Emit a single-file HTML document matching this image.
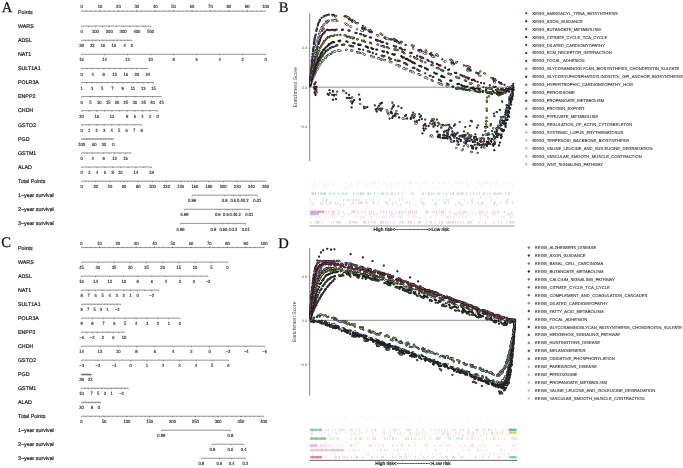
<!DOCTYPE html><html><head><meta charset="utf-8"><title>Figure</title><style>html,body{margin:0;padding:0;background:#fff;width:683px;height:468px;overflow:hidden}svg{display:block}svg text{text-rendering:geometricPrecision}</style></head><body><svg width="683" height="468" viewBox="0 0 683 468">
<style>.rl{font-family:"Liberation Sans", Arial, sans-serif;font-size:5.3px;fill:#1a1a1a;stroke:#1a1a1a;stroke-width:0.18px}.tl{font-family:"Liberation Sans", Arial, sans-serif;font-size:4.6px;fill:#1a1a1a;text-anchor:middle;stroke:#1a1a1a;stroke-width:0.12px}.yt{font-family:"Liberation Sans", Arial, sans-serif;font-size:3.9px;fill:#555;text-anchor:end}.yl{font-family:"Liberation Sans", Arial, sans-serif;font-size:5.1px;fill:#333;text-anchor:middle}.lg{font-family:"Liberation Sans", Arial, sans-serif;font-size:4.17px;fill:#1a1a1a;stroke:#1a1a1a;stroke-width:0.06px}.pl{font-family:"Liberation Serif", "Times New Roman", serif;font-size:14.6px;fill:#111;stroke:#111;stroke-width:0.25px}.rk{font-family:"Liberation Sans", Arial, sans-serif;font-size:4.8px;fill:#111;stroke:#111;stroke-width:0.2px}.ax{stroke:#3a3a3a;stroke-width:0.55}.tk{stroke:#3a3a3a;stroke-width:0.5;fill:none}</style>
<rect width="683" height="468" fill="#ffffff"/>
<text x="1.8" y="11.8" class="pl">A</text>
<text x="278.8" y="11.8" class="pl">B</text>
<text x="1.2" y="247.3" class="pl">C</text>
<text x="278.2" y="247.5" class="pl">D</text>
<text x="18" y="13.7" class="rl">Points</text>
<text x="18" y="27.95" class="rl">WARS</text>
<text x="18" y="42.04" class="rl">ADSL</text>
<text x="18" y="56.13" class="rl">NAT1</text>
<text x="18" y="70.22" class="rl">SULT1A1</text>
<text x="18" y="84.31" class="rl">POLR3A</text>
<text x="18" y="98.4" class="rl">ENPP2</text>
<text x="18" y="112.49" class="rl">CHDH</text>
<text x="18" y="126.58" class="rl">GSTO2</text>
<text x="18" y="140.67" class="rl">PGD</text>
<text x="18" y="154.76" class="rl">GSTM1</text>
<text x="18" y="168.85" class="rl">ALAD</text>
<text x="18" y="182.94" class="rl">Total Points</text>
<text x="18" y="197.03" class="rl">1&#8722;year survival</text>
<text x="18" y="211.12" class="rl">2&#8722;year survival</text>
<text x="18" y="225.21" class="rl">3&#8722;year survival</text>
<line x1="81.6" y1="11.2" x2="265.6" y2="11.2" class="ax"/>
<path d="M81.6 11.2v-1.1M100 11.2v-1.1M118.4 11.2v-1.1M136.8 11.2v-1.1M155.2 11.2v-1.1M173.6 11.2v-1.1M192 11.2v-1.1M210.4 11.2v-1.1M228.8 11.2v-1.1M247.2 11.2v-1.1M265.6 11.2v-1.1M86.2 11.2v-0.77M90.8 11.2v-0.77M95.4 11.2v-0.77M100 11.2v-0.77M104.6 11.2v-0.77M109.2 11.2v-0.77M113.8 11.2v-0.77M118.4 11.2v-0.77M123 11.2v-0.77M127.6 11.2v-0.77M132.2 11.2v-0.77M136.8 11.2v-0.77M141.4 11.2v-0.77M146 11.2v-0.77M150.6 11.2v-0.77M155.2 11.2v-0.77M159.8 11.2v-0.77M164.4 11.2v-0.77M169 11.2v-0.77M173.6 11.2v-0.77M178.2 11.2v-0.77M182.8 11.2v-0.77M187.4 11.2v-0.77M192 11.2v-0.77M196.6 11.2v-0.77M201.2 11.2v-0.77M205.8 11.2v-0.77M210.4 11.2v-0.77M215 11.2v-0.77M219.6 11.2v-0.77M224.2 11.2v-0.77M228.8 11.2v-0.77M233.4 11.2v-0.77M238 11.2v-0.77M242.6 11.2v-0.77M247.2 11.2v-0.77M251.8 11.2v-0.77M256.4 11.2v-0.77M261 11.2v-0.77" class="tk"/>
<line x1="81.6" y1="26.1" x2="150.7" y2="26.1" class="ax"/>
<path d="M81.6 26.1v1.1M88.51 26.1v1.1M95.42 26.1v1.1M102.33 26.1v1.1M109.24 26.1v1.1M116.15 26.1v1.1M123.06 26.1v1.1M129.97 26.1v1.1M136.88 26.1v1.1M143.79 26.1v1.1M150.7 26.1v1.1" class="tk"/>
<line x1="81.6" y1="40.19" x2="131.8" y2="40.19" class="ax"/>
<path d="M81.6 40.19v1.1M85.19 40.19v1.1M88.77 40.19v1.1M92.36 40.19v1.1M95.94 40.19v1.1M99.53 40.19v1.1M103.11 40.19v1.1M106.7 40.19v1.1M110.29 40.19v1.1M113.87 40.19v1.1M117.46 40.19v1.1M121.04 40.19v1.1M124.63 40.19v1.1M128.21 40.19v1.1M131.8 40.19v1.1" class="tk"/>
<line x1="81.6" y1="54.28" x2="265.6" y2="54.28" class="ax"/>
<path d="M81.6 54.28v1.1M104.6 54.28v1.1M127.6 54.28v1.1M150.6 54.28v1.1M173.6 54.28v1.1M196.6 54.28v1.1M219.6 54.28v1.1M242.6 54.28v1.1M265.6 54.28v1.1" class="tk"/>
<line x1="81.6" y1="68.37" x2="147.8" y2="68.37" class="ax"/>
<path d="M81.6 68.37v1.1M87.12 68.37v1.1M92.63 68.37v1.1M98.15 68.37v1.1M103.67 68.37v1.1M109.18 68.37v1.1M114.7 68.37v1.1M120.22 68.37v1.1M125.73 68.37v1.1M131.25 68.37v1.1M136.77 68.37v1.1M142.28 68.37v1.1M147.8 68.37v1.1" class="tk"/>
<line x1="81.6" y1="82.46" x2="153.6" y2="82.46" class="ax"/>
<path d="M81.6 82.46v1.1M86.74 82.46v1.1M91.89 82.46v1.1M97.03 82.46v1.1M102.17 82.46v1.1M107.31 82.46v1.1M112.46 82.46v1.1M117.6 82.46v1.1M122.74 82.46v1.1M127.89 82.46v1.1M133.03 82.46v1.1M138.17 82.46v1.1M143.31 82.46v1.1M148.46 82.46v1.1M153.6 82.46v1.1" class="tk"/>
<line x1="81.6" y1="96.55" x2="161.4" y2="96.55" class="ax"/>
<path d="M81.6 96.55v1.1M90.47 96.55v1.1M99.33 96.55v1.1M108.2 96.55v1.1M117.07 96.55v1.1M125.93 96.55v1.1M134.8 96.55v1.1M143.67 96.55v1.1M152.53 96.55v1.1M161.4 96.55v1.1" class="tk"/>
<line x1="81.6" y1="110.64" x2="157.7" y2="110.64" class="ax"/>
<path d="M81.6 110.64v1.1M89.21 110.64v1.1M96.82 110.64v1.1M104.43 110.64v1.1M112.04 110.64v1.1M119.65 110.64v1.1M127.26 110.64v1.1M134.87 110.64v1.1M142.48 110.64v1.1M150.09 110.64v1.1M157.7 110.64v1.1" class="tk"/>
<line x1="81.6" y1="124.73" x2="141.6" y2="124.73" class="ax"/>
<path d="M81.6 124.73v1.1M89.1 124.73v1.1M96.6 124.73v1.1M104.1 124.73v1.1M111.6 124.73v1.1M119.1 124.73v1.1M126.6 124.73v1.1M134.1 124.73v1.1M141.6 124.73v1.1" class="tk"/>
<line x1="81.6" y1="138.82" x2="113.4" y2="138.82" class="ax"/>
<path d="M81.6 138.82v1.1M83.19 138.82v1.1M84.78 138.82v1.1M86.37 138.82v1.1M87.96 138.82v1.1M89.55 138.82v1.1M91.14 138.82v1.1M92.73 138.82v1.1M94.32 138.82v1.1M95.91 138.82v1.1M97.5 138.82v1.1M99.09 138.82v1.1M100.68 138.82v1.1M102.27 138.82v1.1M103.86 138.82v1.1M105.45 138.82v1.1M107.04 138.82v1.1M108.63 138.82v1.1M110.22 138.82v1.1M111.81 138.82v1.1M113.4 138.82v1.1" class="tk"/>
<line x1="81.6" y1="152.91" x2="131" y2="152.91" class="ax"/>
<path d="M81.6 152.91v1.1M87.09 152.91v1.1M92.58 152.91v1.1M98.07 152.91v1.1M103.56 152.91v1.1M109.04 152.91v1.1M114.53 152.91v1.1M120.02 152.91v1.1M125.51 152.91v1.1M131 152.91v1.1" class="tk"/>
<line x1="81.6" y1="167" x2="151.4" y2="167" class="ax"/>
<path d="M81.6 167v1.1M89.36 167v1.1M97.11 167v1.1M104.87 167v1.1M112.62 167v1.1M120.38 167v1.1M128.13 167v1.1M135.89 167v1.1M143.64 167v1.1M151.4 167v1.1" class="tk"/>
<line x1="81.6" y1="181.09" x2="265.6" y2="181.09" class="ax"/>
<path d="M81.6 181.09v1.1M95.75 181.09v1.1M109.91 181.09v1.1M124.06 181.09v1.1M138.22 181.09v1.1M152.37 181.09v1.1M166.52 181.09v1.1M180.68 181.09v1.1M194.83 181.09v1.1M208.98 181.09v1.1M223.14 181.09v1.1M237.29 181.09v1.1M251.45 181.09v1.1M265.6 181.09v1.1M85.14 181.09v0.77M88.68 181.09v0.77M92.22 181.09v0.77M95.75 181.09v0.77M99.29 181.09v0.77M102.83 181.09v0.77M106.37 181.09v0.77M109.91 181.09v0.77M113.45 181.09v0.77M116.98 181.09v0.77M120.52 181.09v0.77M124.06 181.09v0.77M127.6 181.09v0.77M131.14 181.09v0.77M134.68 181.09v0.77M138.22 181.09v0.77M141.75 181.09v0.77M145.29 181.09v0.77M148.83 181.09v0.77M152.37 181.09v0.77M155.91 181.09v0.77M159.45 181.09v0.77M162.98 181.09v0.77M166.52 181.09v0.77M170.06 181.09v0.77M173.6 181.09v0.77M177.14 181.09v0.77M180.68 181.09v0.77M184.22 181.09v0.77M187.75 181.09v0.77M191.29 181.09v0.77M194.83 181.09v0.77M198.37 181.09v0.77M201.91 181.09v0.77M205.45 181.09v0.77M208.98 181.09v0.77M212.52 181.09v0.77M216.06 181.09v0.77M219.6 181.09v0.77M223.14 181.09v0.77M226.68 181.09v0.77M230.22 181.09v0.77M233.75 181.09v0.77M237.29 181.09v0.77M240.83 181.09v0.77M244.37 181.09v0.77M247.91 181.09v0.77M251.45 181.09v0.77M254.98 181.09v0.77M258.52 181.09v0.77M262.06 181.09v0.77" class="tk"/>
<line x1="192" y1="195.18" x2="257.4" y2="195.18" class="ax"/>
<path d="M192 195.18v1.1M224.7 195.18v1.1M233.3 195.18v1.1M240 195.18v1.1M245.7 195.18v1.1M257.4 195.18v1.1" class="tk"/>
<line x1="184.5" y1="209.27" x2="249.4" y2="209.27" class="ax"/>
<path d="M184.5 209.27v1.1M217.8 209.27v1.1M226 209.27v1.1M232.5 209.27v1.1M238 209.27v1.1M249.4 209.27v1.1" class="tk"/>
<line x1="180.5" y1="223.36" x2="245.7" y2="223.36" class="ax"/>
<path d="M180.5 223.36v1.1M213.5 223.36v1.1M222.3 223.36v1.1M228 223.36v1.1M234.4 223.36v1.1M245.7 223.36v1.1" class="tk"/>
<text x="18" y="249.8" class="rl">Points</text>
<text x="18" y="263.95" class="rl">WARS</text>
<text x="18" y="277.96" class="rl">ADSL</text>
<text x="18" y="291.97" class="rl">NAT1</text>
<text x="18" y="305.98" class="rl">SULT1A1</text>
<text x="18" y="319.99" class="rl">POLR3A</text>
<text x="18" y="334" class="rl">ENPP2</text>
<text x="18" y="348.01" class="rl">CHDH</text>
<text x="18" y="362.02" class="rl">GSTO2</text>
<text x="18" y="376.03" class="rl">PGD</text>
<text x="18" y="390.04" class="rl">GSTM1</text>
<text x="18" y="404.05" class="rl">ALAD</text>
<text x="18" y="418.06" class="rl">Total Points</text>
<text x="18" y="432.07" class="rl">1&#8722;year survival</text>
<text x="18" y="446.08" class="rl">2&#8722;year survival</text>
<text x="18" y="460.09" class="rl">3&#8722;year survival</text>
<line x1="81.3" y1="247.6" x2="264.2" y2="247.6" class="ax"/>
<path d="M81.3 247.6v-1.1M99.59 247.6v-1.1M117.88 247.6v-1.1M136.17 247.6v-1.1M154.46 247.6v-1.1M172.75 247.6v-1.1M191.04 247.6v-1.1M209.33 247.6v-1.1M227.62 247.6v-1.1M245.91 247.6v-1.1M264.2 247.6v-1.1M85.87 247.6v-0.77M90.44 247.6v-0.77M95.02 247.6v-0.77M99.59 247.6v-0.77M104.16 247.6v-0.77M108.73 247.6v-0.77M113.31 247.6v-0.77M117.88 247.6v-0.77M122.45 247.6v-0.77M127.02 247.6v-0.77M131.6 247.6v-0.77M136.17 247.6v-0.77M140.74 247.6v-0.77M145.31 247.6v-0.77M149.89 247.6v-0.77M154.46 247.6v-0.77M159.03 247.6v-0.77M163.6 247.6v-0.77M168.18 247.6v-0.77M172.75 247.6v-0.77M177.32 247.6v-0.77M181.89 247.6v-0.77M186.47 247.6v-0.77M191.04 247.6v-0.77M195.61 247.6v-0.77M200.18 247.6v-0.77M204.76 247.6v-0.77M209.33 247.6v-0.77M213.9 247.6v-0.77M218.47 247.6v-0.77M223.05 247.6v-0.77M227.62 247.6v-0.77M232.19 247.6v-0.77M236.76 247.6v-0.77M241.34 247.6v-0.77M245.91 247.6v-0.77M250.48 247.6v-0.77M255.05 247.6v-0.77M259.63 247.6v-0.77" class="tk"/>
<line x1="81.6" y1="262.1" x2="227.5" y2="262.1" class="ax"/>
<path d="M81.6 262.1v1.1M97.81 262.1v1.1M114.02 262.1v1.1M130.23 262.1v1.1M146.44 262.1v1.1M162.66 262.1v1.1M178.87 262.1v1.1M195.08 262.1v1.1M211.29 262.1v1.1M227.5 262.1v1.1" class="tk"/>
<line x1="81.6" y1="276.11" x2="208" y2="276.11" class="ax"/>
<path d="M81.6 276.11v1.1M95.64 276.11v1.1M109.69 276.11v1.1M123.73 276.11v1.1M137.78 276.11v1.1M151.82 276.11v1.1M165.87 276.11v1.1M179.91 276.11v1.1M193.96 276.11v1.1M208 276.11v1.1" class="tk"/>
<line x1="81.6" y1="290.12" x2="158.7" y2="290.12" class="ax"/>
<path d="M81.6 290.12v1.1M88.61 290.12v1.1M95.62 290.12v1.1M102.63 290.12v1.1M109.64 290.12v1.1M116.65 290.12v1.1M123.65 290.12v1.1M130.66 290.12v1.1M137.67 290.12v1.1M144.68 290.12v1.1M151.69 290.12v1.1M158.7 290.12v1.1" class="tk"/>
<line x1="81.6" y1="304.13" x2="120.4" y2="304.13" class="ax"/>
<path d="M81.6 304.13v1.1M84.83 304.13v1.1M88.07 304.13v1.1M91.3 304.13v1.1M94.53 304.13v1.1M97.77 304.13v1.1M101 304.13v1.1M104.23 304.13v1.1M107.47 304.13v1.1M110.7 304.13v1.1M113.93 304.13v1.1M117.17 304.13v1.1M120.4 304.13v1.1" class="tk"/>
<line x1="81.6" y1="318.14" x2="179.8" y2="318.14" class="ax"/>
<path d="M81.6 318.14v1.1M92.51 318.14v1.1M103.42 318.14v1.1M114.33 318.14v1.1M125.24 318.14v1.1M136.16 318.14v1.1M147.07 318.14v1.1M157.98 318.14v1.1M168.89 318.14v1.1M179.8 318.14v1.1" class="tk"/>
<line x1="81.6" y1="332.15" x2="124" y2="332.15" class="ax"/>
<path d="M81.6 332.15v1.1M86.9 332.15v1.1M92.2 332.15v1.1M97.5 332.15v1.1M102.8 332.15v1.1M108.1 332.15v1.1M113.4 332.15v1.1M118.7 332.15v1.1M124 332.15v1.1" class="tk"/>
<line x1="81.6" y1="346.16" x2="264.6" y2="346.16" class="ax"/>
<path d="M81.6 346.16v1.1M99.9 346.16v1.1M118.2 346.16v1.1M136.5 346.16v1.1M154.8 346.16v1.1M173.1 346.16v1.1M191.4 346.16v1.1M209.7 346.16v1.1M228 346.16v1.1M246.3 346.16v1.1M264.6 346.16v1.1" class="tk"/>
<line x1="81.6" y1="360.17" x2="228.5" y2="360.17" class="ax"/>
<path d="M81.6 360.17v1.1M97.92 360.17v1.1M114.24 360.17v1.1M130.57 360.17v1.1M146.89 360.17v1.1M163.21 360.17v1.1M179.53 360.17v1.1M195.86 360.17v1.1M212.18 360.17v1.1M228.5 360.17v1.1" class="tk"/>
<line x1="81.6" y1="374.18" x2="91.4" y2="374.18" class="ax"/>
<path d="M81.6 374.18v1.1M82.14 374.18v1.1M82.69 374.18v1.1M83.23 374.18v1.1M83.78 374.18v1.1M84.32 374.18v1.1M84.87 374.18v1.1M85.41 374.18v1.1M85.96 374.18v1.1M86.5 374.18v1.1M87.04 374.18v1.1M87.59 374.18v1.1M88.13 374.18v1.1M88.68 374.18v1.1M89.22 374.18v1.1M89.77 374.18v1.1M90.31 374.18v1.1M90.86 374.18v1.1M91.4 374.18v1.1" class="tk"/>
<line x1="81.6" y1="388.19" x2="128.2" y2="388.19" class="ax"/>
<path d="M81.6 388.19v1.1M84.93 388.19v1.1M88.26 388.19v1.1M91.59 388.19v1.1M94.91 388.19v1.1M98.24 388.19v1.1M101.57 388.19v1.1M104.9 388.19v1.1M108.23 388.19v1.1M111.56 388.19v1.1M114.89 388.19v1.1M118.21 388.19v1.1M121.54 388.19v1.1M124.87 388.19v1.1M128.2 388.19v1.1" class="tk"/>
<line x1="81.6" y1="402.2" x2="100.6" y2="402.2" class="ax"/>
<path d="M81.6 402.2v1.1M83.33 402.2v1.1M85.05 402.2v1.1M86.78 402.2v1.1M88.51 402.2v1.1M90.24 402.2v1.1M91.96 402.2v1.1M93.69 402.2v1.1M95.42 402.2v1.1M97.15 402.2v1.1M98.87 402.2v1.1M100.6 402.2v1.1" class="tk"/>
<line x1="81.3" y1="416.21" x2="263.7" y2="416.21" class="ax"/>
<path d="M81.3 416.21v1.1M104.1 416.21v1.1M126.9 416.21v1.1M149.7 416.21v1.1M172.5 416.21v1.1M195.3 416.21v1.1M218.1 416.21v1.1M240.9 416.21v1.1M263.7 416.21v1.1M85.86 416.21v0.77M90.42 416.21v0.77M94.98 416.21v0.77M99.54 416.21v0.77M104.1 416.21v0.77M108.66 416.21v0.77M113.22 416.21v0.77M117.78 416.21v0.77M122.34 416.21v0.77M126.9 416.21v0.77M131.46 416.21v0.77M136.02 416.21v0.77M140.58 416.21v0.77M145.14 416.21v0.77M149.7 416.21v0.77M154.26 416.21v0.77M158.82 416.21v0.77M163.38 416.21v0.77M167.94 416.21v0.77M172.5 416.21v0.77M177.06 416.21v0.77M181.62 416.21v0.77M186.18 416.21v0.77M190.74 416.21v0.77M195.3 416.21v0.77M199.86 416.21v0.77M204.42 416.21v0.77M208.98 416.21v0.77M213.54 416.21v0.77M218.1 416.21v0.77M222.66 416.21v0.77M227.22 416.21v0.77M231.78 416.21v0.77M236.34 416.21v0.77M240.9 416.21v0.77M245.46 416.21v0.77M250.02 416.21v0.77M254.58 416.21v0.77M259.14 416.21v0.77" class="tk"/>
<line x1="161.4" y1="430.22" x2="230.5" y2="430.22" class="ax"/>
<path d="M161.4 430.22v1.1M230.5 430.22v1.1" class="tk"/>
<line x1="212.4" y1="444.23" x2="243.7" y2="444.23" class="ax"/>
<path d="M212.4 444.23v1.1M230.5 444.23v1.1M243.7 444.23v1.1" class="tk"/>
<line x1="201.3" y1="458.24" x2="245.4" y2="458.24" class="ax"/>
<path d="M201.3 458.24v1.1M219.4 458.24v1.1M231.7 458.24v1.1M245.4 458.24v1.1" class="tk"/>
<g transform="scale(0.9 1)"><text x="90.67" y="8.3" class="tl">0</text><text x="111.11" y="8.3" class="tl">10</text><text x="131.56" y="8.3" class="tl">20</text><text x="152" y="8.3" class="tl">30</text><text x="172.44" y="8.3" class="tl">40</text><text x="192.89" y="8.3" class="tl">50</text><text x="213.33" y="8.3" class="tl">60</text><text x="233.78" y="8.3" class="tl">70</text><text x="254.22" y="8.3" class="tl">80</text><text x="274.67" y="8.3" class="tl">90</text><text x="295.11" y="8.3" class="tl">100</text><text x="90.67" y="33.3" class="tl">0</text><text x="106.02" y="33.3" class="tl">100</text><text x="121.38" y="33.3" class="tl">200</text><text x="136.73" y="33.3" class="tl">300</text><text x="152.09" y="33.3" class="tl">400</text><text x="167.44" y="33.3" class="tl">500</text><text x="90.67" y="47.39" class="tl">28</text><text x="102.62" y="47.39" class="tl">22</text><text x="114.57" y="47.39" class="tl">16</text><text x="126.52" y="47.39" class="tl">10</text><text x="138.48" y="47.39" class="tl">4</text><text x="146.44" y="47.39" class="tl">0</text><text x="90.67" y="61.48" class="tl">16</text><text x="116.22" y="61.48" class="tl">14</text><text x="141.78" y="61.48" class="tl">12</text><text x="167.33" y="61.48" class="tl">10</text><text x="192.89" y="61.48" class="tl">8</text><text x="218.44" y="61.48" class="tl">6</text><text x="244" y="61.48" class="tl">4</text><text x="269.56" y="61.48" class="tl">2</text><text x="295.11" y="61.48" class="tl">0</text><text x="90.67" y="75.57" class="tl">0</text><text x="102.93" y="75.57" class="tl">4</text><text x="115.19" y="75.57" class="tl">8</text><text x="127.44" y="75.57" class="tl">12</text><text x="139.7" y="75.57" class="tl">16</text><text x="151.96" y="75.57" class="tl">20</text><text x="164.22" y="75.57" class="tl">24</text><text x="90.67" y="89.66" class="tl">1</text><text x="102.1" y="89.66" class="tl">3</text><text x="113.52" y="89.66" class="tl">5</text><text x="124.95" y="89.66" class="tl">7</text><text x="136.38" y="89.66" class="tl">9</text><text x="147.81" y="89.66" class="tl">11</text><text x="159.24" y="89.66" class="tl">13</text><text x="170.67" y="89.66" class="tl">15</text><text x="90.67" y="103.75" class="tl">0</text><text x="100.52" y="103.75" class="tl">5</text><text x="110.37" y="103.75" class="tl">10</text><text x="120.22" y="103.75" class="tl">15</text><text x="130.07" y="103.75" class="tl">20</text><text x="139.93" y="103.75" class="tl">25</text><text x="149.78" y="103.75" class="tl">30</text><text x="159.63" y="103.75" class="tl">35</text><text x="169.48" y="103.75" class="tl">40</text><text x="179.33" y="103.75" class="tl">45</text><text x="90.67" y="117.84" class="tl">20</text><text x="107.58" y="117.84" class="tl">16</text><text x="124.49" y="117.84" class="tl">12</text><text x="141.4" y="117.84" class="tl">8</text><text x="149.86" y="117.84" class="tl">6</text><text x="158.31" y="117.84" class="tl">4</text><text x="166.77" y="117.84" class="tl">2</text><text x="175.22" y="117.84" class="tl">0</text><text x="90.67" y="131.93" class="tl">0</text><text x="99" y="131.93" class="tl">1</text><text x="107.33" y="131.93" class="tl">2</text><text x="115.67" y="131.93" class="tl">3</text><text x="124" y="131.93" class="tl">4</text><text x="132.33" y="131.93" class="tl">5</text><text x="140.67" y="131.93" class="tl">6</text><text x="149" y="131.93" class="tl">7</text><text x="157.33" y="131.93" class="tl">8</text><text x="90.67" y="146.02" class="tl">100</text><text x="104.8" y="146.02" class="tl">60</text><text x="115.4" y="146.02" class="tl">30</text><text x="126" y="146.02" class="tl">0</text><text x="90.67" y="160.11" class="tl">0</text><text x="102.86" y="160.11" class="tl">4</text><text x="115.06" y="160.11" class="tl">8</text><text x="127.26" y="160.11" class="tl">12</text><text x="139.46" y="160.11" class="tl">16</text><text x="90.67" y="174.2" class="tl">0</text><text x="99.28" y="174.2" class="tl">2</text><text x="107.9" y="174.2" class="tl">4</text><text x="116.52" y="174.2" class="tl">6</text><text x="125.14" y="174.2" class="tl">8</text><text x="133.75" y="174.2" class="tl">10</text><text x="150.99" y="174.2" class="tl">14</text><text x="168.22" y="174.2" class="tl">18</text><text x="90.67" y="188.29" class="tl">0</text><text x="106.39" y="188.29" class="tl">20</text><text x="122.12" y="188.29" class="tl">40</text><text x="137.85" y="188.29" class="tl">60</text><text x="153.57" y="188.29" class="tl">80</text><text x="169.3" y="188.29" class="tl">100</text><text x="185.03" y="188.29" class="tl">120</text><text x="200.75" y="188.29" class="tl">140</text><text x="216.48" y="188.29" class="tl">160</text><text x="232.21" y="188.29" class="tl">180</text><text x="247.93" y="188.29" class="tl">200</text><text x="263.66" y="188.29" class="tl">220</text><text x="279.38" y="188.29" class="tl">240</text><text x="295.11" y="188.29" class="tl">260</text><text x="213.33" y="202.38" class="tl">0.99</text><text x="249.67" y="202.38" class="tl">0.8</text><text x="259.22" y="202.38" class="tl">0.6</text><text x="266.67" y="202.38" class="tl">0.4</text><text x="273" y="202.38" class="tl">0.2</text><text x="286" y="202.38" class="tl">0.01</text><text x="205" y="216.47" class="tl">0.99</text><text x="242" y="216.47" class="tl">0.8</text><text x="251.11" y="216.47" class="tl">0.6</text><text x="258.33" y="216.47" class="tl">0.4</text><text x="264.44" y="216.47" class="tl">0.2</text><text x="277.11" y="216.47" class="tl">0.01</text><text x="200.56" y="230.56" class="tl">0.99</text><text x="237.22" y="230.56" class="tl">0.8</text><text x="247" y="230.56" class="tl">0.6</text><text x="253.33" y="230.56" class="tl">0.4</text><text x="260.44" y="230.56" class="tl">0.2</text><text x="273" y="230.56" class="tl">0.01</text><text x="90.33" y="244.7" class="tl">0</text><text x="110.66" y="244.7" class="tl">10</text><text x="130.98" y="244.7" class="tl">20</text><text x="151.3" y="244.7" class="tl">30</text><text x="171.62" y="244.7" class="tl">40</text><text x="191.94" y="244.7" class="tl">50</text><text x="212.27" y="244.7" class="tl">60</text><text x="232.59" y="244.7" class="tl">70</text><text x="252.91" y="244.7" class="tl">80</text><text x="273.23" y="244.7" class="tl">90</text><text x="293.56" y="244.7" class="tl">100</text><text x="90.67" y="269.3" class="tl">45</text><text x="108.68" y="269.3" class="tl">40</text><text x="126.69" y="269.3" class="tl">35</text><text x="144.7" y="269.3" class="tl">30</text><text x="162.72" y="269.3" class="tl">25</text><text x="180.73" y="269.3" class="tl">20</text><text x="198.74" y="269.3" class="tl">15</text><text x="216.75" y="269.3" class="tl">10</text><text x="234.77" y="269.3" class="tl">5</text><text x="252.78" y="269.3" class="tl">0</text><text x="90.67" y="283.31" class="tl">16</text><text x="106.27" y="283.31" class="tl">14</text><text x="121.88" y="283.31" class="tl">12</text><text x="137.48" y="283.31" class="tl">10</text><text x="153.09" y="283.31" class="tl">8</text><text x="168.69" y="283.31" class="tl">6</text><text x="184.3" y="283.31" class="tl">4</text><text x="199.9" y="283.31" class="tl">2</text><text x="215.51" y="283.31" class="tl">0</text><text x="231.11" y="283.31" class="tl">&#8722;2</text><text x="90.67" y="297.32" class="tl">8</text><text x="98.45" y="297.32" class="tl">7</text><text x="106.24" y="297.32" class="tl">6</text><text x="114.03" y="297.32" class="tl">5</text><text x="121.82" y="297.32" class="tl">4</text><text x="129.61" y="297.32" class="tl">3</text><text x="137.39" y="297.32" class="tl">2</text><text x="145.18" y="297.32" class="tl">1</text><text x="152.97" y="297.32" class="tl">0</text><text x="168.55" y="297.32" class="tl">&#8722;2</text><text x="90.67" y="311.33" class="tl">9</text><text x="97.85" y="311.33" class="tl">7</text><text x="105.04" y="311.33" class="tl">5</text><text x="112.22" y="311.33" class="tl">3</text><text x="119.41" y="311.33" class="tl">1</text><text x="130.19" y="311.33" class="tl">&#8722;2</text><text x="90.67" y="325.34" class="tl">9</text><text x="102.79" y="325.34" class="tl">8</text><text x="114.91" y="325.34" class="tl">7</text><text x="127.04" y="325.34" class="tl">6</text><text x="139.16" y="325.34" class="tl">5</text><text x="151.28" y="325.34" class="tl">4</text><text x="163.41" y="325.34" class="tl">3</text><text x="175.53" y="325.34" class="tl">2</text><text x="187.65" y="325.34" class="tl">1</text><text x="199.78" y="325.34" class="tl">0</text><text x="90.67" y="339.35" class="tl">&#8722;6</text><text x="102.44" y="339.35" class="tl">&#8722;2</text><text x="114.22" y="339.35" class="tl">2</text><text x="126" y="339.35" class="tl">6</text><text x="137.78" y="339.35" class="tl">10</text><text x="90.67" y="353.36" class="tl">14</text><text x="111" y="353.36" class="tl">12</text><text x="131.33" y="353.36" class="tl">10</text><text x="151.67" y="353.36" class="tl">8</text><text x="172" y="353.36" class="tl">6</text><text x="192.33" y="353.36" class="tl">4</text><text x="212.67" y="353.36" class="tl">2</text><text x="233" y="353.36" class="tl">0</text><text x="253.33" y="353.36" class="tl">&#8722;2</text><text x="273.67" y="353.36" class="tl">&#8722;4</text><text x="294" y="353.36" class="tl">&#8722;6</text><text x="90.67" y="367.37" class="tl">&#8722;3</text><text x="108.8" y="367.37" class="tl">&#8722;2</text><text x="126.94" y="367.37" class="tl">&#8722;1</text><text x="145.07" y="367.37" class="tl">0</text><text x="163.21" y="367.37" class="tl">1</text><text x="181.35" y="367.37" class="tl">2</text><text x="199.48" y="367.37" class="tl">3</text><text x="217.62" y="367.37" class="tl">4</text><text x="235.75" y="367.37" class="tl">5</text><text x="253.89" y="367.37" class="tl">6</text><text x="90.67" y="381.38" class="tl">38</text><text x="100.35" y="381.38" class="tl">22</text><text x="90.67" y="395.39" class="tl">10</text><text x="101.76" y="395.39" class="tl">7</text><text x="109.16" y="395.39" class="tl">5</text><text x="116.56" y="395.39" class="tl">3</text><text x="123.95" y="395.39" class="tl">1</text><text x="135.05" y="395.39" class="tl">&#8722;2</text><text x="90.67" y="409.4" class="tl">20</text><text x="102.18" y="409.4" class="tl">8</text><text x="109.86" y="409.4" class="tl">0</text><text x="90.33" y="423.41" class="tl">0</text><text x="115.67" y="423.41" class="tl">50</text><text x="141" y="423.41" class="tl">100</text><text x="166.33" y="423.41" class="tl">150</text><text x="191.67" y="423.41" class="tl">200</text><text x="217" y="423.41" class="tl">250</text><text x="242.33" y="423.41" class="tl">300</text><text x="267.67" y="423.41" class="tl">350</text><text x="293" y="423.41" class="tl">400</text><text x="179.33" y="437.42" class="tl">0.99</text><text x="256.11" y="437.42" class="tl">0.8</text><text x="236" y="451.43" class="tl">0.8</text><text x="256.11" y="451.43" class="tl">0.6</text><text x="270.78" y="451.43" class="tl">0.4</text><text x="223.67" y="465.44" class="tl">0.8</text><text x="243.78" y="465.44" class="tl">0.6</text><text x="257.44" y="465.44" class="tl">0.4</text><text x="272.67" y="465.44" class="tl">0.2</text></g>
<line x1="309.7" y1="13.2" x2="309.7" y2="161.2" stroke="#555" stroke-width="0.75"/>
<line x1="309.7" y1="87.2" x2="513.8" y2="87.2" stroke="#333" stroke-width="0.55"/>
<line x1="308.4" y1="48.0" x2="309.7" y2="48.0" stroke="#555" stroke-width="0.5"/>
<text x="307.09999999999997" y="49.4" class="yt">0.4</text>
<line x1="308.4" y1="87.2" x2="309.7" y2="87.2" stroke="#555" stroke-width="0.5"/>
<text x="307.09999999999997" y="88.6" class="yt">0.0</text>
<line x1="308.4" y1="126.8" x2="309.7" y2="126.8" stroke="#555" stroke-width="0.5"/>
<text x="307.09999999999997" y="128.2" class="yt">&#8722;0.4</text>
<text transform="translate(296.9,87.2) rotate(-90)" class="yl">Enrichment Score</text>
<path d="M314.7 88.8h0M315.5 92.8h0M332.9 91.3h0M364.3 108.3h0M389.6 118.6h0M399.1 117.5h0M413.7 117.8h0M423.6 125.8h0M424.4 124.7h0M425.3 123.9h0M438.7 137.2h0M439.4 136.0h0M444.0 138.2h0M450.5 139.0h0M451.5 141.8h0M457.2 140.7h0M462.3 135.5h0M463.0 136.4h0M464.0 136.6h0M468.4 138.4h0M469.6 140.9h0M474.2 141.7h0M474.8 144.8h0M481.2 141.6h0M486.9 145.9h0M490.1 144.1h0M490.9 141.4h0M491.3 141.8h0M494.1 143.7h0M496.3 136.7h0M499.1 134.4h0M501.1 125.4h0M503.0 123.2h0M505.4 115.2h0M505.7 120.0h0M505.8 116.5h0M507.8 116.7h0M508.1 114.8h0M508.2 111.4h0M508.8 107.8h0M509.3 107.9h0M510.8 95.3h0M512.1 97.2h0M512.2 96.3h0M512.7 96.0h0M513.5 90.1h0" stroke="#1c1c1c" stroke-width="2.3" stroke-linecap="round" fill="none"/>
<path d="M314.7 88.8h0M315.5 92.8h0M332.9 91.3h0M364.3 108.3h0M389.6 118.6h0M399.1 117.5h0M413.7 117.8h0M423.6 125.8h0M424.4 124.7h0M425.3 123.9h0M438.7 137.2h0M439.4 136.0h0M444.0 138.2h0M450.5 139.0h0M451.5 141.8h0M457.2 140.7h0M462.3 135.5h0M463.0 136.4h0M464.0 136.6h0M468.4 138.4h0M469.6 140.9h0M474.2 141.7h0M474.8 144.8h0M481.2 141.6h0M486.9 145.9h0M490.1 144.1h0M490.9 141.4h0M491.3 141.8h0M494.1 143.7h0M496.3 136.7h0M499.1 134.4h0M501.1 125.4h0M503.0 123.2h0M505.4 115.2h0M505.7 120.0h0M505.8 116.5h0M507.8 116.7h0M508.1 114.8h0M508.2 111.4h0M508.8 107.8h0M509.3 107.9h0M510.8 95.3h0M512.1 97.2h0M512.2 96.3h0M512.7 96.0h0M513.5 90.1h0" stroke="#1f2a5c" stroke-width="1.15" stroke-linecap="round" fill="none"/>
<path d="M314.6 87.4h0M348.3 97.8h0M349.0 95.0h0M349.7 98.2h0M374.8 105.4h0M393.0 107.0h0M393.9 105.4h0M413.2 115.7h0M414.0 116.9h0M414.6 116.6h0M421.9 118.9h0M433.4 126.7h0M434.2 123.0h0M434.9 125.2h0M441.3 127.7h0M447.1 130.6h0M447.7 133.5h0M454.3 133.5h0M457.6 132.7h0M463.9 135.2h0M464.7 138.8h0M465.6 134.9h0M469.5 135.5h0M470.2 138.4h0M471.0 136.6h0M475.4 134.3h0M476.1 139.8h0M476.9 140.2h0M483.3 144.2h0M484.1 141.0h0M488.4 133.3h0M489.2 134.4h0M492.0 131.1h0M495.5 132.8h0M496.5 128.9h0M500.3 120.9h0M500.5 120.5h0M500.9 117.5h0M503.3 116.9h0M505.9 110.9h0M506.2 114.1h0M506.5 111.4h0M508.2 105.4h0M508.5 107.4h0M510.2 100.0h0M510.3 100.5h0M511.7 95.8h0M511.9 94.2h0M513.0 88.1h0M513.3 83.8h0" stroke="#1c1c1c" stroke-width="2.3" stroke-linecap="round" fill="none"/>
<path d="M314.6 87.4h0M348.3 97.8h0M349.0 95.0h0M349.7 98.2h0M374.8 105.4h0M393.0 107.0h0M393.9 105.4h0M413.2 115.7h0M414.0 116.9h0M414.6 116.6h0M421.9 118.9h0M433.4 126.7h0M434.2 123.0h0M434.9 125.2h0M441.3 127.7h0M447.1 130.6h0M447.7 133.5h0M454.3 133.5h0M457.6 132.7h0M463.9 135.2h0M464.7 138.8h0M465.6 134.9h0M469.5 135.5h0M470.2 138.4h0M471.0 136.6h0M475.4 134.3h0M476.1 139.8h0M476.9 140.2h0M483.3 144.2h0M484.1 141.0h0M488.4 133.3h0M489.2 134.4h0M492.0 131.1h0M495.5 132.8h0M496.5 128.9h0M500.3 120.9h0M500.5 120.5h0M500.9 117.5h0M503.3 116.9h0M505.9 110.9h0M506.2 114.1h0M506.5 111.4h0M508.2 105.4h0M508.5 107.4h0M510.2 100.0h0M510.3 100.5h0M511.7 95.8h0M511.9 94.2h0M513.0 88.1h0M513.3 83.8h0" stroke="#2a8a8a" stroke-width="1.15" stroke-linecap="round" fill="none"/>
<path d="M314.7 87.2h0M315.5 92.0h0M332.2 94.8h0M333.1 91.6h0M334.0 95.6h0M359.1 94.6h0M359.9 99.6h0M391.7 108.7h0M392.4 102.7h0M393.6 105.4h0M401.5 108.0h0M419.3 114.2h0M420.0 117.2h0M421.0 115.8h0M431.3 121.2h0M432.3 124.2h0M433.1 119.7h0M436.9 119.6h0M437.7 125.8h0M438.3 122.7h0M442.5 125.0h0M443.7 125.4h0M448.3 125.0h0M449.3 124.8h0M449.9 127.1h0M454.0 125.8h0M454.8 124.4h0M455.2 124.6h0M459.7 122.1h0M464.0 131.4h0M465.3 127.1h0M470.0 125.8h0M470.8 120.9h0M471.9 121.5h0M476.9 127.7h0M478.1 125.3h0M485.2 127.2h0M486.3 121.6h0M487.3 126.9h0M490.5 125.5h0M491.0 124.1h0M493.9 113.6h0M494.4 116.2h0M496.6 112.2h0M497.0 112.1h0M499.8 110.0h0M502.0 101.3h0M502.2 101.8h0M505.6 92.7h0M508.9 91.7h0M509.3 97.3h0M513.1 87.8h0" stroke="#1c1c1c" stroke-width="2.3" stroke-linecap="round" fill="none"/>
<path d="M314.7 87.2h0M315.5 92.0h0M332.2 94.8h0M333.1 91.6h0M334.0 95.6h0M359.1 94.6h0M359.9 99.6h0M391.7 108.7h0M392.4 102.7h0M393.6 105.4h0M401.5 108.0h0M419.3 114.2h0M420.0 117.2h0M421.0 115.8h0M431.3 121.2h0M432.3 124.2h0M433.1 119.7h0M436.9 119.6h0M437.7 125.8h0M438.3 122.7h0M442.5 125.0h0M443.7 125.4h0M448.3 125.0h0M449.3 124.8h0M449.9 127.1h0M454.0 125.8h0M454.8 124.4h0M455.2 124.6h0M459.7 122.1h0M464.0 131.4h0M465.3 127.1h0M470.0 125.8h0M470.8 120.9h0M471.9 121.5h0M476.9 127.7h0M478.1 125.3h0M485.2 127.2h0M486.3 121.6h0M487.3 126.9h0M490.5 125.5h0M491.0 124.1h0M493.9 113.6h0M494.4 116.2h0M496.6 112.2h0M497.0 112.1h0M499.8 110.0h0M502.0 101.3h0M502.2 101.8h0M505.6 92.7h0M508.9 91.7h0M509.3 97.3h0M513.1 87.8h0" stroke="#2b8a50" stroke-width="1.15" stroke-linecap="round" fill="none"/>
<path d="M314.5 84.5h0M315.7 90.3h0M343.1 90.7h0M343.7 91.2h0M378.3 107.2h0M378.8 106.2h0M379.8 104.4h0M387.5 112.6h0M388.5 114.3h0M396.5 111.1h0M397.5 114.2h0M413.7 115.1h0M414.8 114.4h0M432.0 119.4h0M432.8 121.6h0M433.9 119.4h0M439.3 124.1h0M446.0 125.3h0M448.9 129.3h0M449.4 128.5h0M454.9 136.2h0M455.8 134.2h0M456.4 134.1h0M463.5 136.1h0M467.7 133.1h0M468.4 134.3h0M473.5 141.6h0M473.9 137.0h0M474.9 142.2h0M479.6 138.6h0M480.4 145.1h0M483.3 145.8h0M483.3 141.8h0M483.9 140.2h0M485.0 127.3h0M485.3 131.0h0M486.2 127.4h0M486.1 124.3h0M486.2 124.7h0M486.5 118.2h0M486.6 117.6h0M486.5 121.2h0M486.8 110.9h0M486.6 109.1h0M486.7 108.6h0M486.7 100.6h0M486.9 101.9h0M486.9 97.6h0M488.9 96.4h0M490.7 92.9h0M494.3 93.1h0M498.0 88.9h0M498.7 95.4h0M499.7 94.7h0M506.1 88.8h0M507.2 90.2h0M510.2 89.3h0M511.2 87.2h0" stroke="#1c1c1c" stroke-width="2.3" stroke-linecap="round" fill="none"/>
<path d="M314.5 84.5h0M315.7 90.3h0M343.1 90.7h0M343.7 91.2h0M378.3 107.2h0M378.8 106.2h0M379.8 104.4h0M387.5 112.6h0M388.5 114.3h0M396.5 111.1h0M397.5 114.2h0M413.7 115.1h0M414.8 114.4h0M432.0 119.4h0M432.8 121.6h0M433.9 119.4h0M439.3 124.1h0M446.0 125.3h0M448.9 129.3h0M449.4 128.5h0M454.9 136.2h0M455.8 134.2h0M456.4 134.1h0M463.5 136.1h0M467.7 133.1h0M468.4 134.3h0M473.5 141.6h0M473.9 137.0h0M474.9 142.2h0M479.6 138.6h0M480.4 145.1h0M483.3 145.8h0M483.3 141.8h0M483.9 140.2h0M485.0 127.3h0M485.3 131.0h0M486.2 127.4h0M486.1 124.3h0M486.2 124.7h0M486.5 118.2h0M486.6 117.6h0M486.5 121.2h0M486.8 110.9h0M486.6 109.1h0M486.7 108.6h0M486.7 100.6h0M486.9 101.9h0M486.9 97.6h0M488.9 96.4h0M490.7 92.9h0M494.3 93.1h0M498.0 88.9h0M498.7 95.4h0M499.7 94.7h0M506.1 88.8h0M507.2 90.2h0M510.2 89.3h0M511.2 87.2h0" stroke="#c8b43c" stroke-width="1.15" stroke-linecap="round" fill="none"/>
<path d="M314.6 92.7h0M315.5 95.0h0M336.0 99.1h0M351.6 107.4h0M367.3 107.2h0M392.3 117.9h0M393.1 116.2h0M410.7 118.9h0M422.4 133.3h0M423.4 128.4h0M424.1 130.4h0M442.7 137.8h0M447.3 136.7h0M452.4 131.5h0M453.2 135.4h0M454.0 135.3h0M459.5 136.4h0M460.7 139.8h0M467.2 141.0h0M471.8 139.8h0M472.7 141.9h0M476.0 148.7h0M476.5 147.7h0M477.4 144.6h0M482.0 144.8h0M488.0 141.9h0M488.7 143.4h0M492.6 144.4h0M493.4 145.8h0M496.9 136.2h0M497.5 137.2h0M500.7 135.3h0M501.0 137.9h0M501.3 134.5h0M503.0 131.3h0M505.5 125.1h0M505.8 123.2h0M506.8 119.8h0M506.9 116.9h0M507.8 115.4h0M508.9 111.5h0M509.1 112.8h0M509.9 103.6h0M511.5 98.8h0M512.5 94.8h0M512.4 95.7h0M512.6 91.5h0M513.2 88.9h0M513.5 89.6h0" stroke="#1c1c1c" stroke-width="2.3" stroke-linecap="round" fill="none"/>
<path d="M314.6 92.7h0M315.5 95.0h0M336.0 99.1h0M351.6 107.4h0M367.3 107.2h0M392.3 117.9h0M393.1 116.2h0M410.7 118.9h0M422.4 133.3h0M423.4 128.4h0M424.1 130.4h0M442.7 137.8h0M447.3 136.7h0M452.4 131.5h0M453.2 135.4h0M454.0 135.3h0M459.5 136.4h0M460.7 139.8h0M467.2 141.0h0M471.8 139.8h0M472.7 141.9h0M476.0 148.7h0M476.5 147.7h0M477.4 144.6h0M482.0 144.8h0M488.0 141.9h0M488.7 143.4h0M492.6 144.4h0M493.4 145.8h0M496.9 136.2h0M497.5 137.2h0M500.7 135.3h0M501.0 137.9h0M501.3 134.5h0M503.0 131.3h0M505.5 125.1h0M505.8 123.2h0M506.8 119.8h0M506.9 116.9h0M507.8 115.4h0M508.9 111.5h0M509.1 112.8h0M509.9 103.6h0M511.5 98.8h0M512.5 94.8h0M512.4 95.7h0M512.6 91.5h0M513.2 88.9h0M513.5 89.6h0" stroke="#222222" stroke-width="1.15" stroke-linecap="round" fill="none"/>
<path d="M314.6 84.1h0M315.9 89.0h0M316.5 89.4h0M346.2 93.2h0M346.8 97.9h0M381.3 108.7h0M382.3 108.8h0M398.4 106.3h0M416.8 120.9h0M428.6 126.0h0M446.9 132.6h0M447.7 133.2h0M448.5 130.0h0M451.6 128.3h0M456.0 134.3h0M459.1 139.0h0M465.5 143.7h0M466.9 138.7h0M467.3 138.3h0M474.2 138.6h0M474.8 139.9h0M475.8 136.9h0M480.4 141.7h0M481.3 138.7h0M487.5 135.1h0M488.2 138.1h0M493.9 135.9h0M494.7 142.2h0M495.1 138.3h0M497.8 133.7h0M498.0 135.1h0M500.4 122.9h0M502.9 123.1h0M505.6 114.9h0M507.1 114.4h0M507.3 111.2h0M507.8 111.0h0M508.9 108.5h0M510.3 100.1h0M510.7 99.9h0M510.6 102.4h0M511.7 99.3h0M512.7 93.2h0" stroke="#1c1c1c" stroke-width="2.3" stroke-linecap="round" fill="none"/>
<path d="M314.6 84.1h0M315.9 89.0h0M316.5 89.4h0M346.2 93.2h0M346.8 97.9h0M381.3 108.7h0M382.3 108.8h0M398.4 106.3h0M416.8 120.9h0M428.6 126.0h0M446.9 132.6h0M447.7 133.2h0M448.5 130.0h0M451.6 128.3h0M456.0 134.3h0M459.1 139.0h0M465.5 143.7h0M466.9 138.7h0M467.3 138.3h0M474.2 138.6h0M474.8 139.9h0M475.8 136.9h0M480.4 141.7h0M481.3 138.7h0M487.5 135.1h0M488.2 138.1h0M493.9 135.9h0M494.7 142.2h0M495.1 138.3h0M497.8 133.7h0M498.0 135.1h0M500.4 122.9h0M502.9 123.1h0M505.6 114.9h0M507.1 114.4h0M507.3 111.2h0M507.8 111.0h0M508.9 108.5h0M510.3 100.1h0M510.7 99.9h0M510.6 102.4h0M511.7 99.3h0M512.7 93.2h0" stroke="#b22234" stroke-width="1.15" stroke-linecap="round" fill="none"/>
<path d="M314.9 90.0h0M337.2 91.7h0M360.2 103.9h0M386.7 110.1h0M387.4 111.1h0M402.6 118.5h0M403.8 118.8h0M404.6 118.8h0M415.6 123.7h0M416.2 123.5h0M417.1 123.1h0M430.5 136.2h0M431.5 135.5h0M432.3 136.4h0M437.9 136.7h0M443.8 134.7h0M444.5 135.7h0M445.2 136.6h0M450.9 140.3h0M451.7 141.8h0M452.7 141.7h0M456.4 147.9h0M457.5 144.6h0M458.2 142.0h0M461.9 150.3h0M462.9 149.5h0M463.8 146.1h0M467.5 145.3h0M468.2 146.6h0M471.1 152.0h0M471.9 151.9h0M472.9 148.7h0M477.6 153.0h0M483.8 145.2h0M484.3 147.7h0M485.3 144.3h0M490.3 142.3h0M494.2 140.3h0M496.1 134.1h0M496.6 128.2h0M497.3 130.0h0M499.5 126.6h0M502.3 124.5h0M505.0 116.1h0M505.0 115.2h0M506.1 118.0h0M506.5 116.6h0M506.8 114.1h0M509.0 102.9h0M509.1 100.4h0M510.2 97.4h0M510.3 97.3h0M512.0 90.1h0" stroke="#1c1c1c" stroke-width="2.3" stroke-linecap="round" fill="none"/>
<path d="M314.9 90.0h0M337.2 91.7h0M360.2 103.9h0M386.7 110.1h0M387.4 111.1h0M402.6 118.5h0M403.8 118.8h0M404.6 118.8h0M415.6 123.7h0M416.2 123.5h0M417.1 123.1h0M430.5 136.2h0M431.5 135.5h0M432.3 136.4h0M437.9 136.7h0M443.8 134.7h0M444.5 135.7h0M445.2 136.6h0M450.9 140.3h0M451.7 141.8h0M452.7 141.7h0M456.4 147.9h0M457.5 144.6h0M458.2 142.0h0M461.9 150.3h0M462.9 149.5h0M463.8 146.1h0M467.5 145.3h0M468.2 146.6h0M471.1 152.0h0M471.9 151.9h0M472.9 148.7h0M477.6 153.0h0M483.8 145.2h0M484.3 147.7h0M485.3 144.3h0M490.3 142.3h0M494.2 140.3h0M496.1 134.1h0M496.6 128.2h0M497.3 130.0h0M499.5 126.6h0M502.3 124.5h0M505.0 116.1h0M505.0 115.2h0M506.1 118.0h0M506.5 116.6h0M506.8 114.1h0M509.0 102.9h0M509.1 100.4h0M510.2 97.4h0M510.3 97.3h0M512.0 90.1h0" stroke="#ffffff" stroke-width="1.15" stroke-linecap="round" fill="none"/>
<path d="M314.7 87.3h0M336.2 94.6h0M363.9 107.0h0M364.8 107.1h0M365.5 107.8h0M395.7 113.3h0M414.9 121.6h0M425.2 119.6h0M426.2 126.2h0M440.1 134.9h0M443.2 135.3h0M444.1 132.0h0M444.9 130.9h0M447.7 134.9h0M451.4 135.2h0M457.7 142.1h0M461.5 136.6h0M468.3 137.4h0M475.0 140.4h0M481.9 138.3h0M482.9 135.2h0M483.8 138.6h0M488.6 139.5h0M489.4 139.1h0M494.2 137.2h0M494.9 131.8h0M495.6 131.6h0M498.8 127.5h0M501.3 129.6h0M501.5 129.5h0M501.9 129.2h0M504.1 117.1h0M504.6 117.4h0M506.2 111.1h0M506.6 105.2h0M506.8 108.2h0M508.0 111.1h0M508.1 108.1h0M509.2 106.0h0M511.2 95.1h0M512.1 95.0h0M512.5 90.2h0" stroke="#1c1c1c" stroke-width="2.3" stroke-linecap="round" fill="none"/>
<path d="M314.7 87.3h0M336.2 94.6h0M363.9 107.0h0M364.8 107.1h0M365.5 107.8h0M395.7 113.3h0M414.9 121.6h0M425.2 119.6h0M426.2 126.2h0M440.1 134.9h0M443.2 135.3h0M444.1 132.0h0M444.9 130.9h0M447.7 134.9h0M451.4 135.2h0M457.7 142.1h0M461.5 136.6h0M468.3 137.4h0M475.0 140.4h0M481.9 138.3h0M482.9 135.2h0M483.8 138.6h0M488.6 139.5h0M489.4 139.1h0M494.2 137.2h0M494.9 131.8h0M495.6 131.6h0M498.8 127.5h0M501.3 129.6h0M501.5 129.5h0M501.9 129.2h0M504.1 117.1h0M504.6 117.4h0M506.2 111.1h0M506.6 105.2h0M506.8 108.2h0M508.0 111.1h0M508.1 108.1h0M509.2 106.0h0M511.2 95.1h0M512.1 95.0h0M512.5 90.2h0" stroke="#5b8db0" stroke-width="1.15" stroke-linecap="round" fill="none"/>
<path d="M314.7 86.9h0M315.7 92.0h0M316.8 92.3h0M329.8 93.1h0M350.8 101.5h0M351.3 98.1h0M352.2 97.4h0M379.1 109.7h0M379.9 109.0h0M381.0 110.7h0M395.5 116.3h0M411.9 115.5h0M413.0 112.7h0M430.0 123.4h0M434.3 125.7h0M435.2 122.6h0M441.6 125.4h0M447.6 131.4h0M454.3 137.8h0M454.9 134.1h0M460.1 136.0h0M463.2 137.2h0M464.1 142.4h0M465.2 136.5h0M471.3 135.3h0M478.8 144.3h0M479.3 144.2h0M485.5 134.6h0M486.3 134.3h0M492.6 134.2h0M493.3 128.3h0M497.4 128.2h0M498.0 126.9h0M498.3 125.6h0M500.3 122.8h0M500.9 117.3h0M502.9 117.4h0M503.4 122.4h0M503.6 121.4h0M505.3 112.6h0M505.8 109.6h0M507.2 110.7h0M507.3 106.5h0M509.1 99.3h0M510.3 96.4h0M511.2 99.2h0M511.5 94.1h0M511.7 92.2h0M513.0 87.7h0M513.1 85.9h0" stroke="#1c1c1c" stroke-width="2.3" stroke-linecap="round" fill="none"/>
<path d="M314.7 86.9h0M315.7 92.0h0M316.8 92.3h0M329.8 93.1h0M350.8 101.5h0M351.3 98.1h0M352.2 97.4h0M379.1 109.7h0M379.9 109.0h0M381.0 110.7h0M395.5 116.3h0M411.9 115.5h0M413.0 112.7h0M430.0 123.4h0M434.3 125.7h0M435.2 122.6h0M441.6 125.4h0M447.6 131.4h0M454.3 137.8h0M454.9 134.1h0M460.1 136.0h0M463.2 137.2h0M464.1 142.4h0M465.2 136.5h0M471.3 135.3h0M478.8 144.3h0M479.3 144.2h0M485.5 134.6h0M486.3 134.3h0M492.6 134.2h0M493.3 128.3h0M497.4 128.2h0M498.0 126.9h0M498.3 125.6h0M500.3 122.8h0M500.9 117.3h0M502.9 117.4h0M503.4 122.4h0M503.6 121.4h0M505.3 112.6h0M505.8 109.6h0M507.2 110.7h0M507.3 106.5h0M509.1 99.3h0M510.3 96.4h0M511.2 99.2h0M511.5 94.1h0M511.7 92.2h0M513.0 87.7h0M513.1 85.9h0" stroke="#6ab8c8" stroke-width="1.15" stroke-linecap="round" fill="none"/>
<path d="M314.7 89.1h0M327.7 93.9h0M328.6 94.9h0M329.5 90.2h0M352.1 103.5h0M352.8 101.7h0M354.1 100.1h0M380.8 103.5h0M381.8 103.0h0M394.5 115.7h0M395.1 114.5h0M411.0 117.7h0M411.4 117.9h0M419.2 120.0h0M438.1 136.8h0M439.2 136.7h0M440.3 137.6h0M445.9 138.1h0M446.7 135.6h0M447.5 138.5h0M452.3 134.2h0M453.4 135.9h0M456.9 138.2h0M460.9 141.1h0M466.1 142.8h0M471.1 145.7h0M472.2 147.9h0M473.2 147.5h0M479.5 145.1h0M480.4 141.2h0M485.9 144.5h0M491.0 140.8h0M491.8 139.1h0M492.3 139.1h0M496.3 133.5h0M496.9 131.5h0M500.3 128.6h0M500.5 124.8h0M502.2 120.5h0M503.8 123.0h0M504.1 121.0h0M504.4 124.2h0M506.3 112.9h0M507.5 111.6h0M509.8 100.0h0M509.9 99.0h0M511.1 102.0h0M511.5 98.1h0M511.4 98.0h0M512.5 85.6h0" stroke="#1c1c1c" stroke-width="2.3" stroke-linecap="round" fill="none"/>
<path d="M314.7 89.1h0M327.7 93.9h0M328.6 94.9h0M329.5 90.2h0M352.1 103.5h0M352.8 101.7h0M354.1 100.1h0M380.8 103.5h0M381.8 103.0h0M394.5 115.7h0M395.1 114.5h0M411.0 117.7h0M411.4 117.9h0M419.2 120.0h0M438.1 136.8h0M439.2 136.7h0M440.3 137.6h0M445.9 138.1h0M446.7 135.6h0M447.5 138.5h0M452.3 134.2h0M453.4 135.9h0M456.9 138.2h0M460.9 141.1h0M466.1 142.8h0M471.1 145.7h0M472.2 147.9h0M473.2 147.5h0M479.5 145.1h0M480.4 141.2h0M485.9 144.5h0M491.0 140.8h0M491.8 139.1h0M492.3 139.1h0M496.3 133.5h0M496.9 131.5h0M500.3 128.6h0M500.5 124.8h0M502.2 120.5h0M503.8 123.0h0M504.1 121.0h0M504.4 124.2h0M506.3 112.9h0M507.5 111.6h0M509.8 100.0h0M509.9 99.0h0M511.1 102.0h0M511.5 98.1h0M511.4 98.0h0M512.5 85.6h0" stroke="#4a2a3a" stroke-width="1.15" stroke-linecap="round" fill="none"/>
<path d="M314.7 87.7h0M315.6 82.5h0M316.4 86.9h0M333.0 99.7h0M334.0 95.0h0M359.9 99.3h0M375.7 109.4h0M376.7 111.5h0M377.4 108.6h0M390.6 112.7h0M391.2 111.6h0M392.1 113.3h0M405.2 115.9h0M406.0 115.2h0M407.1 118.5h0M425.7 128.6h0M437.0 131.7h0M437.5 131.7h0M438.5 134.7h0M443.7 138.0h0M444.6 135.4h0M449.2 136.8h0M450.1 137.3h0M454.2 141.2h0M458.7 144.6h0M465.8 140.8h0M466.9 140.6h0M467.7 140.4h0M472.5 146.2h0M476.9 138.8h0M477.6 142.9h0M481.4 147.4h0M486.8 142.0h0M487.7 144.1h0M494.3 150.2h0M494.8 144.0h0M499.0 145.5h0M499.9 142.6h0M501.7 136.3h0M501.8 130.5h0M503.6 130.9h0M504.0 130.0h0M505.5 126.7h0M505.6 126.9h0M506.0 120.3h0M507.6 119.7h0M508.8 116.4h0M509.2 116.6h0M509.8 108.7h0M510.2 108.5h0M511.2 104.6h0M512.3 99.4h0M512.7 93.7h0M512.8 86.9h0M512.9 90.1h0" stroke="#1c1c1c" stroke-width="2.3" stroke-linecap="round" fill="none"/>
<path d="M314.7 87.7h0M315.6 82.5h0M316.4 86.9h0M333.0 99.7h0M334.0 95.0h0M359.9 99.3h0M375.7 109.4h0M376.7 111.5h0M377.4 108.6h0M390.6 112.7h0M391.2 111.6h0M392.1 113.3h0M405.2 115.9h0M406.0 115.2h0M407.1 118.5h0M425.7 128.6h0M437.0 131.7h0M437.5 131.7h0M438.5 134.7h0M443.7 138.0h0M444.6 135.4h0M449.2 136.8h0M450.1 137.3h0M454.2 141.2h0M458.7 144.6h0M465.8 140.8h0M466.9 140.6h0M467.7 140.4h0M472.5 146.2h0M476.9 138.8h0M477.6 142.9h0M481.4 147.4h0M486.8 142.0h0M487.7 144.1h0M494.3 150.2h0M494.8 144.0h0M499.0 145.5h0M499.9 142.6h0M501.7 136.3h0M501.8 130.5h0M503.6 130.9h0M504.0 130.0h0M505.5 126.7h0M505.6 126.9h0M506.0 120.3h0M507.6 119.7h0M508.8 116.4h0M509.2 116.6h0M509.8 108.7h0M510.2 108.5h0M511.2 104.6h0M512.3 99.4h0M512.7 93.7h0M512.8 86.9h0M512.9 90.1h0" stroke="#1f2a5c" stroke-width="1.15" stroke-linecap="round" fill="none"/>
<path d="M310.0 85.9h0M310.6 85.1h0M311.1 83.1h0M311.5 82.5h0M311.8 81.6h0M312.2 81.0h0M312.3 79.8h0M312.6 78.7h0M313.2 78.0h0M313.4 77.2h0M314.0 76.6h0M314.2 76.2h0M314.3 74.9h0M314.7 74.1h0M315.8 72.6h0M316.1 71.0h0M316.3 70.9h0M317.4 69.3h0M317.8 67.9h0M318.4 66.7h0M318.9 65.9h0M319.4 65.7h0M319.7 64.7h0M320.5 64.1h0M321.8 62.0h0M322.5 61.1h0M322.8 60.0h0M323.6 60.1h0M324.9 57.8h0M325.6 57.9h0M326.6 56.5h0M327.9 55.2h0M328.4 55.1h0M329.4 54.4h0M331.1 53.9h0M331.9 52.5h0M333.5 52.1h0M334.4 51.5h0M335.3 51.6h0M338.1 50.4h0M338.9 51.0h0M339.6 50.4h0M340.4 50.8h0M346.1 49.8h0M346.8 49.8h0M351.2 50.5h0M352.3 50.7h0M357.1 52.2h0M358.2 52.9h0M359.1 52.7h0M359.9 53.0h0M362.5 53.4h0M363.2 53.7h0M364.0 54.3h0M364.8 54.7h0M371.1 56.0h0M371.7 56.3h0M372.6 57.1h0M373.2 56.8h0M374.2 57.3h0M378.0 58.3h0M378.9 58.2h0M379.8 58.8h0M380.7 59.7h0M381.8 59.5h0M384.3 60.1h0M385.2 60.2h0M389.8 61.4h0M390.3 62.2h0M391.5 62.1h0M396.6 64.9h0M397.5 65.1h0M398.3 65.2h0M399.0 66.4h0M399.8 66.0h0M403.6 68.4h0M404.3 68.2h0M405.0 69.0h0M406.0 69.2h0M406.6 68.8h0M410.0 71.2h0M410.8 71.2h0M412.0 71.8h0M412.8 71.8h0M413.6 72.6h0M418.5 74.2h0M419.3 74.5h0M420.2 75.0h0M424.9 77.6h0M426.0 77.3h0M426.7 78.1h0M427.3 78.5h0M431.6 80.0h0M432.6 81.0h0M438.7 83.2h0M439.2 83.5h0M440.3 84.1h0M441.3 84.2h0M442.1 84.7h0M446.7 85.9h0M447.3 86.4h0M452.4 86.6h0M453.1 86.7h0M457.8 87.6h0M458.7 87.8h0M462.0 88.3h0M465.4 89.1h0M470.1 89.4h0M471.1 89.2h0M471.9 89.6h0M472.7 90.2h0M474.0 90.3h0M475.0 90.1h0M479.4 91.3h0M480.3 91.1h0M481.4 90.6h0M482.5 91.3h0M483.4 91.2h0M486.1 91.8h0M487.4 91.8h0M488.2 92.3h0M489.6 92.3h0M490.7 92.1h0M496.2 93.0h0M497.0 92.2h0M500.6 91.6h0M501.7 90.6h0M502.5 90.7h0M503.5 90.8h0M506.7 89.2h0M507.9 89.1h0M510.4 87.9h0M511.1 87.9h0M512.1 87.7h0" stroke="#1c1c1c" stroke-width="2.3" stroke-linecap="round" fill="none"/>
<path d="M310.0 85.9h0M310.6 85.1h0M311.1 83.1h0M311.5 82.5h0M311.8 81.6h0M312.2 81.0h0M312.3 79.8h0M312.6 78.7h0M313.2 78.0h0M313.4 77.2h0M314.0 76.6h0M314.2 76.2h0M314.3 74.9h0M314.7 74.1h0M315.8 72.6h0M316.1 71.0h0M316.3 70.9h0M317.4 69.3h0M317.8 67.9h0M318.4 66.7h0M318.9 65.9h0M319.4 65.7h0M319.7 64.7h0M320.5 64.1h0M321.8 62.0h0M322.5 61.1h0M322.8 60.0h0M323.6 60.1h0M324.9 57.8h0M325.6 57.9h0M326.6 56.5h0M327.9 55.2h0M328.4 55.1h0M329.4 54.4h0M331.1 53.9h0M331.9 52.5h0M333.5 52.1h0M334.4 51.5h0M335.3 51.6h0M338.1 50.4h0M338.9 51.0h0M339.6 50.4h0M340.4 50.8h0M346.1 49.8h0M346.8 49.8h0M351.2 50.5h0M352.3 50.7h0M357.1 52.2h0M358.2 52.9h0M359.1 52.7h0M359.9 53.0h0M362.5 53.4h0M363.2 53.7h0M364.0 54.3h0M364.8 54.7h0M371.1 56.0h0M371.7 56.3h0M372.6 57.1h0M373.2 56.8h0M374.2 57.3h0M378.0 58.3h0M378.9 58.2h0M379.8 58.8h0M380.7 59.7h0M381.8 59.5h0M384.3 60.1h0M385.2 60.2h0M389.8 61.4h0M390.3 62.2h0M391.5 62.1h0M396.6 64.9h0M397.5 65.1h0M398.3 65.2h0M399.0 66.4h0M399.8 66.0h0M403.6 68.4h0M404.3 68.2h0M405.0 69.0h0M406.0 69.2h0M406.6 68.8h0M410.0 71.2h0M410.8 71.2h0M412.0 71.8h0M412.8 71.8h0M413.6 72.6h0M418.5 74.2h0M419.3 74.5h0M420.2 75.0h0M424.9 77.6h0M426.0 77.3h0M426.7 78.1h0M427.3 78.5h0M431.6 80.0h0M432.6 81.0h0M438.7 83.2h0M439.2 83.5h0M440.3 84.1h0M441.3 84.2h0M442.1 84.7h0M446.7 85.9h0M447.3 86.4h0M452.4 86.6h0M453.1 86.7h0M457.8 87.6h0M458.7 87.8h0M462.0 88.3h0M465.4 89.1h0M470.1 89.4h0M471.1 89.2h0M471.9 89.6h0M472.7 90.2h0M474.0 90.3h0M475.0 90.1h0M479.4 91.3h0M480.3 91.1h0M481.4 90.6h0M482.5 91.3h0M483.4 91.2h0M486.1 91.8h0M487.4 91.8h0M488.2 92.3h0M489.6 92.3h0M490.7 92.1h0M496.2 93.0h0M497.0 92.2h0M500.6 91.6h0M501.7 90.6h0M502.5 90.7h0M503.5 90.8h0M506.7 89.2h0M507.9 89.1h0M510.4 87.9h0M511.1 87.9h0M512.1 87.7h0" stroke="#e8e8e8" stroke-width="1.15" stroke-linecap="round" fill="none"/>
<path d="M310.3 85.7h0M310.6 84.8h0M310.6 83.7h0M310.8 82.9h0M311.3 81.3h0M311.8 79.6h0M312.0 79.1h0M312.4 78.6h0M312.4 77.9h0M313.0 75.8h0M313.3 75.1h0M313.7 74.8h0M314.0 73.3h0M314.2 73.1h0M314.7 71.6h0M314.8 71.0h0M315.5 69.6h0M315.5 68.9h0M316.0 68.5h0M316.4 67.7h0M317.3 64.9h0M317.4 64.0h0M318.3 63.4h0M318.5 61.8h0M318.9 61.3h0M319.5 61.0h0M320.1 59.8h0M320.5 58.6h0M321.1 57.5h0M321.6 56.9h0M321.9 56.2h0M322.7 55.9h0M323.0 54.7h0M323.6 53.9h0M324.0 53.6h0M324.9 52.6h0M325.9 51.0h0M326.6 50.8h0M327.3 50.3h0M328.4 49.7h0M330.0 48.2h0M330.5 48.2h0M331.5 47.4h0M332.7 46.9h0M333.7 46.8h0M335.7 46.1h0M336.6 45.2h0M337.4 45.3h0M342.0 44.8h0M342.7 44.6h0M343.8 44.7h0M344.4 44.6h0M349.5 45.6h0M350.2 45.8h0M351.1 46.0h0M352.1 46.4h0M353.1 46.4h0M358.8 49.1h0M359.8 49.3h0M363.2 49.8h0M367.8 51.3h0M368.9 51.4h0M369.8 51.9h0M372.8 53.0h0M376.3 54.2h0M381.7 55.7h0M382.7 56.0h0M383.7 56.5h0M384.5 56.1h0M389.0 57.6h0M389.4 58.5h0M390.2 58.7h0M391.0 58.8h0M395.2 60.1h0M397.6 61.0h0M398.2 60.9h0M399.1 60.8h0M399.6 61.0h0M404.2 63.2h0M404.6 63.2h0M405.5 63.5h0M406.1 64.2h0M407.2 64.7h0M412.8 67.8h0M413.6 67.6h0M414.5 68.2h0M417.1 69.6h0M418.1 69.8h0M419.0 70.7h0M419.7 70.8h0M425.2 73.3h0M429.7 75.8h0M430.5 75.7h0M432.8 77.1h0M433.3 77.0h0M438.9 79.7h0M439.5 79.9h0M440.3 80.5h0M441.1 81.3h0M446.9 83.7h0M447.9 84.2h0M448.7 84.6h0M453.1 86.8h0M456.0 88.5h0M457.1 88.8h0M458.0 88.3h0M459.0 88.6h0M460.9 88.7h0M462.0 88.8h0M462.9 89.5h0M463.8 89.2h0M465.8 90.1h0M467.6 89.9h0M468.4 89.7h0M469.6 90.5h0M475.1 91.2h0M476.6 91.3h0M477.5 91.8h0M478.4 91.9h0M479.2 91.3h0M479.9 92.2h0M482.8 91.9h0M486.9 92.7h0M488.6 92.9h0M489.4 93.0h0M490.5 93.5h0M492.0 94.1h0M497.1 94.2h0M498.4 94.7h0M500.5 94.4h0M501.0 94.4h0M502.1 93.4h0M502.7 93.9h0M503.4 93.3h0M506.4 91.0h0M507.2 91.2h0M507.8 90.2h0M508.3 90.4h0M510.9 89.0h0M511.3 88.8h0" stroke="#1c1c1c" stroke-width="2.3" stroke-linecap="round" fill="none"/>
<path d="M310.3 85.7h0M310.6 84.8h0M310.6 83.7h0M310.8 82.9h0M311.3 81.3h0M311.8 79.6h0M312.0 79.1h0M312.4 78.6h0M312.4 77.9h0M313.0 75.8h0M313.3 75.1h0M313.7 74.8h0M314.0 73.3h0M314.2 73.1h0M314.7 71.6h0M314.8 71.0h0M315.5 69.6h0M315.5 68.9h0M316.0 68.5h0M316.4 67.7h0M317.3 64.9h0M317.4 64.0h0M318.3 63.4h0M318.5 61.8h0M318.9 61.3h0M319.5 61.0h0M320.1 59.8h0M320.5 58.6h0M321.1 57.5h0M321.6 56.9h0M321.9 56.2h0M322.7 55.9h0M323.0 54.7h0M323.6 53.9h0M324.0 53.6h0M324.9 52.6h0M325.9 51.0h0M326.6 50.8h0M327.3 50.3h0M328.4 49.7h0M330.0 48.2h0M330.5 48.2h0M331.5 47.4h0M332.7 46.9h0M333.7 46.8h0M335.7 46.1h0M336.6 45.2h0M337.4 45.3h0M342.0 44.8h0M342.7 44.6h0M343.8 44.7h0M344.4 44.6h0M349.5 45.6h0M350.2 45.8h0M351.1 46.0h0M352.1 46.4h0M353.1 46.4h0M358.8 49.1h0M359.8 49.3h0M363.2 49.8h0M367.8 51.3h0M368.9 51.4h0M369.8 51.9h0M372.8 53.0h0M376.3 54.2h0M381.7 55.7h0M382.7 56.0h0M383.7 56.5h0M384.5 56.1h0M389.0 57.6h0M389.4 58.5h0M390.2 58.7h0M391.0 58.8h0M395.2 60.1h0M397.6 61.0h0M398.2 60.9h0M399.1 60.8h0M399.6 61.0h0M404.2 63.2h0M404.6 63.2h0M405.5 63.5h0M406.1 64.2h0M407.2 64.7h0M412.8 67.8h0M413.6 67.6h0M414.5 68.2h0M417.1 69.6h0M418.1 69.8h0M419.0 70.7h0M419.7 70.8h0M425.2 73.3h0M429.7 75.8h0M430.5 75.7h0M432.8 77.1h0M433.3 77.0h0M438.9 79.7h0M439.5 79.9h0M440.3 80.5h0M441.1 81.3h0M446.9 83.7h0M447.9 84.2h0M448.7 84.6h0M453.1 86.8h0M456.0 88.5h0M457.1 88.8h0M458.0 88.3h0M459.0 88.6h0M460.9 88.7h0M462.0 88.8h0M462.9 89.5h0M463.8 89.2h0M465.8 90.1h0M467.6 89.9h0M468.4 89.7h0M469.6 90.5h0M475.1 91.2h0M476.6 91.3h0M477.5 91.8h0M478.4 91.9h0M479.2 91.3h0M479.9 92.2h0M482.8 91.9h0M486.9 92.7h0M488.6 92.9h0M489.4 93.0h0M490.5 93.5h0M492.0 94.1h0M497.1 94.2h0M498.4 94.7h0M500.5 94.4h0M501.0 94.4h0M502.1 93.4h0M502.7 93.9h0M503.4 93.3h0M506.4 91.0h0M507.2 91.2h0M507.8 90.2h0M508.3 90.4h0M510.9 89.0h0M511.3 88.8h0" stroke="#1f7a3e" stroke-width="1.15" stroke-linecap="round" fill="none"/>
<path d="M310.4 85.3h0M310.3 84.2h0M310.8 82.6h0M311.2 81.4h0M311.3 80.2h0M311.8 79.4h0M312.2 77.4h0M312.5 76.4h0M312.8 75.4h0M313.1 74.9h0M313.5 72.4h0M313.8 72.0h0M314.5 69.6h0M314.9 68.6h0M315.2 67.6h0M315.5 67.1h0M315.8 65.3h0M316.0 64.9h0M316.5 63.8h0M316.9 62.6h0M317.1 62.5h0M317.7 61.2h0M318.1 59.5h0M318.3 58.8h0M319.1 57.8h0M319.8 56.4h0M320.5 55.0h0M321.0 53.4h0M321.6 53.2h0M321.8 52.3h0M322.3 52.1h0M323.2 50.1h0M323.7 50.2h0M324.3 49.1h0M325.5 47.7h0M327.1 46.4h0M328.1 45.5h0M328.9 44.1h0M329.4 44.5h0M330.8 43.4h0M331.5 43.0h0M332.7 42.2h0M333.4 42.2h0M334.2 42.3h0M338.6 40.9h0M339.3 41.4h0M340.2 40.7h0M346.4 41.4h0M347.6 41.8h0M353.3 42.9h0M354.1 43.1h0M354.7 43.3h0M358.2 44.5h0M359.0 44.9h0M359.7 44.7h0M360.6 45.1h0M365.8 46.4h0M366.6 46.9h0M367.3 46.8h0M368.0 47.7h0M371.4 48.0h0M372.3 48.7h0M373.1 49.0h0M376.3 49.6h0M377.1 49.6h0M382.5 51.2h0M383.4 51.7h0M384.1 51.6h0M387.1 52.1h0M388.0 53.1h0M392.4 54.2h0M393.5 54.6h0M394.1 54.8h0M394.8 54.4h0M401.4 56.2h0M402.2 57.1h0M402.7 57.5h0M403.7 57.5h0M405.7 59.0h0M406.3 58.6h0M407.1 59.0h0M407.9 59.6h0M408.7 60.3h0M410.1 60.7h0M411.1 61.3h0M411.9 62.1h0M412.8 62.5h0M414.1 62.9h0M414.8 63.4h0M419.3 65.8h0M420.1 66.1h0M420.7 66.1h0M421.5 66.6h0M425.0 68.0h0M425.8 68.3h0M426.6 68.8h0M427.2 69.4h0M427.9 69.6h0M434.3 72.7h0M435.8 73.7h0M436.8 73.8h0M441.2 76.4h0M441.7 75.9h0M442.8 76.9h0M443.3 76.6h0M444.3 77.3h0M450.1 80.6h0M450.6 80.6h0M451.5 80.7h0M457.4 84.2h0M458.1 83.9h0M459.0 84.1h0M461.2 85.1h0M462.2 85.6h0M462.9 86.3h0M464.2 86.2h0M464.9 86.8h0M466.8 86.7h0M467.4 86.6h0M471.3 87.9h0M472.3 87.9h0M473.3 87.7h0M474.2 88.7h0M475.0 88.8h0M477.2 88.4h0M478.2 88.7h0M479.0 89.4h0M479.8 88.8h0M486.1 90.0h0M492.7 91.2h0M493.5 91.7h0M497.4 92.1h0M498.4 92.4h0M499.2 92.9h0M500.2 93.3h0M501.7 92.6h0M506.2 90.4h0M507.1 90.1h0M507.9 89.7h0M508.4 89.4h0M509.3 89.1h0" stroke="#1c1c1c" stroke-width="2.3" stroke-linecap="round" fill="none"/>
<path d="M310.4 85.3h0M310.3 84.2h0M310.8 82.6h0M311.2 81.4h0M311.3 80.2h0M311.8 79.4h0M312.2 77.4h0M312.5 76.4h0M312.8 75.4h0M313.1 74.9h0M313.5 72.4h0M313.8 72.0h0M314.5 69.6h0M314.9 68.6h0M315.2 67.6h0M315.5 67.1h0M315.8 65.3h0M316.0 64.9h0M316.5 63.8h0M316.9 62.6h0M317.1 62.5h0M317.7 61.2h0M318.1 59.5h0M318.3 58.8h0M319.1 57.8h0M319.8 56.4h0M320.5 55.0h0M321.0 53.4h0M321.6 53.2h0M321.8 52.3h0M322.3 52.1h0M323.2 50.1h0M323.7 50.2h0M324.3 49.1h0M325.5 47.7h0M327.1 46.4h0M328.1 45.5h0M328.9 44.1h0M329.4 44.5h0M330.8 43.4h0M331.5 43.0h0M332.7 42.2h0M333.4 42.2h0M334.2 42.3h0M338.6 40.9h0M339.3 41.4h0M340.2 40.7h0M346.4 41.4h0M347.6 41.8h0M353.3 42.9h0M354.1 43.1h0M354.7 43.3h0M358.2 44.5h0M359.0 44.9h0M359.7 44.7h0M360.6 45.1h0M365.8 46.4h0M366.6 46.9h0M367.3 46.8h0M368.0 47.7h0M371.4 48.0h0M372.3 48.7h0M373.1 49.0h0M376.3 49.6h0M377.1 49.6h0M382.5 51.2h0M383.4 51.7h0M384.1 51.6h0M387.1 52.1h0M388.0 53.1h0M392.4 54.2h0M393.5 54.6h0M394.1 54.8h0M394.8 54.4h0M401.4 56.2h0M402.2 57.1h0M402.7 57.5h0M403.7 57.5h0M405.7 59.0h0M406.3 58.6h0M407.1 59.0h0M407.9 59.6h0M408.7 60.3h0M410.1 60.7h0M411.1 61.3h0M411.9 62.1h0M412.8 62.5h0M414.1 62.9h0M414.8 63.4h0M419.3 65.8h0M420.1 66.1h0M420.7 66.1h0M421.5 66.6h0M425.0 68.0h0M425.8 68.3h0M426.6 68.8h0M427.2 69.4h0M427.9 69.6h0M434.3 72.7h0M435.8 73.7h0M436.8 73.8h0M441.2 76.4h0M441.7 75.9h0M442.8 76.9h0M443.3 76.6h0M444.3 77.3h0M450.1 80.6h0M450.6 80.6h0M451.5 80.7h0M457.4 84.2h0M458.1 83.9h0M459.0 84.1h0M461.2 85.1h0M462.2 85.6h0M462.9 86.3h0M464.2 86.2h0M464.9 86.8h0M466.8 86.7h0M467.4 86.6h0M471.3 87.9h0M472.3 87.9h0M473.3 87.7h0M474.2 88.7h0M475.0 88.8h0M477.2 88.4h0M478.2 88.7h0M479.0 89.4h0M479.8 88.8h0M486.1 90.0h0M492.7 91.2h0M493.5 91.7h0M497.4 92.1h0M498.4 92.4h0M499.2 92.9h0M500.2 93.3h0M501.7 92.6h0M506.2 90.4h0M507.1 90.1h0M507.9 89.7h0M508.4 89.4h0M509.3 89.1h0" stroke="#3a1620" stroke-width="1.15" stroke-linecap="round" fill="none"/>
<path d="M310.2 84.0h0M310.7 82.6h0M310.8 80.8h0M311.0 80.3h0M311.0 79.0h0M311.4 77.6h0M311.9 76.8h0M312.0 76.0h0M311.9 74.6h0M312.3 73.8h0M312.6 72.3h0M313.3 70.3h0M313.3 69.0h0M313.7 68.6h0M313.9 66.4h0M314.0 65.6h0M314.6 64.7h0M315.2 62.7h0M315.4 61.8h0M315.4 61.1h0M315.7 59.9h0M316.3 59.4h0M316.5 58.3h0M316.6 57.5h0M317.1 56.2h0M317.7 54.3h0M318.2 53.4h0M318.3 52.1h0M318.6 51.4h0M319.2 50.8h0M319.8 48.4h0M320.0 48.0h0M320.4 47.5h0M321.1 46.3h0M321.6 45.3h0M322.5 44.1h0M323.2 42.8h0M323.7 42.5h0M323.9 41.3h0M324.6 41.0h0M325.9 39.4h0M326.7 38.4h0M328.0 37.2h0M329.3 37.2h0M330.2 36.4h0M330.9 35.9h0M332.9 36.1h0M333.6 35.9h0M334.6 35.1h0M337.3 35.2h0M340.4 35.0h0M344.5 35.3h0M345.4 35.7h0M346.2 35.8h0M347.2 36.9h0M349.0 36.6h0M350.1 37.6h0M351.7 37.4h0M352.5 37.6h0M353.0 38.5h0M354.0 37.9h0M357.0 39.4h0M357.8 39.3h0M362.0 40.6h0M362.5 40.9h0M363.8 40.6h0M364.5 41.6h0M365.1 41.8h0M370.0 42.7h0M371.1 43.4h0M377.5 44.6h0M378.2 44.6h0M381.4 45.9h0M382.6 46.2h0M383.5 46.2h0M384.3 47.2h0M386.9 47.1h0M388.0 47.7h0M388.7 48.3h0M394.4 49.5h0M395.2 49.5h0M396.3 49.6h0M396.9 50.2h0M397.7 50.1h0M402.2 51.7h0M402.8 52.0h0M404.0 53.0h0M404.5 53.4h0M410.4 56.3h0M414.0 57.2h0M415.0 57.9h0M415.7 58.2h0M416.5 58.6h0M417.4 59.1h0M420.6 60.3h0M421.4 61.2h0M422.2 61.4h0M425.3 62.4h0M431.4 65.2h0M432.6 65.4h0M436.8 68.2h0M437.4 68.0h0M438.3 68.1h0M438.8 68.6h0M440.8 69.8h0M441.6 69.9h0M442.4 70.7h0M443.3 71.0h0M448.4 73.7h0M449.5 73.8h0M450.3 74.5h0M451.1 74.2h0M456.2 76.9h0M457.0 77.6h0M458.0 77.6h0M458.8 78.2h0M459.2 77.9h0M464.9 80.4h0M466.2 80.9h0M469.8 83.3h0M470.7 83.9h0M471.5 83.4h0M478.0 85.7h0M478.7 85.3h0M483.4 87.1h0M486.1 87.8h0M488.2 88.3h0M489.2 88.5h0M490.2 88.4h0M490.8 89.0h0M491.9 88.7h0M495.9 90.0h0M496.7 89.7h0M497.5 90.3h0M498.5 90.1h0M499.2 90.3h0M501.8 91.4h0M502.8 91.3h0M503.6 91.2h0M505.4 91.5h0M509.6 89.1h0M510.3 89.1h0" stroke="#1c1c1c" stroke-width="2.3" stroke-linecap="round" fill="none"/>
<path d="M310.2 84.0h0M310.7 82.6h0M310.8 80.8h0M311.0 80.3h0M311.0 79.0h0M311.4 77.6h0M311.9 76.8h0M312.0 76.0h0M311.9 74.6h0M312.3 73.8h0M312.6 72.3h0M313.3 70.3h0M313.3 69.0h0M313.7 68.6h0M313.9 66.4h0M314.0 65.6h0M314.6 64.7h0M315.2 62.7h0M315.4 61.8h0M315.4 61.1h0M315.7 59.9h0M316.3 59.4h0M316.5 58.3h0M316.6 57.5h0M317.1 56.2h0M317.7 54.3h0M318.2 53.4h0M318.3 52.1h0M318.6 51.4h0M319.2 50.8h0M319.8 48.4h0M320.0 48.0h0M320.4 47.5h0M321.1 46.3h0M321.6 45.3h0M322.5 44.1h0M323.2 42.8h0M323.7 42.5h0M323.9 41.3h0M324.6 41.0h0M325.9 39.4h0M326.7 38.4h0M328.0 37.2h0M329.3 37.2h0M330.2 36.4h0M330.9 35.9h0M332.9 36.1h0M333.6 35.9h0M334.6 35.1h0M337.3 35.2h0M340.4 35.0h0M344.5 35.3h0M345.4 35.7h0M346.2 35.8h0M347.2 36.9h0M349.0 36.6h0M350.1 37.6h0M351.7 37.4h0M352.5 37.6h0M353.0 38.5h0M354.0 37.9h0M357.0 39.4h0M357.8 39.3h0M362.0 40.6h0M362.5 40.9h0M363.8 40.6h0M364.5 41.6h0M365.1 41.8h0M370.0 42.7h0M371.1 43.4h0M377.5 44.6h0M378.2 44.6h0M381.4 45.9h0M382.6 46.2h0M383.5 46.2h0M384.3 47.2h0M386.9 47.1h0M388.0 47.7h0M388.7 48.3h0M394.4 49.5h0M395.2 49.5h0M396.3 49.6h0M396.9 50.2h0M397.7 50.1h0M402.2 51.7h0M402.8 52.0h0M404.0 53.0h0M404.5 53.4h0M410.4 56.3h0M414.0 57.2h0M415.0 57.9h0M415.7 58.2h0M416.5 58.6h0M417.4 59.1h0M420.6 60.3h0M421.4 61.2h0M422.2 61.4h0M425.3 62.4h0M431.4 65.2h0M432.6 65.4h0M436.8 68.2h0M437.4 68.0h0M438.3 68.1h0M438.8 68.6h0M440.8 69.8h0M441.6 69.9h0M442.4 70.7h0M443.3 71.0h0M448.4 73.7h0M449.5 73.8h0M450.3 74.5h0M451.1 74.2h0M456.2 76.9h0M457.0 77.6h0M458.0 77.6h0M458.8 78.2h0M459.2 77.9h0M464.9 80.4h0M466.2 80.9h0M469.8 83.3h0M470.7 83.9h0M471.5 83.4h0M478.0 85.7h0M478.7 85.3h0M483.4 87.1h0M486.1 87.8h0M488.2 88.3h0M489.2 88.5h0M490.2 88.4h0M490.8 89.0h0M491.9 88.7h0M495.9 90.0h0M496.7 89.7h0M497.5 90.3h0M498.5 90.1h0M499.2 90.3h0M501.8 91.4h0M502.8 91.3h0M503.6 91.2h0M505.4 91.5h0M509.6 89.1h0M510.3 89.1h0" stroke="#6aa83a" stroke-width="1.15" stroke-linecap="round" fill="none"/>
<path d="M310.1 83.3h0M310.4 82.7h0M310.6 81.7h0M310.7 81.5h0M310.8 80.1h0M311.1 77.8h0M311.3 77.0h0M311.5 77.0h0M311.4 75.2h0M311.8 73.7h0M311.8 73.1h0M312.1 71.6h0M312.3 71.2h0M312.5 69.4h0M312.6 68.9h0M312.7 68.2h0M313.0 66.6h0M313.3 66.1h0M313.4 64.4h0M313.6 64.0h0M313.6 62.9h0M313.8 61.5h0M314.3 60.5h0M314.3 59.5h0M314.8 57.8h0M314.7 57.4h0M315.3 56.6h0M315.8 53.8h0M315.8 53.0h0M315.9 52.4h0M316.8 49.8h0M317.1 49.4h0M317.3 48.4h0M317.5 47.2h0M317.6 46.4h0M318.5 43.9h0M318.7 43.9h0M319.1 42.5h0M319.9 40.8h0M320.0 39.9h0M320.5 38.5h0M320.6 38.4h0M321.0 36.9h0M321.9 35.5h0M323.1 33.8h0M323.8 33.3h0M324.4 32.6h0M325.0 31.6h0M326.7 30.1h0M327.6 29.9h0M328.8 30.2h0M329.8 30.1h0M331.6 29.9h0M333.2 29.8h0M334.0 30.2h0M334.9 30.4h0M335.5 30.0h0M336.5 29.6h0M342.0 29.9h0M342.9 29.7h0M348.5 30.5h0M349.6 30.7h0M355.5 32.9h0M356.6 33.1h0M360.2 33.8h0M361.2 34.4h0M363.7 35.2h0M364.5 36.0h0M365.8 35.8h0M369.9 37.3h0M371.0 37.6h0M376.0 40.0h0M376.8 40.5h0M377.5 40.2h0M377.9 40.8h0M380.2 41.0h0M381.1 41.8h0M382.0 42.3h0M382.9 42.1h0M386.6 43.4h0M387.4 43.9h0M393.9 45.9h0M394.7 46.4h0M395.5 46.6h0M396.2 46.6h0M399.7 48.1h0M400.6 48.0h0M401.5 48.8h0M402.5 49.6h0M404.8 49.8h0M410.2 52.8h0M411.1 53.0h0M411.6 52.9h0M417.2 56.0h0M420.0 56.7h0M420.9 57.4h0M421.4 57.5h0M422.5 57.7h0M423.1 58.2h0M427.5 59.9h0M428.3 60.4h0M428.7 61.1h0M431.4 61.8h0M432.6 62.9h0M436.9 64.0h0M438.6 65.0h0M439.3 65.6h0M440.2 65.3h0M440.5 65.6h0M445.2 67.7h0M448.2 69.9h0M449.0 69.5h0M455.0 72.8h0M456.2 73.0h0M460.6 74.9h0M462.2 75.6h0M462.8 76.3h0M464.0 76.3h0M464.4 76.5h0M466.1 77.6h0M466.8 77.3h0M467.6 77.7h0M468.4 78.8h0M469.2 78.3h0M471.8 80.0h0M472.5 80.1h0M473.4 79.7h0M474.3 80.1h0M475.2 81.1h0M477.7 81.8h0M481.1 82.8h0M484.1 83.4h0M489.8 85.4h0M493.5 86.6h0M494.3 87.1h0M495.6 86.9h0M501.0 89.1h0M502.0 89.0h0M502.6 88.9h0M504.4 90.2h0M505.3 90.3h0M505.9 89.6h0M506.4 89.8h0M507.5 89.2h0M509.5 88.9h0M510.2 88.6h0M510.9 88.0h0M513.2 87.6h0" stroke="#1c1c1c" stroke-width="2.3" stroke-linecap="round" fill="none"/>
<path d="M310.1 83.3h0M310.4 82.7h0M310.6 81.7h0M310.7 81.5h0M310.8 80.1h0M311.1 77.8h0M311.3 77.0h0M311.5 77.0h0M311.4 75.2h0M311.8 73.7h0M311.8 73.1h0M312.1 71.6h0M312.3 71.2h0M312.5 69.4h0M312.6 68.9h0M312.7 68.2h0M313.0 66.6h0M313.3 66.1h0M313.4 64.4h0M313.6 64.0h0M313.6 62.9h0M313.8 61.5h0M314.3 60.5h0M314.3 59.5h0M314.8 57.8h0M314.7 57.4h0M315.3 56.6h0M315.8 53.8h0M315.8 53.0h0M315.9 52.4h0M316.8 49.8h0M317.1 49.4h0M317.3 48.4h0M317.5 47.2h0M317.6 46.4h0M318.5 43.9h0M318.7 43.9h0M319.1 42.5h0M319.9 40.8h0M320.0 39.9h0M320.5 38.5h0M320.6 38.4h0M321.0 36.9h0M321.9 35.5h0M323.1 33.8h0M323.8 33.3h0M324.4 32.6h0M325.0 31.6h0M326.7 30.1h0M327.6 29.9h0M328.8 30.2h0M329.8 30.1h0M331.6 29.9h0M333.2 29.8h0M334.0 30.2h0M334.9 30.4h0M335.5 30.0h0M336.5 29.6h0M342.0 29.9h0M342.9 29.7h0M348.5 30.5h0M349.6 30.7h0M355.5 32.9h0M356.6 33.1h0M360.2 33.8h0M361.2 34.4h0M363.7 35.2h0M364.5 36.0h0M365.8 35.8h0M369.9 37.3h0M371.0 37.6h0M376.0 40.0h0M376.8 40.5h0M377.5 40.2h0M377.9 40.8h0M380.2 41.0h0M381.1 41.8h0M382.0 42.3h0M382.9 42.1h0M386.6 43.4h0M387.4 43.9h0M393.9 45.9h0M394.7 46.4h0M395.5 46.6h0M396.2 46.6h0M399.7 48.1h0M400.6 48.0h0M401.5 48.8h0M402.5 49.6h0M404.8 49.8h0M410.2 52.8h0M411.1 53.0h0M411.6 52.9h0M417.2 56.0h0M420.0 56.7h0M420.9 57.4h0M421.4 57.5h0M422.5 57.7h0M423.1 58.2h0M427.5 59.9h0M428.3 60.4h0M428.7 61.1h0M431.4 61.8h0M432.6 62.9h0M436.9 64.0h0M438.6 65.0h0M439.3 65.6h0M440.2 65.3h0M440.5 65.6h0M445.2 67.7h0M448.2 69.9h0M449.0 69.5h0M455.0 72.8h0M456.2 73.0h0M460.6 74.9h0M462.2 75.6h0M462.8 76.3h0M464.0 76.3h0M464.4 76.5h0M466.1 77.6h0M466.8 77.3h0M467.6 77.7h0M468.4 78.8h0M469.2 78.3h0M471.8 80.0h0M472.5 80.1h0M473.4 79.7h0M474.3 80.1h0M475.2 81.1h0M477.7 81.8h0M481.1 82.8h0M484.1 83.4h0M489.8 85.4h0M493.5 86.6h0M494.3 87.1h0M495.6 86.9h0M501.0 89.1h0M502.0 89.0h0M502.6 88.9h0M504.4 90.2h0M505.3 90.3h0M505.9 89.6h0M506.4 89.8h0M507.5 89.2h0M509.5 88.9h0M510.2 88.6h0M510.9 88.0h0M513.2 87.6h0" stroke="#8b1a3d" stroke-width="1.15" stroke-linecap="round" fill="none"/>
<path d="M310.1 83.3h0M310.5 81.5h0M310.5 79.4h0M310.7 77.8h0M310.9 77.4h0M310.8 76.4h0M311.1 74.8h0M311.2 74.3h0M311.3 73.6h0M311.6 70.9h0M311.6 70.7h0M312.0 68.5h0M312.0 67.4h0M312.2 67.2h0M312.7 64.1h0M313.0 63.2h0M312.9 61.7h0M313.2 59.0h0M313.4 58.6h0M313.8 57.9h0M314.0 57.3h0M314.1 55.5h0M314.3 54.1h0M314.4 53.9h0M314.8 51.9h0M314.7 51.5h0M315.2 50.3h0M315.9 46.7h0M316.0 46.1h0M316.3 45.1h0M316.5 43.7h0M316.6 43.3h0M316.8 42.6h0M317.1 41.5h0M317.0 40.6h0M317.9 38.1h0M318.1 37.3h0M319.0 34.3h0M319.2 33.9h0M319.8 32.4h0M319.9 32.1h0M320.3 31.0h0M320.6 30.3h0M321.6 28.2h0M321.9 27.3h0M322.3 27.0h0M323.4 25.1h0M324.2 24.5h0M326.1 21.7h0M328.1 20.7h0M328.9 20.8h0M332.0 20.3h0M333.9 20.5h0M334.6 20.2h0M335.5 20.2h0M336.2 19.7h0M337.3 20.9h0M345.4 23.6h0M346.5 24.3h0M347.2 25.0h0M347.7 24.9h0M350.5 26.5h0M351.2 26.6h0M357.1 29.3h0M361.5 30.8h0M362.3 30.4h0M363.0 30.9h0M376.9 35.1h0M377.7 35.2h0M378.3 36.3h0M385.0 38.2h0M386.0 38.9h0M386.7 38.7h0M387.6 38.9h0M388.5 39.0h0M397.0 42.0h0M397.9 42.2h0M398.9 42.6h0M399.6 43.1h0M400.6 43.3h0M413.2 48.4h0M418.2 50.6h0M418.7 50.6h0M419.9 51.6h0M420.6 51.2h0M422.8 52.3h0M423.8 52.7h0M424.7 53.4h0M425.2 53.0h0M426.3 53.8h0M431.6 55.7h0M432.5 56.8h0M433.1 56.3h0M434.2 56.9h0M444.6 61.7h0M445.6 61.4h0M452.4 64.4h0M467.4 70.5h0M468.1 71.2h0M468.6 70.9h0M479.5 75.9h0M480.5 75.8h0M494.1 82.2h0M494.9 82.5h0M507.7 87.5h0" stroke="#1c1c1c" stroke-width="2.3" stroke-linecap="round" fill="none"/>
<path d="M310.1 83.3h0M310.5 81.5h0M310.5 79.4h0M310.7 77.8h0M310.9 77.4h0M310.8 76.4h0M311.1 74.8h0M311.2 74.3h0M311.3 73.6h0M311.6 70.9h0M311.6 70.7h0M312.0 68.5h0M312.0 67.4h0M312.2 67.2h0M312.7 64.1h0M313.0 63.2h0M312.9 61.7h0M313.2 59.0h0M313.4 58.6h0M313.8 57.9h0M314.0 57.3h0M314.1 55.5h0M314.3 54.1h0M314.4 53.9h0M314.8 51.9h0M314.7 51.5h0M315.2 50.3h0M315.9 46.7h0M316.0 46.1h0M316.3 45.1h0M316.5 43.7h0M316.6 43.3h0M316.8 42.6h0M317.1 41.5h0M317.0 40.6h0M317.9 38.1h0M318.1 37.3h0M319.0 34.3h0M319.2 33.9h0M319.8 32.4h0M319.9 32.1h0M320.3 31.0h0M320.6 30.3h0M321.6 28.2h0M321.9 27.3h0M322.3 27.0h0M323.4 25.1h0M324.2 24.5h0M326.1 21.7h0M328.1 20.7h0M328.9 20.8h0M332.0 20.3h0M333.9 20.5h0M334.6 20.2h0M335.5 20.2h0M336.2 19.7h0M337.3 20.9h0M345.4 23.6h0M346.5 24.3h0M347.2 25.0h0M347.7 24.9h0M350.5 26.5h0M351.2 26.6h0M357.1 29.3h0M361.5 30.8h0M362.3 30.4h0M363.0 30.9h0M376.9 35.1h0M377.7 35.2h0M378.3 36.3h0M385.0 38.2h0M386.0 38.9h0M386.7 38.7h0M387.6 38.9h0M388.5 39.0h0M397.0 42.0h0M397.9 42.2h0M398.9 42.6h0M399.6 43.1h0M400.6 43.3h0M413.2 48.4h0M418.2 50.6h0M418.7 50.6h0M419.9 51.6h0M420.6 51.2h0M422.8 52.3h0M423.8 52.7h0M424.7 53.4h0M425.2 53.0h0M426.3 53.8h0M431.6 55.7h0M432.5 56.8h0M433.1 56.3h0M434.2 56.9h0M444.6 61.7h0M445.6 61.4h0M452.4 64.4h0M467.4 70.5h0M468.1 71.2h0M468.6 70.9h0M479.5 75.9h0M480.5 75.8h0M494.1 82.2h0M494.9 82.5h0M507.7 87.5h0" stroke="#ffffff" stroke-width="1.15" stroke-linecap="round" fill="none"/>
<path d="M310.4 83.2h0M310.3 82.6h0M310.5 81.5h0M310.7 81.0h0M311.6 75.5h0M311.4 74.5h0M311.8 73.9h0M311.9 72.6h0M312.6 69.4h0M312.8 68.1h0M312.9 66.8h0M313.6 62.8h0M315.6 53.3h0M315.8 52.0h0M316.0 51.3h0M316.3 51.0h0M316.3 50.1h0M318.9 40.6h0M320.1 36.4h0M322.2 31.1h0M322.8 29.6h0M322.9 29.3h0M323.6 28.7h0M326.6 23.1h0M327.0 21.9h0M327.6 21.8h0M335.1 16.6h0M336.1 15.9h0M345.8 15.9h0M346.5 17.0h0M347.7 17.4h0M348.4 17.4h0M349.1 18.0h0M352.4 19.8h0M354.6 21.3h0M355.2 22.4h0M356.0 23.0h0M357.0 23.2h0M357.8 23.2h0M362.9 26.2h0M365.2 27.6h0M370.6 30.2h0M380.6 33.7h0M381.2 34.3h0M382.3 34.8h0M393.7 39.0h0M394.6 39.1h0M395.5 40.0h0M396.4 40.3h0M400.9 42.0h0M401.7 42.0h0M411.9 45.4h0M412.9 46.5h0M413.6 46.2h0M425.7 50.5h0M426.4 51.4h0M431.3 52.8h0M435.8 54.9h0M436.5 54.4h0M437.3 55.5h0M438.1 55.6h0M450.4 59.9h0M451.4 60.0h0M451.9 60.6h0M452.5 61.2h0M456.3 62.5h0M457.0 62.1h0M463.9 65.5h0M466.3 65.9h0M467.6 66.5h0M468.4 66.3h0M468.9 67.2h0M469.9 67.1h0M480.4 71.4h0M484.3 73.3h0M485.1 73.6h0M491.4 77.8h0M492.4 78.2h0M493.0 78.1h0M494.9 78.9h0M495.9 80.3h0M500.8 82.9h0M509.8 86.8h0M510.5 86.6h0M511.6 87.0h0M512.5 87.1h0M513.3 87.5h0" stroke="#1c1c1c" stroke-width="2.3" stroke-linecap="round" fill="none"/>
<path d="M310.4 83.2h0M310.3 82.6h0M310.5 81.5h0M310.7 81.0h0M311.6 75.5h0M311.4 74.5h0M311.8 73.9h0M311.9 72.6h0M312.6 69.4h0M312.8 68.1h0M312.9 66.8h0M313.6 62.8h0M315.6 53.3h0M315.8 52.0h0M316.0 51.3h0M316.3 51.0h0M316.3 50.1h0M318.9 40.6h0M320.1 36.4h0M322.2 31.1h0M322.8 29.6h0M322.9 29.3h0M323.6 28.7h0M326.6 23.1h0M327.0 21.9h0M327.6 21.8h0M335.1 16.6h0M336.1 15.9h0M345.8 15.9h0M346.5 17.0h0M347.7 17.4h0M348.4 17.4h0M349.1 18.0h0M352.4 19.8h0M354.6 21.3h0M355.2 22.4h0M356.0 23.0h0M357.0 23.2h0M357.8 23.2h0M362.9 26.2h0M365.2 27.6h0M370.6 30.2h0M380.6 33.7h0M381.2 34.3h0M382.3 34.8h0M393.7 39.0h0M394.6 39.1h0M395.5 40.0h0M396.4 40.3h0M400.9 42.0h0M401.7 42.0h0M411.9 45.4h0M412.9 46.5h0M413.6 46.2h0M425.7 50.5h0M426.4 51.4h0M431.3 52.8h0M435.8 54.9h0M436.5 54.4h0M437.3 55.5h0M438.1 55.6h0M450.4 59.9h0M451.4 60.0h0M451.9 60.6h0M452.5 61.2h0M456.3 62.5h0M457.0 62.1h0M463.9 65.5h0M466.3 65.9h0M467.6 66.5h0M468.4 66.3h0M468.9 67.2h0M469.9 67.1h0M480.4 71.4h0M484.3 73.3h0M485.1 73.6h0M491.4 77.8h0M492.4 78.2h0M493.0 78.1h0M494.9 78.9h0M495.9 80.3h0M500.8 82.9h0M509.8 86.8h0M510.5 86.6h0M511.6 87.0h0M512.5 87.1h0M513.3 87.5h0" stroke="#c8c040" stroke-width="1.15" stroke-linecap="round" fill="none"/>
<path d="M310.4 80.0h0M310.4 79.5h0M310.2 78.4h0M310.5 77.0h0M310.5 74.8h0M310.8 73.5h0M310.9 72.9h0M311.0 71.0h0M311.1 70.7h0M311.2 70.0h0M311.2 68.7h0M311.5 67.0h0M311.5 65.2h0M311.7 64.6h0M311.8 63.6h0M311.7 62.3h0M311.8 60.6h0M312.0 59.9h0M312.4 58.1h0M312.3 56.9h0M312.6 56.3h0M312.5 54.1h0M313.1 51.6h0M313.0 49.8h0M313.3 48.5h0M313.6 48.1h0M313.7 46.8h0M314.0 44.2h0M313.9 43.3h0M314.3 41.9h0M314.3 40.5h0M314.7 39.8h0M314.6 38.8h0M314.8 38.0h0M315.2 36.1h0M315.4 35.6h0M315.8 34.6h0M316.4 31.0h0M316.3 30.8h0M316.6 29.9h0M316.9 29.3h0M316.9 28.3h0M317.8 25.6h0M318.0 24.1h0M318.8 22.6h0M319.5 21.3h0M319.7 20.6h0M320.0 20.0h0M321.6 17.8h0M323.8 16.6h0M324.5 15.8h0M326.3 15.5h0M326.8 15.2h0M328.8 14.7h0M332.3 14.8h0M332.7 15.4h0M333.8 15.0h0M344.6 16.4h0M349.2 19.4h0M350.1 19.5h0M351.0 20.1h0M351.8 20.5h0M352.3 21.7h0M362.2 28.0h0M363.3 28.3h0M363.8 29.3h0M365.0 29.0h0M365.6 29.4h0M368.5 30.4h0M369.4 31.6h0M370.2 32.0h0M371.1 32.0h0M371.9 32.0h0M384.4 37.6h0M385.1 37.5h0M390.2 39.3h0M391.0 39.3h0M391.9 39.6h0M394.5 40.8h0M395.1 40.7h0M395.9 41.1h0M396.8 41.2h0M399.3 42.9h0M405.6 44.9h0M419.1 50.1h0M420.0 50.1h0M420.6 50.0h0M421.3 50.6h0M429.9 53.9h0M430.7 53.8h0M431.5 54.9h0M432.4 55.1h0M442.3 59.3h0M451.4 62.7h0M452.3 62.8h0M453.3 63.2h0M454.3 63.8h0M467.6 69.1h0M468.3 69.3h0M469.3 69.2h0M470.1 69.5h0M470.7 70.5h0M476.3 72.7h0M477.3 73.1h0M477.8 73.5h0M478.7 73.5h0M493.1 79.4h0M493.9 80.6h0M499.0 82.2h0M499.9 83.3h0M501.1 83.2h0M501.7 84.1h0M504.5 84.8h0M513.0 87.6h0" stroke="#1c1c1c" stroke-width="2.3" stroke-linecap="round" fill="none"/>
<path d="M310.4 80.0h0M310.4 79.5h0M310.2 78.4h0M310.5 77.0h0M310.5 74.8h0M310.8 73.5h0M310.9 72.9h0M311.0 71.0h0M311.1 70.7h0M311.2 70.0h0M311.2 68.7h0M311.5 67.0h0M311.5 65.2h0M311.7 64.6h0M311.8 63.6h0M311.7 62.3h0M311.8 60.6h0M312.0 59.9h0M312.4 58.1h0M312.3 56.9h0M312.6 56.3h0M312.5 54.1h0M313.1 51.6h0M313.0 49.8h0M313.3 48.5h0M313.6 48.1h0M313.7 46.8h0M314.0 44.2h0M313.9 43.3h0M314.3 41.9h0M314.3 40.5h0M314.7 39.8h0M314.6 38.8h0M314.8 38.0h0M315.2 36.1h0M315.4 35.6h0M315.8 34.6h0M316.4 31.0h0M316.3 30.8h0M316.6 29.9h0M316.9 29.3h0M316.9 28.3h0M317.8 25.6h0M318.0 24.1h0M318.8 22.6h0M319.5 21.3h0M319.7 20.6h0M320.0 20.0h0M321.6 17.8h0M323.8 16.6h0M324.5 15.8h0M326.3 15.5h0M326.8 15.2h0M328.8 14.7h0M332.3 14.8h0M332.7 15.4h0M333.8 15.0h0M344.6 16.4h0M349.2 19.4h0M350.1 19.5h0M351.0 20.1h0M351.8 20.5h0M352.3 21.7h0M362.2 28.0h0M363.3 28.3h0M363.8 29.3h0M365.0 29.0h0M365.6 29.4h0M368.5 30.4h0M369.4 31.6h0M370.2 32.0h0M371.1 32.0h0M371.9 32.0h0M384.4 37.6h0M385.1 37.5h0M390.2 39.3h0M391.0 39.3h0M391.9 39.6h0M394.5 40.8h0M395.1 40.7h0M395.9 41.1h0M396.8 41.2h0M399.3 42.9h0M405.6 44.9h0M419.1 50.1h0M420.0 50.1h0M420.6 50.0h0M421.3 50.6h0M429.9 53.9h0M430.7 53.8h0M431.5 54.9h0M432.4 55.1h0M442.3 59.3h0M451.4 62.7h0M452.3 62.8h0M453.3 63.2h0M454.3 63.8h0M467.6 69.1h0M468.3 69.3h0M469.3 69.2h0M470.1 69.5h0M470.7 70.5h0M476.3 72.7h0M477.3 73.1h0M477.8 73.5h0M478.7 73.5h0M493.1 79.4h0M493.9 80.6h0M499.0 82.2h0M499.9 83.3h0M501.1 83.2h0M501.7 84.1h0M504.5 84.8h0M513.0 87.6h0" stroke="#4b3f8c" stroke-width="1.15" stroke-linecap="round" fill="none"/>
<rect x="310" y="210.6" width="14" height="2.4" fill="#e060a8" opacity="0.55"/>
<rect x="310" y="213.0" width="9" height="2.2" fill="#7070b8" opacity="0.45"/>
<path d="M310.0 181.4v2.6M314.9 181.4v2.6M319.3 181.4v2.6M320.1 181.4v2.6M323.8 181.4v2.6M327.7 181.4v2.6M330.4 181.4v2.6M335.0 181.4v2.6M345.1 181.4v2.6M346.5 181.4v2.6M351.2 181.4v2.6M357.7 181.4v2.6M359.1 181.4v2.6M362.3 181.4v2.6M365.6 181.4v2.6M370.6 181.4v2.6M373.2 181.4v2.6M374.5 181.4v2.6M375.7 181.4v2.6M378.2 181.4v2.6M379.1 181.4v2.6M384.4 181.4v2.6M390.3 181.4v2.6M391.6 181.4v2.6M395.1 181.4v2.6M398.4 181.4v2.6M399.3 181.4v2.6M403.6 181.4v2.6M407.8 181.4v2.6M409.3 181.4v2.6M410.1 181.4v2.6M411.5 181.4v2.6M415.9 181.4v2.6M418.0 181.4v2.6M422.9 181.4v2.6M423.9 181.4v2.6M424.8 181.4v2.6M426.5 181.4v2.6M432.6 181.4v2.6M433.6 181.4v2.6M434.4 181.4v2.6M438.6 181.4v2.6M439.5 181.4v2.6M442.9 181.4v2.6M443.8 181.4v2.6M445.1 181.4v2.6M448.6 181.4v2.6M454.7 181.4v2.6M456.7 181.4v2.6M458.9 181.4v2.6M459.6 181.4v2.6M461.3 181.4v2.6M462.7 181.4v2.6M467.5 181.4v2.6M471.5 181.4v2.6M476.3 181.4v2.6M479.0 181.4v2.6M482.9 181.4v2.6M483.9 181.4v2.6M485.9 181.4v2.6M487.5 181.4v2.6M489.0 181.4v2.6M493.4 181.4v2.6M494.7 181.4v2.6M496.4 181.4v2.6M498.0 181.4v2.6M504.2 181.4v2.6M507.7 181.4v2.6M510.2 181.4v2.6M512.3 181.4v2.6" stroke="#c8c8c8" stroke-width="0.4" stroke-opacity="0.5" fill="none"/>
<path d="M312.8 184.1v2.6M314.8 184.1v2.6M317.4 184.1v2.6M322.9 184.1v2.6M324.2 184.1v2.6M325.5 184.1v2.6M326.3 184.1v2.6M328.6 184.1v2.6M332.8 184.1v2.6M333.8 184.1v2.6M335.8 184.1v2.6M348.4 184.1v2.6M350.7 184.1v2.6M352.5 184.1v2.6M357.9 184.1v2.6M364.4 184.1v2.6M366.2 184.1v2.6M367.1 184.1v2.6M370.4 184.1v2.6M374.6 184.1v2.6M382.2 184.1v2.6M385.7 184.1v2.6M387.3 184.1v2.6M389.8 184.1v2.6M391.4 184.1v2.6M393.6 184.1v2.6M395.9 184.1v2.6M403.3 184.1v2.6M410.6 184.1v2.6M418.7 184.1v2.6M421.1 184.1v2.6M431.4 184.1v2.6M432.4 184.1v2.6M440.5 184.1v2.6M444.2 184.1v2.6M450.9 184.1v2.6M453.1 184.1v2.6M468.0 184.1v2.6M468.7 184.1v2.6M475.1 184.1v2.6M481.0 184.1v2.6M483.1 184.1v2.6M489.3 184.1v2.6M490.7 184.1v2.6M495.7 184.1v2.6M498.4 184.1v2.6M500.7 184.1v2.6M502.0 184.1v2.6M507.8 184.1v2.6M512.7 184.1v2.6M513.7 184.1v2.6" stroke="#cccccc" stroke-width="0.4" stroke-opacity="0.45" fill="none"/>
<path d="M310.7 186.7v2.6M312.8 186.7v2.6M315.2 186.7v2.6M318.7 186.7v2.6M327.1 186.7v2.6M338.0 186.7v2.6M342.2 186.7v2.6M344.4 186.7v2.6M345.3 186.7v2.6M346.1 186.7v2.6M349.3 186.7v2.6M353.1 186.7v2.6M355.8 186.7v2.6M371.5 186.7v2.6M374.0 186.7v2.6M376.3 186.7v2.6M378.9 186.7v2.6M380.2 186.7v2.6M391.5 186.7v2.6M395.6 186.7v2.6M399.2 186.7v2.6M402.0 186.7v2.6M403.7 186.7v2.6M405.8 186.7v2.6M409.1 186.7v2.6M412.0 186.7v2.6M428.2 186.7v2.6M432.2 186.7v2.6M433.7 186.7v2.6M434.5 186.7v2.6M435.9 186.7v2.6M438.2 186.7v2.6M445.1 186.7v2.6M455.0 186.7v2.6M456.7 186.7v2.6M463.8 186.7v2.6M466.9 186.7v2.6M470.8 186.7v2.6M474.8 186.7v2.6M475.6 186.7v2.6M476.5 186.7v2.6M481.9 186.7v2.6M487.6 186.7v2.6M490.4 186.7v2.6M502.2 186.7v2.6M510.5 186.7v2.6M512.8 186.7v2.6M513.7 186.7v2.6" stroke="#d4d4d4" stroke-width="0.4" stroke-opacity="0.35" fill="none"/>
<path d="M312.0 192.4v2.6M312.9 192.4v2.6M313.5 192.4v2.6M315.0 192.4v2.6M315.6 192.4v2.6M318.3 192.4v2.6M320.4 192.4v2.6M321.5 192.4v2.6M322.9 192.4v2.6M323.9 192.4v2.6M324.8 192.4v2.6M325.6 192.4v2.6M329.0 192.4v2.6M330.5 192.4v2.6M333.2 192.4v2.6M334.5 192.4v2.6M337.8 192.4v2.6M339.9 192.4v2.6M342.3 192.4v2.6M343.7 192.4v2.6M345.7 192.4v2.6M346.7 192.4v2.6M353.7 192.4v2.6M356.2 192.4v2.6M358.2 192.4v2.6M360.6 192.4v2.6M361.4 192.4v2.6M362.7 192.4v2.6M363.8 192.4v2.6M367.8 192.4v2.6M368.4 192.4v2.6M370.1 192.4v2.6M374.5 192.4v2.6M378.0 192.4v2.6M381.0 192.4v2.6M382.3 192.4v2.6M383.5 192.4v2.6M386.4 192.4v2.6M387.7 192.4v2.6M390.9 192.4v2.6M392.3 192.4v2.6M395.8 192.4v2.6M398.1 192.4v2.6M402.2 192.4v2.6M411.4 192.4v2.6M413.1 192.4v2.6M422.7 192.4v2.6M423.4 192.4v2.6M428.5 192.4v2.6M429.3 192.4v2.6M431.7 192.4v2.6M433.4 192.4v2.6M437.3 192.4v2.6M438.8 192.4v2.6M440.0 192.4v2.6M444.1 192.4v2.6M446.6 192.4v2.6M450.4 192.4v2.6M452.7 192.4v2.6M453.5 192.4v2.6M457.5 192.4v2.6M458.8 192.4v2.6M461.0 192.4v2.6M461.7 192.4v2.6M463.1 192.4v2.6M466.4 192.4v2.6M470.5 192.4v2.6M473.6 192.4v2.6M475.8 192.4v2.6M479.6 192.4v2.6M483.0 192.4v2.6M484.4 192.4v2.6M487.0 192.4v2.6M489.9 192.4v2.6M493.9 192.4v2.6M495.2 192.4v2.6M496.9 192.4v2.6M498.7 192.4v2.6M499.7 192.4v2.6M501.6 192.4v2.6M505.6 192.4v2.6M508.6 192.4v2.6M509.9 192.4v2.6" stroke="#2fae68" stroke-width="0.4" stroke-opacity="0.8" fill="none"/>
<path d="M310.4 196.5v2.6M323.4 196.5v2.6M325.3 196.5v2.6M326.7 196.5v2.6M329.8 196.5v2.6M336.8 196.5v2.6M340.2 196.5v2.6M360.1 196.5v2.6M385.7 196.5v2.6M389.1 196.5v2.6M402.1 196.5v2.6M413.3 196.5v2.6M421.2 196.5v2.6M424.4 196.5v2.6M451.8 196.5v2.6M480.5 196.5v2.6M481.1 196.5v2.6M485.2 196.5v2.6M489.2 196.5v2.6M491.7 196.5v2.6M497.2 196.5v2.6" stroke="#f0c050" stroke-width="0.4" stroke-opacity="0.6" fill="none"/>
<path d="M310.1 198.7v2.6M323.2 198.7v2.6M326.3 198.7v2.6M326.9 198.7v2.6M343.5 198.7v2.6M346.2 198.7v2.6M348.4 198.7v2.6M349.8 198.7v2.6M353.5 198.7v2.6M354.9 198.7v2.6M356.7 198.7v2.6M359.3 198.7v2.6M365.8 198.7v2.6M370.4 198.7v2.6M373.5 198.7v2.6M379.2 198.7v2.6M390.1 198.7v2.6M399.6 198.7v2.6M403.1 198.7v2.6M421.1 198.7v2.6M432.6 198.7v2.6M438.8 198.7v2.6M443.8 198.7v2.6M447.1 198.7v2.6M448.7 198.7v2.6M464.3 198.7v2.6M471.4 198.7v2.6M472.6 198.7v2.6M491.3 198.7v2.6M507.1 198.7v2.6M507.8 198.7v2.6" stroke="#e04060" stroke-width="0.4" stroke-opacity="0.6" fill="none"/>
<path d="M310.7 201.4v2.6M313.9 201.4v2.6M320.7 201.4v2.6M322.7 201.4v2.6M325.6 201.4v2.6M329.9 201.4v2.6M331.2 201.4v2.6M335.1 201.4v2.6M337.6 201.4v2.6M352.2 201.4v2.6M353.5 201.4v2.6M358.3 201.4v2.6M359.0 201.4v2.6M360.6 201.4v2.6M361.5 201.4v2.6M362.6 201.4v2.6M365.7 201.4v2.6M366.9 201.4v2.6M372.9 201.4v2.6M373.8 201.4v2.6M377.7 201.4v2.6M385.1 201.4v2.6M386.1 201.4v2.6M387.4 201.4v2.6M393.0 201.4v2.6M395.7 201.4v2.6M405.6 201.4v2.6M407.6 201.4v2.6M409.9 201.4v2.6M421.4 201.4v2.6M423.4 201.4v2.6M435.8 201.4v2.6M444.0 201.4v2.6M445.3 201.4v2.6M448.6 201.4v2.6M459.0 201.4v2.6M459.9 201.4v2.6M467.0 201.4v2.6M472.7 201.4v2.6M478.1 201.4v2.6M481.8 201.4v2.6M482.7 201.4v2.6M494.3 201.4v2.6M495.2 201.4v2.6M501.0 201.4v2.6M506.0 201.4v2.6M507.9 201.4v2.6M512.4 201.4v2.6" stroke="#707090" stroke-width="0.4" stroke-opacity="0.55" fill="none"/>
<path d="M312.3 203.3v2.6M312.9 203.3v2.6M321.0 203.3v2.6M322.9 203.3v2.6M328.0 203.3v2.6M330.4 203.3v2.6M335.7 203.3v2.6M337.3 203.3v2.6M340.1 203.3v2.6M340.7 203.3v2.6M343.2 203.3v2.6M343.9 203.3v2.6M350.2 203.3v2.6M354.1 203.3v2.6M356.3 203.3v2.6M367.8 203.3v2.6M377.2 203.3v2.6M387.5 203.3v2.6M388.3 203.3v2.6M392.6 203.3v2.6M397.3 203.3v2.6M400.8 203.3v2.6M401.4 203.3v2.6M410.2 203.3v2.6M412.6 203.3v2.6M416.1 203.3v2.6M422.1 203.3v2.6M423.7 203.3v2.6M424.4 203.3v2.6M433.4 203.3v2.6M435.0 203.3v2.6M435.8 203.3v2.6M436.8 203.3v2.6M454.9 203.3v2.6M460.1 203.3v2.6M461.5 203.3v2.6M462.7 203.3v2.6M471.1 203.3v2.6M475.5 203.3v2.6M479.2 203.3v2.6M480.3 203.3v2.6M482.8 203.3v2.6M493.7 203.3v2.6M494.3 203.3v2.6M496.9 203.3v2.6M497.8 203.3v2.6" stroke="#98b498" stroke-width="0.4" stroke-opacity="0.6" fill="none"/>
<path d="M310.3 206.2v2.6M329.3 206.2v2.6M340.8 206.2v2.6M349.2 206.2v2.6M349.9 206.2v2.6M357.6 206.2v2.6M362.2 206.2v2.6M366.7 206.2v2.6M368.1 206.2v2.6M373.0 206.2v2.6M383.2 206.2v2.6M384.5 206.2v2.6M397.6 206.2v2.6M401.3 206.2v2.6M403.7 206.2v2.6M405.8 206.2v2.6M410.0 206.2v2.6M416.8 206.2v2.6M422.3 206.2v2.6M436.1 206.2v2.6M440.9 206.2v2.6M445.7 206.2v2.6M473.2 206.2v2.6M475.1 206.2v2.6M475.7 206.2v2.6M478.6 206.2v2.6M481.4 206.2v2.6M482.7 206.2v2.6M486.4 206.2v2.6M487.1 206.2v2.6M502.9 206.2v2.6M507.3 206.2v2.6" stroke="#d0d0d0" stroke-width="0.4" stroke-opacity="0.4" fill="none"/>
<path d="M312.1 210.5v2.6M315.2 210.5v2.6M318.6 210.5v2.6M319.9 210.5v2.6M323.1 210.5v2.6M324.1 210.5v2.6M326.3 210.5v2.6M328.7 210.5v2.6M332.4 210.5v2.6M333.3 210.5v2.6M334.7 210.5v2.6M339.0 210.5v2.6M343.1 210.5v2.6M352.0 210.5v2.6M352.9 210.5v2.6M353.9 210.5v2.6M354.8 210.5v2.6M358.2 210.5v2.6M361.9 210.5v2.6M364.9 210.5v2.6M369.0 210.5v2.6M371.3 210.5v2.6M373.8 210.5v2.6M380.5 210.5v2.6M383.6 210.5v2.6M386.8 210.5v2.6M389.6 210.5v2.6M391.9 210.5v2.6M396.0 210.5v2.6M398.8 210.5v2.6M399.8 210.5v2.6M401.8 210.5v2.6M403.8 210.5v2.6M405.9 210.5v2.6M408.7 210.5v2.6M410.5 210.5v2.6M412.4 210.5v2.6M414.5 210.5v2.6M416.4 210.5v2.6M426.4 210.5v2.6M427.3 210.5v2.6M428.0 210.5v2.6M432.2 210.5v2.6M434.2 210.5v2.6M436.5 210.5v2.6M439.7 210.5v2.6M441.6 210.5v2.6M443.1 210.5v2.6M443.8 210.5v2.6M450.3 210.5v2.6M458.9 210.5v2.6M460.6 210.5v2.6M463.1 210.5v2.6M464.9 210.5v2.6M465.8 210.5v2.6M473.1 210.5v2.6M479.2 210.5v2.6M480.8 210.5v2.6M482.4 210.5v2.6M486.8 210.5v2.6M492.4 210.5v2.6M495.1 210.5v2.6M497.4 210.5v2.6M499.0 210.5v2.6M504.7 210.5v2.6M511.8 210.5v2.6" stroke="#e050a0" stroke-width="0.4" stroke-opacity="0.75" fill="none"/>
<path d="M310.3 212.9v2.6M313.4 212.9v2.6M325.7 212.9v2.6M329.8 212.9v2.6M332.1 212.9v2.6M333.1 212.9v2.6M333.8 212.9v2.6M338.1 212.9v2.6M338.8 212.9v2.6M344.2 212.9v2.6M347.9 212.9v2.6M350.4 212.9v2.6M357.5 212.9v2.6M366.1 212.9v2.6M369.6 212.9v2.6M370.4 212.9v2.6M373.7 212.9v2.6M375.9 212.9v2.6M377.3 212.9v2.6M386.0 212.9v2.6M390.6 212.9v2.6M391.6 212.9v2.6M393.0 212.9v2.6M394.8 212.9v2.6M398.1 212.9v2.6M399.9 212.9v2.6M402.3 212.9v2.6M408.2 212.9v2.6M409.4 212.9v2.6M414.1 212.9v2.6M416.0 212.9v2.6M425.9 212.9v2.6M436.4 212.9v2.6M438.3 212.9v2.6M442.0 212.9v2.6M443.0 212.9v2.6M445.4 212.9v2.6M449.3 212.9v2.6M453.3 212.9v2.6M455.3 212.9v2.6M456.0 212.9v2.6M457.1 212.9v2.6M460.5 212.9v2.6M461.8 212.9v2.6M463.6 212.9v2.6M467.5 212.9v2.6M476.1 212.9v2.6M479.3 212.9v2.6M480.9 212.9v2.6M484.6 212.9v2.6M486.4 212.9v2.6M492.4 212.9v2.6M493.6 212.9v2.6M495.4 212.9v2.6M498.0 212.9v2.6M507.2 212.9v2.6M508.5 212.9v2.6M509.9 212.9v2.6M511.1 212.9v2.6M512.6 212.9v2.6" stroke="#8080b0" stroke-width="0.4" stroke-opacity="0.55" fill="none"/>
<path d="M311.2 216.0v2.6M315.4 216.0v2.6M317.3 216.0v2.6M319.5 216.0v2.6M321.3 216.0v2.6M325.7 216.0v2.6M332.5 216.0v2.6M334.5 216.0v2.6M341.8 216.0v2.6M343.1 216.0v2.6M354.0 216.0v2.6M356.6 216.0v2.6M360.4 216.0v2.6M362.2 216.0v2.6M363.7 216.0v2.6M364.6 216.0v2.6M371.2 216.0v2.6M373.0 216.0v2.6M377.0 216.0v2.6M379.3 216.0v2.6M382.0 216.0v2.6M383.2 216.0v2.6M384.3 216.0v2.6M386.1 216.0v2.6M389.9 216.0v2.6M392.8 216.0v2.6M393.3 216.0v2.6M397.5 216.0v2.6M399.8 216.0v2.6M400.5 216.0v2.6M402.0 216.0v2.6M403.3 216.0v2.6M408.9 216.0v2.6M411.9 216.0v2.6M413.6 216.0v2.6M415.1 216.0v2.6M416.7 216.0v2.6M418.3 216.0v2.6M420.1 216.0v2.6M425.4 216.0v2.6M430.7 216.0v2.6M435.0 216.0v2.6M442.2 216.0v2.6M446.1 216.0v2.6M447.1 216.0v2.6M447.8 216.0v2.6M449.0 216.0v2.6M450.5 216.0v2.6M453.5 216.0v2.6M459.5 216.0v2.6M463.0 216.0v2.6M465.4 216.0v2.6M466.9 216.0v2.6M480.3 216.0v2.6M485.5 216.0v2.6M487.4 216.0v2.6M488.2 216.0v2.6M502.0 216.0v2.6M503.7 216.0v2.6M510.6 216.0v2.6M511.7 216.0v2.6" stroke="#b0a090" stroke-width="0.4" stroke-opacity="0.55" fill="none"/>
<path d="M311.1 221.0v2.6M316.0 221.0v2.6M317.2 221.0v2.6M317.9 221.0v2.6M318.9 221.0v2.6M322.7 221.0v2.6M331.2 221.0v2.6M333.9 221.0v2.6M336.8 221.0v2.6M338.1 221.0v2.6M339.3 221.0v2.6M340.0 221.0v2.6M349.5 221.0v2.6M350.2 221.0v2.6M352.8 221.0v2.6M354.3 221.0v2.6M355.3 221.0v2.6M357.2 221.0v2.6M363.7 221.0v2.6M364.9 221.0v2.6M365.9 221.0v2.6M368.7 221.0v2.6M371.7 221.0v2.6M373.9 221.0v2.6M375.0 221.0v2.6M380.4 221.0v2.6M381.2 221.0v2.6M382.3 221.0v2.6M383.5 221.0v2.6M385.8 221.0v2.6M387.9 221.0v2.6M390.4 221.0v2.6M394.1 221.0v2.6M400.2 221.0v2.6M402.3 221.0v2.6M403.0 221.0v2.6M408.0 221.0v2.6M408.7 221.0v2.6M410.2 221.0v2.6M411.3 221.0v2.6M414.2 221.0v2.6M418.6 221.0v2.6M419.6 221.0v2.6M421.1 221.0v2.6M426.6 221.0v2.6M430.3 221.0v2.6M431.2 221.0v2.6M434.9 221.0v2.6M439.6 221.0v2.6M441.7 221.0v2.6M442.8 221.0v2.6M446.3 221.0v2.6M448.0 221.0v2.6M449.1 221.0v2.6M450.2 221.0v2.6M452.3 221.0v2.6M453.3 221.0v2.6M455.3 221.0v2.6M458.1 221.0v2.6M461.0 221.0v2.6M463.1 221.0v2.6M468.2 221.0v2.6M469.2 221.0v2.6M471.0 221.0v2.6M479.2 221.0v2.6M485.6 221.0v2.6M493.6 221.0v2.6M498.5 221.0v2.6M501.5 221.0v2.6M506.8 221.0v2.6M510.0 221.0v2.6M511.1 221.0v2.6M512.8 221.0v2.6M513.8 221.0v2.6" stroke="#c05088" stroke-width="0.4" stroke-opacity="0.7" fill="none"/>
<line x1="309.5" y1="226" x2="514.4" y2="226" stroke="#9a9a9a" stroke-width="1.1"/>
<text x="373.6" y="230.9" class="rk">High risk&lt;---------------------&gt;Low risk</text>
<line x1="309.7" y1="248.0" x2="309.7" y2="395.4" stroke="#555" stroke-width="0.75"/>
<line x1="309.7" y1="320.3" x2="516.5" y2="320.3" stroke="#333" stroke-width="0.55"/>
<line x1="308.4" y1="276.8" x2="309.7" y2="276.8" stroke="#555" stroke-width="0.5"/>
<text x="307.09999999999997" y="278.2" class="yt">0.5</text>
<line x1="308.4" y1="320.3" x2="309.7" y2="320.3" stroke="#555" stroke-width="0.5"/>
<text x="307.09999999999997" y="321.7" class="yt">0.0</text>
<line x1="308.4" y1="364.2" x2="309.7" y2="364.2" stroke="#555" stroke-width="0.5"/>
<text x="307.09999999999997" y="365.6" class="yt">&#8722;0.5</text>
<text transform="translate(296.4,321.7) rotate(-90)" class="yl">Enrichment Score</text>
<path d="M311.3 321.7h0M312.2 320.7h0M313.1 321.7h0M313.8 320.9h0M320.1 322.2h0M325.3 321.5h0M325.9 321.6h0M326.8 323.6h0M327.8 323.2h0M328.6 323.1h0M335.2 326.5h0M337.4 327.0h0M343.4 328.2h0M348.4 331.3h0M348.9 330.6h0M350.2 330.6h0M350.7 330.7h0M353.6 333.7h0M354.5 332.9h0M355.5 332.4h0M356.5 334.0h0M357.1 333.5h0M362.3 335.1h0M363.0 335.6h0M363.5 335.5h0M364.4 336.8h0M365.3 337.8h0M369.7 339.4h0M370.6 338.3h0M371.8 338.7h0M372.8 339.9h0M374.8 341.5h0M378.7 343.2h0M379.5 342.6h0M380.6 342.1h0M381.5 343.8h0M382.0 343.0h0M384.8 344.4h0M386.1 345.4h0M386.9 344.7h0M387.4 346.5h0M388.6 345.0h0M392.7 346.2h0M393.5 348.2h0M394.4 348.3h0M398.1 349.7h0M399.0 350.4h0M399.8 350.7h0M400.5 351.1h0M406.9 352.4h0M407.7 351.6h0M408.4 353.0h0M411.4 354.8h0M413.2 354.1h0M414.0 355.2h0M414.8 354.5h0M419.6 357.7h0M420.3 357.8h0M426.3 359.3h0M429.4 360.9h0M430.4 361.8h0M433.7 361.8h0M437.0 362.1h0M437.9 361.9h0M438.3 363.0h0M439.4 363.3h0M440.5 363.7h0M444.3 365.9h0M444.8 366.6h0M451.3 367.9h0M452.3 367.6h0M453.2 368.0h0M454.0 369.9h0M454.8 370.1h0M461.3 370.3h0M462.2 372.3h0M462.7 371.5h0M463.5 372.9h0M466.5 373.0h0M472.0 376.7h0M472.8 376.3h0M474.1 376.5h0M475.1 376.9h0M478.9 378.2h0M479.7 378.7h0M480.4 378.3h0M481.4 379.0h0M487.7 381.1h0M488.5 379.9h0M489.3 381.0h0M490.2 381.1h0M490.9 381.4h0M495.8 385.1h0M497.8 384.1h0M499.1 384.5h0M500.4 384.7h0M501.3 383.5h0M502.2 384.5h0M503.0 383.9h0M503.9 383.7h0M505.8 382.0h0M506.2 381.2h0M506.4 379.1h0M506.9 378.1h0M507.7 377.3h0M508.0 377.6h0M508.2 375.2h0M509.0 373.2h0M509.2 370.5h0M509.6 370.4h0M509.9 368.6h0M510.1 368.0h0M510.1 366.1h0M510.1 365.4h0M510.8 362.6h0M510.7 361.6h0M510.9 360.9h0M511.1 360.7h0M511.1 359.7h0M511.5 357.1h0M511.6 357.5h0M511.9 355.3h0M511.9 354.3h0M512.3 352.8h0M512.4 352.1h0M512.5 351.0h0M512.6 347.2h0M512.9 344.3h0M512.9 342.7h0M513.0 341.8h0M513.1 340.0h0M513.3 339.5h0M513.3 338.6h0M513.4 337.6h0M513.7 337.0h0M513.8 336.9h0M514.1 334.1h0M514.1 330.0h0M514.2 329.7h0M514.4 328.4h0M514.4 327.9h0M514.7 325.1h0M514.7 324.0h0M514.7 322.7h0M515.1 320.2h0" stroke="#1c1c1c" stroke-width="2.3" stroke-linecap="round" fill="none"/>
<path d="M311.3 321.7h0M312.2 320.7h0M313.1 321.7h0M313.8 320.9h0M320.1 322.2h0M325.3 321.5h0M325.9 321.6h0M326.8 323.6h0M327.8 323.2h0M328.6 323.1h0M335.2 326.5h0M337.4 327.0h0M343.4 328.2h0M348.4 331.3h0M348.9 330.6h0M350.2 330.6h0M350.7 330.7h0M353.6 333.7h0M354.5 332.9h0M355.5 332.4h0M356.5 334.0h0M357.1 333.5h0M362.3 335.1h0M363.0 335.6h0M363.5 335.5h0M364.4 336.8h0M365.3 337.8h0M369.7 339.4h0M370.6 338.3h0M371.8 338.7h0M372.8 339.9h0M374.8 341.5h0M378.7 343.2h0M379.5 342.6h0M380.6 342.1h0M381.5 343.8h0M382.0 343.0h0M384.8 344.4h0M386.1 345.4h0M386.9 344.7h0M387.4 346.5h0M388.6 345.0h0M392.7 346.2h0M393.5 348.2h0M394.4 348.3h0M398.1 349.7h0M399.0 350.4h0M399.8 350.7h0M400.5 351.1h0M406.9 352.4h0M407.7 351.6h0M408.4 353.0h0M411.4 354.8h0M413.2 354.1h0M414.0 355.2h0M414.8 354.5h0M419.6 357.7h0M420.3 357.8h0M426.3 359.3h0M429.4 360.9h0M430.4 361.8h0M433.7 361.8h0M437.0 362.1h0M437.9 361.9h0M438.3 363.0h0M439.4 363.3h0M440.5 363.7h0M444.3 365.9h0M444.8 366.6h0M451.3 367.9h0M452.3 367.6h0M453.2 368.0h0M454.0 369.9h0M454.8 370.1h0M461.3 370.3h0M462.2 372.3h0M462.7 371.5h0M463.5 372.9h0M466.5 373.0h0M472.0 376.7h0M472.8 376.3h0M474.1 376.5h0M475.1 376.9h0M478.9 378.2h0M479.7 378.7h0M480.4 378.3h0M481.4 379.0h0M487.7 381.1h0M488.5 379.9h0M489.3 381.0h0M490.2 381.1h0M490.9 381.4h0M495.8 385.1h0M497.8 384.1h0M499.1 384.5h0M500.4 384.7h0M501.3 383.5h0M502.2 384.5h0M503.0 383.9h0M503.9 383.7h0M505.8 382.0h0M506.2 381.2h0M506.4 379.1h0M506.9 378.1h0M507.7 377.3h0M508.0 377.6h0M508.2 375.2h0M509.0 373.2h0M509.2 370.5h0M509.6 370.4h0M509.9 368.6h0M510.1 368.0h0M510.1 366.1h0M510.1 365.4h0M510.8 362.6h0M510.7 361.6h0M510.9 360.9h0M511.1 360.7h0M511.1 359.7h0M511.5 357.1h0M511.6 357.5h0M511.9 355.3h0M511.9 354.3h0M512.3 352.8h0M512.4 352.1h0M512.5 351.0h0M512.6 347.2h0M512.9 344.3h0M512.9 342.7h0M513.0 341.8h0M513.1 340.0h0M513.3 339.5h0M513.3 338.6h0M513.4 337.6h0M513.7 337.0h0M513.8 336.9h0M514.1 334.1h0M514.1 330.0h0M514.2 329.7h0M514.4 328.4h0M514.4 327.9h0M514.7 325.1h0M514.7 324.0h0M514.7 322.7h0M515.1 320.2h0" stroke="#1a5a3a" stroke-width="1.15" stroke-linecap="round" fill="none"/>
<path d="M311.0 320.6h0M312.1 321.1h0M317.4 321.8h0M321.6 322.8h0M326.7 325.0h0M327.3 323.9h0M328.2 324.6h0M329.2 324.8h0M334.2 326.3h0M335.3 327.5h0M336.1 327.7h0M336.6 326.8h0M337.3 327.5h0M343.6 330.5h0M344.3 330.8h0M350.2 334.2h0M355.7 335.6h0M356.6 336.2h0M357.4 336.0h0M358.3 335.6h0M364.1 338.3h0M368.0 339.2h0M371.1 340.0h0M372.1 339.9h0M373.1 341.8h0M379.5 343.5h0M380.2 344.3h0M380.7 344.8h0M381.7 344.6h0M387.0 347.5h0M387.7 347.6h0M388.7 346.5h0M393.0 348.9h0M394.0 348.1h0M394.8 348.4h0M395.5 348.1h0M396.3 350.0h0M401.6 352.5h0M402.3 353.2h0M403.3 352.7h0M404.3 353.8h0M410.0 355.8h0M411.0 355.8h0M411.8 356.4h0M415.3 356.4h0M416.3 356.3h0M419.5 357.5h0M425.2 360.5h0M428.6 360.3h0M429.7 360.6h0M432.9 363.7h0M433.7 364.5h0M437.5 363.9h0M438.3 364.5h0M439.2 366.3h0M444.5 366.3h0M448.1 368.0h0M448.8 368.4h0M453.2 369.1h0M454.0 370.8h0M455.2 369.6h0M455.9 369.9h0M456.7 371.9h0M462.4 372.1h0M463.6 373.0h0M464.1 373.3h0M470.4 375.7h0M471.5 376.1h0M472.2 376.5h0M478.5 379.3h0M481.8 380.5h0M482.7 380.9h0M483.4 381.3h0M484.5 381.2h0M485.0 380.4h0M487.4 383.6h0M488.3 382.6h0M488.8 384.1h0M491.6 383.7h0M492.2 384.5h0M493.3 383.5h0M494.3 383.4h0M496.7 386.0h0M497.5 385.7h0M498.3 387.4h0M499.2 386.1h0M501.3 387.4h0M502.3 386.0h0M503.4 386.4h0M504.0 385.2h0M504.9 385.2h0M506.1 383.3h0M506.6 381.9h0M507.3 380.7h0M508.3 376.6h0M508.6 375.3h0M509.0 374.1h0M509.5 371.9h0M509.6 371.1h0M509.9 370.6h0M510.2 368.9h0M510.2 366.8h0M510.2 366.7h0M510.4 365.4h0M510.8 364.5h0M511.0 362.9h0M511.2 361.4h0M511.3 361.4h0M511.7 357.5h0M511.6 356.1h0M511.7 356.1h0M511.8 354.7h0M512.1 354.9h0M512.3 350.8h0M512.4 350.2h0M512.8 349.9h0M512.6 348.5h0M513.0 345.6h0M512.8 345.5h0M512.9 343.9h0M513.1 342.5h0M513.5 338.8h0M513.5 338.4h0M513.5 338.2h0M513.8 336.5h0M514.0 333.9h0M514.1 331.8h0M513.9 331.0h0M514.1 331.4h0M514.4 328.6h0M514.5 328.5h0M514.6 326.1h0M514.6 325.5h0M514.7 325.3h0M514.7 323.2h0M514.9 323.0h0M515.1 321.5h0" stroke="#1c1c1c" stroke-width="2.3" stroke-linecap="round" fill="none"/>
<path d="M311.0 320.6h0M312.1 321.1h0M317.4 321.8h0M321.6 322.8h0M326.7 325.0h0M327.3 323.9h0M328.2 324.6h0M329.2 324.8h0M334.2 326.3h0M335.3 327.5h0M336.1 327.7h0M336.6 326.8h0M337.3 327.5h0M343.6 330.5h0M344.3 330.8h0M350.2 334.2h0M355.7 335.6h0M356.6 336.2h0M357.4 336.0h0M358.3 335.6h0M364.1 338.3h0M368.0 339.2h0M371.1 340.0h0M372.1 339.9h0M373.1 341.8h0M379.5 343.5h0M380.2 344.3h0M380.7 344.8h0M381.7 344.6h0M387.0 347.5h0M387.7 347.6h0M388.7 346.5h0M393.0 348.9h0M394.0 348.1h0M394.8 348.4h0M395.5 348.1h0M396.3 350.0h0M401.6 352.5h0M402.3 353.2h0M403.3 352.7h0M404.3 353.8h0M410.0 355.8h0M411.0 355.8h0M411.8 356.4h0M415.3 356.4h0M416.3 356.3h0M419.5 357.5h0M425.2 360.5h0M428.6 360.3h0M429.7 360.6h0M432.9 363.7h0M433.7 364.5h0M437.5 363.9h0M438.3 364.5h0M439.2 366.3h0M444.5 366.3h0M448.1 368.0h0M448.8 368.4h0M453.2 369.1h0M454.0 370.8h0M455.2 369.6h0M455.9 369.9h0M456.7 371.9h0M462.4 372.1h0M463.6 373.0h0M464.1 373.3h0M470.4 375.7h0M471.5 376.1h0M472.2 376.5h0M478.5 379.3h0M481.8 380.5h0M482.7 380.9h0M483.4 381.3h0M484.5 381.2h0M485.0 380.4h0M487.4 383.6h0M488.3 382.6h0M488.8 384.1h0M491.6 383.7h0M492.2 384.5h0M493.3 383.5h0M494.3 383.4h0M496.7 386.0h0M497.5 385.7h0M498.3 387.4h0M499.2 386.1h0M501.3 387.4h0M502.3 386.0h0M503.4 386.4h0M504.0 385.2h0M504.9 385.2h0M506.1 383.3h0M506.6 381.9h0M507.3 380.7h0M508.3 376.6h0M508.6 375.3h0M509.0 374.1h0M509.5 371.9h0M509.6 371.1h0M509.9 370.6h0M510.2 368.9h0M510.2 366.8h0M510.2 366.7h0M510.4 365.4h0M510.8 364.5h0M511.0 362.9h0M511.2 361.4h0M511.3 361.4h0M511.7 357.5h0M511.6 356.1h0M511.7 356.1h0M511.8 354.7h0M512.1 354.9h0M512.3 350.8h0M512.4 350.2h0M512.8 349.9h0M512.6 348.5h0M513.0 345.6h0M512.8 345.5h0M512.9 343.9h0M513.1 342.5h0M513.5 338.8h0M513.5 338.4h0M513.5 338.2h0M513.8 336.5h0M514.0 333.9h0M514.1 331.8h0M513.9 331.0h0M514.1 331.4h0M514.4 328.6h0M514.5 328.5h0M514.6 326.1h0M514.6 325.5h0M514.7 325.3h0M514.7 323.2h0M514.9 323.0h0M515.1 321.5h0" stroke="#222222" stroke-width="1.15" stroke-linecap="round" fill="none"/>
<path d="M311.1 320.7h0M311.9 320.7h0M312.7 320.4h0M313.7 321.4h0M314.3 321.0h0M320.6 321.4h0M321.7 320.9h0M322.4 321.7h0M323.6 321.6h0M328.1 322.9h0M328.9 323.3h0M332.1 324.1h0M332.8 324.8h0M333.8 324.0h0M334.2 324.9h0M335.2 324.8h0M337.5 327.2h0M338.1 326.5h0M341.4 328.8h0M342.2 328.6h0M342.8 328.8h0M343.9 329.1h0M344.6 329.9h0M351.1 332.3h0M351.7 332.1h0M354.5 331.6h0M355.1 331.4h0M356.4 333.2h0M357.0 333.1h0M357.8 334.1h0M361.0 334.7h0M362.3 335.1h0M363.3 336.1h0M364.0 336.4h0M364.6 334.9h0M367.5 337.6h0M368.6 338.1h0M369.4 337.8h0M370.2 338.6h0M370.8 339.9h0M375.1 340.4h0M375.7 339.4h0M376.9 339.9h0M382.3 341.7h0M388.4 344.7h0M389.0 344.6h0M389.8 344.2h0M393.2 347.1h0M394.2 347.3h0M394.7 346.8h0M395.7 347.3h0M398.8 347.6h0M399.8 348.7h0M400.5 349.4h0M402.5 349.2h0M403.4 350.9h0M408.8 351.7h0M413.2 352.5h0M413.9 353.9h0M414.9 354.6h0M419.0 356.4h0M419.7 356.0h0M420.4 355.6h0M425.1 357.2h0M425.6 358.1h0M426.6 359.4h0M427.3 358.6h0M429.5 360.0h0M430.2 359.6h0M436.3 363.1h0M437.1 362.8h0M437.9 363.3h0M438.7 362.8h0M445.0 364.7h0M445.7 364.9h0M447.0 365.2h0M447.5 363.9h0M450.7 367.7h0M451.3 367.2h0M452.1 367.1h0M453.1 367.4h0M456.4 370.2h0M457.5 370.5h0M463.0 370.9h0M464.2 371.0h0M464.8 372.7h0M465.7 371.9h0M466.5 372.4h0M472.4 374.9h0M473.4 375.4h0M476.6 374.5h0M477.8 376.7h0M478.4 375.9h0M482.1 376.3h0M482.7 377.7h0M485.4 380.2h0M485.8 379.7h0M487.1 379.6h0M490.8 382.0h0M491.8 381.2h0M493.8 381.8h0M494.7 383.0h0M495.6 382.8h0M496.9 381.7h0M498.0 381.8h0M498.9 383.5h0M499.8 382.4h0M500.6 381.9h0M502.2 380.5h0M503.1 380.5h0M503.4 380.2h0M504.2 378.9h0M504.4 378.0h0M505.4 376.2h0M505.7 375.8h0M506.6 375.4h0M506.9 373.5h0M506.9 373.6h0M507.2 371.6h0M507.4 371.6h0M507.9 369.3h0M508.0 367.3h0M508.3 367.1h0M508.7 365.1h0M508.8 363.7h0M509.0 364.1h0M509.5 361.3h0M509.8 360.7h0M509.7 359.6h0M509.9 358.3h0M510.3 357.6h0M510.2 358.1h0M510.5 356.2h0M510.8 355.5h0M511.2 355.0h0M511.2 354.0h0M511.4 350.6h0M511.7 349.9h0M511.6 348.3h0M511.7 348.6h0M512.1 347.4h0M512.3 344.6h0M512.3 343.7h0M512.5 344.3h0M512.7 342.3h0M512.7 341.9h0M513.0 338.4h0M513.1 338.2h0M513.1 337.0h0M513.5 335.6h0M513.6 333.1h0M514.0 332.0h0M514.2 329.8h0M514.0 329.6h0M514.3 328.9h0M514.2 327.5h0M514.2 325.9h0M514.5 323.6h0M514.6 323.3h0M514.8 321.6h0" stroke="#1c1c1c" stroke-width="2.3" stroke-linecap="round" fill="none"/>
<path d="M311.1 320.7h0M311.9 320.7h0M312.7 320.4h0M313.7 321.4h0M314.3 321.0h0M320.6 321.4h0M321.7 320.9h0M322.4 321.7h0M323.6 321.6h0M328.1 322.9h0M328.9 323.3h0M332.1 324.1h0M332.8 324.8h0M333.8 324.0h0M334.2 324.9h0M335.2 324.8h0M337.5 327.2h0M338.1 326.5h0M341.4 328.8h0M342.2 328.6h0M342.8 328.8h0M343.9 329.1h0M344.6 329.9h0M351.1 332.3h0M351.7 332.1h0M354.5 331.6h0M355.1 331.4h0M356.4 333.2h0M357.0 333.1h0M357.8 334.1h0M361.0 334.7h0M362.3 335.1h0M363.3 336.1h0M364.0 336.4h0M364.6 334.9h0M367.5 337.6h0M368.6 338.1h0M369.4 337.8h0M370.2 338.6h0M370.8 339.9h0M375.1 340.4h0M375.7 339.4h0M376.9 339.9h0M382.3 341.7h0M388.4 344.7h0M389.0 344.6h0M389.8 344.2h0M393.2 347.1h0M394.2 347.3h0M394.7 346.8h0M395.7 347.3h0M398.8 347.6h0M399.8 348.7h0M400.5 349.4h0M402.5 349.2h0M403.4 350.9h0M408.8 351.7h0M413.2 352.5h0M413.9 353.9h0M414.9 354.6h0M419.0 356.4h0M419.7 356.0h0M420.4 355.6h0M425.1 357.2h0M425.6 358.1h0M426.6 359.4h0M427.3 358.6h0M429.5 360.0h0M430.2 359.6h0M436.3 363.1h0M437.1 362.8h0M437.9 363.3h0M438.7 362.8h0M445.0 364.7h0M445.7 364.9h0M447.0 365.2h0M447.5 363.9h0M450.7 367.7h0M451.3 367.2h0M452.1 367.1h0M453.1 367.4h0M456.4 370.2h0M457.5 370.5h0M463.0 370.9h0M464.2 371.0h0M464.8 372.7h0M465.7 371.9h0M466.5 372.4h0M472.4 374.9h0M473.4 375.4h0M476.6 374.5h0M477.8 376.7h0M478.4 375.9h0M482.1 376.3h0M482.7 377.7h0M485.4 380.2h0M485.8 379.7h0M487.1 379.6h0M490.8 382.0h0M491.8 381.2h0M493.8 381.8h0M494.7 383.0h0M495.6 382.8h0M496.9 381.7h0M498.0 381.8h0M498.9 383.5h0M499.8 382.4h0M500.6 381.9h0M502.2 380.5h0M503.1 380.5h0M503.4 380.2h0M504.2 378.9h0M504.4 378.0h0M505.4 376.2h0M505.7 375.8h0M506.6 375.4h0M506.9 373.5h0M506.9 373.6h0M507.2 371.6h0M507.4 371.6h0M507.9 369.3h0M508.0 367.3h0M508.3 367.1h0M508.7 365.1h0M508.8 363.7h0M509.0 364.1h0M509.5 361.3h0M509.8 360.7h0M509.7 359.6h0M509.9 358.3h0M510.3 357.6h0M510.2 358.1h0M510.5 356.2h0M510.8 355.5h0M511.2 355.0h0M511.2 354.0h0M511.4 350.6h0M511.7 349.9h0M511.6 348.3h0M511.7 348.6h0M512.1 347.4h0M512.3 344.6h0M512.3 343.7h0M512.5 344.3h0M512.7 342.3h0M512.7 341.9h0M513.0 338.4h0M513.1 338.2h0M513.1 337.0h0M513.5 335.6h0M513.6 333.1h0M514.0 332.0h0M514.2 329.8h0M514.0 329.6h0M514.3 328.9h0M514.2 327.5h0M514.2 325.9h0M514.5 323.6h0M514.6 323.3h0M514.8 321.6h0" stroke="#ffffff" stroke-width="1.15" stroke-linecap="round" fill="none"/>
<path d="M311.4 320.5h0M312.1 319.9h0M312.9 320.7h0M318.8 320.8h0M319.7 321.5h0M320.4 321.1h0M321.8 321.2h0M324.7 323.0h0M325.3 322.8h0M326.2 324.2h0M327.1 323.9h0M330.8 325.0h0M331.2 326.2h0M333.7 326.7h0M335.5 327.9h0M336.4 327.7h0M337.3 327.7h0M338.2 328.2h0M339.4 329.4h0M345.0 329.6h0M345.6 331.1h0M346.6 330.4h0M347.1 331.1h0M348.0 331.0h0M353.1 333.3h0M353.9 333.0h0M354.6 334.6h0M357.2 333.9h0M358.0 335.0h0M358.8 334.5h0M359.5 335.1h0M362.7 336.6h0M363.1 336.0h0M364.4 337.1h0M365.0 336.7h0M371.2 338.9h0M376.7 340.1h0M377.3 342.2h0M378.4 340.7h0M378.9 341.4h0M385.0 346.3h0M385.8 346.5h0M386.8 346.2h0M391.5 346.7h0M392.3 346.9h0M397.8 348.3h0M402.9 351.1h0M403.8 350.9h0M404.7 350.0h0M408.2 352.2h0M409.0 352.9h0M413.0 355.4h0M413.9 355.5h0M414.9 355.0h0M415.6 354.7h0M416.3 355.2h0M418.8 355.6h0M419.5 357.1h0M426.0 358.0h0M431.8 361.1h0M432.5 361.0h0M433.7 360.5h0M434.3 360.2h0M439.8 363.1h0M445.0 364.7h0M450.7 366.9h0M456.7 369.0h0M457.4 368.4h0M458.3 368.7h0M459.0 369.7h0M462.3 369.7h0M466.8 371.4h0M467.6 372.2h0M468.3 372.1h0M469.3 372.2h0M475.5 374.1h0M476.4 375.5h0M477.3 374.8h0M482.7 376.3h0M486.2 377.3h0M487.4 378.9h0M492.8 381.2h0M493.4 380.4h0M499.9 383.5h0M500.8 383.7h0M501.7 382.7h0M503.9 383.2h0M504.6 381.9h0M505.8 381.5h0M507.3 380.2h0M507.7 379.5h0M508.1 377.8h0M508.4 377.3h0M508.4 376.5h0M509.3 373.7h0M509.4 372.5h0M509.7 370.7h0M510.0 371.3h0M509.9 369.3h0M510.4 365.9h0M511.0 364.1h0M511.2 363.3h0M511.4 361.2h0M511.2 361.6h0M511.6 361.3h0M511.9 358.2h0M512.1 356.9h0M512.2 354.3h0M512.4 353.8h0M512.4 353.4h0M512.3 352.3h0M512.4 349.6h0M512.8 349.6h0M512.8 346.1h0M513.1 343.1h0M513.2 341.2h0M513.5 341.0h0M513.6 341.3h0M513.6 339.0h0M513.6 338.2h0M513.7 335.5h0M514.0 335.7h0M513.8 334.1h0M514.1 331.3h0M514.2 329.8h0M514.5 329.2h0M514.5 329.3h0M514.6 327.0h0M514.8 324.5h0M514.7 322.3h0M514.9 322.6h0" stroke="#1c1c1c" stroke-width="2.3" stroke-linecap="round" fill="none"/>
<path d="M311.4 320.5h0M312.1 319.9h0M312.9 320.7h0M318.8 320.8h0M319.7 321.5h0M320.4 321.1h0M321.8 321.2h0M324.7 323.0h0M325.3 322.8h0M326.2 324.2h0M327.1 323.9h0M330.8 325.0h0M331.2 326.2h0M333.7 326.7h0M335.5 327.9h0M336.4 327.7h0M337.3 327.7h0M338.2 328.2h0M339.4 329.4h0M345.0 329.6h0M345.6 331.1h0M346.6 330.4h0M347.1 331.1h0M348.0 331.0h0M353.1 333.3h0M353.9 333.0h0M354.6 334.6h0M357.2 333.9h0M358.0 335.0h0M358.8 334.5h0M359.5 335.1h0M362.7 336.6h0M363.1 336.0h0M364.4 337.1h0M365.0 336.7h0M371.2 338.9h0M376.7 340.1h0M377.3 342.2h0M378.4 340.7h0M378.9 341.4h0M385.0 346.3h0M385.8 346.5h0M386.8 346.2h0M391.5 346.7h0M392.3 346.9h0M397.8 348.3h0M402.9 351.1h0M403.8 350.9h0M404.7 350.0h0M408.2 352.2h0M409.0 352.9h0M413.0 355.4h0M413.9 355.5h0M414.9 355.0h0M415.6 354.7h0M416.3 355.2h0M418.8 355.6h0M419.5 357.1h0M426.0 358.0h0M431.8 361.1h0M432.5 361.0h0M433.7 360.5h0M434.3 360.2h0M439.8 363.1h0M445.0 364.7h0M450.7 366.9h0M456.7 369.0h0M457.4 368.4h0M458.3 368.7h0M459.0 369.7h0M462.3 369.7h0M466.8 371.4h0M467.6 372.2h0M468.3 372.1h0M469.3 372.2h0M475.5 374.1h0M476.4 375.5h0M477.3 374.8h0M482.7 376.3h0M486.2 377.3h0M487.4 378.9h0M492.8 381.2h0M493.4 380.4h0M499.9 383.5h0M500.8 383.7h0M501.7 382.7h0M503.9 383.2h0M504.6 381.9h0M505.8 381.5h0M507.3 380.2h0M507.7 379.5h0M508.1 377.8h0M508.4 377.3h0M508.4 376.5h0M509.3 373.7h0M509.4 372.5h0M509.7 370.7h0M510.0 371.3h0M509.9 369.3h0M510.4 365.9h0M511.0 364.1h0M511.2 363.3h0M511.4 361.2h0M511.2 361.6h0M511.6 361.3h0M511.9 358.2h0M512.1 356.9h0M512.2 354.3h0M512.4 353.8h0M512.4 353.4h0M512.3 352.3h0M512.4 349.6h0M512.8 349.6h0M512.8 346.1h0M513.1 343.1h0M513.2 341.2h0M513.5 341.0h0M513.6 341.3h0M513.6 339.0h0M513.6 338.2h0M513.7 335.5h0M514.0 335.7h0M513.8 334.1h0M514.1 331.3h0M514.2 329.8h0M514.5 329.2h0M514.5 329.3h0M514.6 327.0h0M514.8 324.5h0M514.7 322.3h0M514.9 322.6h0" stroke="#2a9a5a" stroke-width="1.15" stroke-linecap="round" fill="none"/>
<path d="M311.1 320.6h0M330.1 326.7h0M330.9 327.1h0M331.8 325.7h0M332.5 326.3h0M352.2 336.2h0M352.7 334.7h0M353.8 336.7h0M354.4 335.9h0M364.5 340.4h0M365.2 341.0h0M366.2 341.0h0M367.0 340.1h0M367.9 340.5h0M376.2 343.8h0M377.0 346.0h0M378.0 345.5h0M378.7 346.2h0M385.9 348.6h0M386.7 349.7h0M387.7 349.8h0M388.3 349.5h0M389.4 349.3h0M398.5 352.9h0M399.4 352.6h0M400.0 354.4h0M401.1 354.6h0M401.9 354.6h0M417.2 360.2h0M439.8 369.1h0M440.7 369.6h0M441.2 370.3h0M452.4 374.8h0M472.9 382.1h0M473.6 381.7h0M474.4 381.9h0M475.3 382.4h0M476.2 383.1h0M481.9 385.9h0M499.2 391.5h0M499.9 393.7h0M501.0 392.0h0M502.2 393.5h0M503.9 390.4h0M505.1 390.0h0M505.4 388.2h0M506.0 387.9h0M507.4 382.8h0M507.7 382.9h0M508.3 381.0h0M509.4 373.6h0M509.9 371.3h0M510.1 370.1h0M510.0 369.4h0M510.2 369.1h0M510.4 366.8h0M511.0 363.1h0M511.5 360.0h0M511.7 358.0h0M511.6 357.0h0M511.8 357.3h0M511.9 356.5h0M512.7 350.7h0M512.5 350.1h0M512.5 348.2h0M512.9 348.3h0M513.3 343.3h0M513.1 342.3h0M513.4 340.6h0M513.5 339.0h0M513.7 339.4h0M513.9 337.5h0M513.9 337.0h0M513.7 334.3h0M513.8 334.8h0M514.0 333.3h0M514.2 333.4h0M514.4 329.3h0M514.6 327.0h0M514.6 326.1h0M514.8 325.4h0M514.7 324.8h0" stroke="#1c1c1c" stroke-width="2.3" stroke-linecap="round" fill="none"/>
<path d="M311.1 320.6h0M330.1 326.7h0M330.9 327.1h0M331.8 325.7h0M332.5 326.3h0M352.2 336.2h0M352.7 334.7h0M353.8 336.7h0M354.4 335.9h0M364.5 340.4h0M365.2 341.0h0M366.2 341.0h0M367.0 340.1h0M367.9 340.5h0M376.2 343.8h0M377.0 346.0h0M378.0 345.5h0M378.7 346.2h0M385.9 348.6h0M386.7 349.7h0M387.7 349.8h0M388.3 349.5h0M389.4 349.3h0M398.5 352.9h0M399.4 352.6h0M400.0 354.4h0M401.1 354.6h0M401.9 354.6h0M417.2 360.2h0M439.8 369.1h0M440.7 369.6h0M441.2 370.3h0M452.4 374.8h0M472.9 382.1h0M473.6 381.7h0M474.4 381.9h0M475.3 382.4h0M476.2 383.1h0M481.9 385.9h0M499.2 391.5h0M499.9 393.7h0M501.0 392.0h0M502.2 393.5h0M503.9 390.4h0M505.1 390.0h0M505.4 388.2h0M506.0 387.9h0M507.4 382.8h0M507.7 382.9h0M508.3 381.0h0M509.4 373.6h0M509.9 371.3h0M510.1 370.1h0M510.0 369.4h0M510.2 369.1h0M510.4 366.8h0M511.0 363.1h0M511.5 360.0h0M511.7 358.0h0M511.6 357.0h0M511.8 357.3h0M511.9 356.5h0M512.7 350.7h0M512.5 350.1h0M512.5 348.2h0M512.9 348.3h0M513.3 343.3h0M513.1 342.3h0M513.4 340.6h0M513.5 339.0h0M513.7 339.4h0M513.9 337.5h0M513.9 337.0h0M513.7 334.3h0M513.8 334.8h0M514.0 333.3h0M514.2 333.4h0M514.4 329.3h0M514.6 327.0h0M514.6 326.1h0M514.8 325.4h0M514.7 324.8h0" stroke="#6a5aaa" stroke-width="1.15" stroke-linecap="round" fill="none"/>
<path d="M311.3 320.9h0M312.2 320.7h0M312.7 320.9h0M313.8 322.3h0M314.9 321.6h0M317.8 321.9h0M318.4 321.6h0M319.3 321.6h0M319.8 322.5h0M325.7 324.9h0M326.7 324.3h0M327.8 325.5h0M328.6 325.2h0M329.2 325.5h0M335.6 326.1h0M336.2 326.5h0M337.1 326.1h0M337.9 327.2h0M338.9 327.1h0M344.3 328.8h0M345.2 330.3h0M345.9 330.5h0M346.7 331.0h0M347.4 331.0h0M353.3 332.6h0M354.3 333.5h0M357.7 333.4h0M358.6 334.3h0M359.7 335.6h0M360.3 334.8h0M361.3 336.1h0M364.3 336.5h0M365.4 337.0h0M366.4 335.8h0M370.9 338.3h0M371.3 339.8h0M372.2 340.0h0M373.1 340.0h0M377.4 341.8h0M378.2 341.0h0M379.0 340.9h0M381.3 342.9h0M382.4 342.4h0M383.1 343.5h0M383.9 343.0h0M385.0 344.0h0M388.0 345.3h0M389.0 344.4h0M390.1 345.7h0M395.4 346.3h0M396.3 347.9h0M396.8 347.5h0M397.8 347.8h0M400.6 351.2h0M401.4 350.2h0M402.2 350.8h0M406.4 350.8h0M407.4 352.1h0M408.0 352.1h0M408.8 352.6h0M409.4 352.8h0M411.7 352.9h0M412.3 352.6h0M413.3 353.9h0M415.1 355.2h0M416.1 356.1h0M421.9 355.5h0M423.1 356.5h0M427.9 359.4h0M428.9 359.4h0M430.0 359.3h0M430.6 360.0h0M435.8 361.8h0M436.7 362.4h0M437.2 363.1h0M438.3 363.5h0M443.2 364.4h0M444.2 364.3h0M445.0 364.2h0M445.7 364.8h0M446.8 366.0h0M451.9 367.7h0M458.0 370.4h0M458.9 371.7h0M460.7 371.2h0M462.8 372.1h0M463.6 372.5h0M464.6 372.6h0M465.3 372.3h0M465.9 374.0h0M469.8 374.1h0M470.8 376.0h0M471.4 375.0h0M472.0 376.7h0M472.9 376.3h0M478.5 380.0h0M479.7 379.1h0M480.6 380.5h0M486.5 383.1h0M487.1 382.5h0M492.4 383.2h0M496.3 386.2h0M496.8 386.0h0M497.8 385.3h0M499.6 386.3h0M501.5 388.1h0M502.4 388.4h0M503.6 388.1h0M504.2 387.8h0M505.2 388.3h0M507.1 385.6h0M507.6 384.6h0M508.3 382.5h0M508.6 383.3h0M508.9 382.5h0M509.1 379.7h0M509.7 377.8h0M509.6 376.8h0M510.2 375.4h0M510.4 374.3h0M510.6 371.8h0M510.7 372.3h0M510.9 370.1h0M511.0 370.6h0M511.4 365.5h0M511.7 365.2h0M511.7 364.7h0M511.9 364.3h0M511.9 361.7h0M511.8 361.9h0M512.0 361.4h0M512.1 358.3h0M512.4 357.2h0M512.6 355.5h0M512.6 355.3h0M512.6 355.3h0M512.6 354.6h0M512.9 349.9h0M513.1 350.6h0M513.0 348.4h0M513.0 347.7h0M513.4 347.9h0M513.6 344.7h0M513.4 343.9h0M513.7 342.9h0M513.7 343.0h0M513.5 341.0h0M513.9 338.2h0M513.8 338.3h0M513.8 337.3h0M514.3 336.5h0M514.3 332.5h0M514.3 331.5h0M514.3 331.1h0M514.5 330.3h0M514.6 328.0h0M514.8 326.4h0M514.8 326.3h0M515.0 322.0h0M514.8 321.6h0M514.9 320.7h0" stroke="#1c1c1c" stroke-width="2.3" stroke-linecap="round" fill="none"/>
<path d="M311.3 320.9h0M312.2 320.7h0M312.7 320.9h0M313.8 322.3h0M314.9 321.6h0M317.8 321.9h0M318.4 321.6h0M319.3 321.6h0M319.8 322.5h0M325.7 324.9h0M326.7 324.3h0M327.8 325.5h0M328.6 325.2h0M329.2 325.5h0M335.6 326.1h0M336.2 326.5h0M337.1 326.1h0M337.9 327.2h0M338.9 327.1h0M344.3 328.8h0M345.2 330.3h0M345.9 330.5h0M346.7 331.0h0M347.4 331.0h0M353.3 332.6h0M354.3 333.5h0M357.7 333.4h0M358.6 334.3h0M359.7 335.6h0M360.3 334.8h0M361.3 336.1h0M364.3 336.5h0M365.4 337.0h0M366.4 335.8h0M370.9 338.3h0M371.3 339.8h0M372.2 340.0h0M373.1 340.0h0M377.4 341.8h0M378.2 341.0h0M379.0 340.9h0M381.3 342.9h0M382.4 342.4h0M383.1 343.5h0M383.9 343.0h0M385.0 344.0h0M388.0 345.3h0M389.0 344.4h0M390.1 345.7h0M395.4 346.3h0M396.3 347.9h0M396.8 347.5h0M397.8 347.8h0M400.6 351.2h0M401.4 350.2h0M402.2 350.8h0M406.4 350.8h0M407.4 352.1h0M408.0 352.1h0M408.8 352.6h0M409.4 352.8h0M411.7 352.9h0M412.3 352.6h0M413.3 353.9h0M415.1 355.2h0M416.1 356.1h0M421.9 355.5h0M423.1 356.5h0M427.9 359.4h0M428.9 359.4h0M430.0 359.3h0M430.6 360.0h0M435.8 361.8h0M436.7 362.4h0M437.2 363.1h0M438.3 363.5h0M443.2 364.4h0M444.2 364.3h0M445.0 364.2h0M445.7 364.8h0M446.8 366.0h0M451.9 367.7h0M458.0 370.4h0M458.9 371.7h0M460.7 371.2h0M462.8 372.1h0M463.6 372.5h0M464.6 372.6h0M465.3 372.3h0M465.9 374.0h0M469.8 374.1h0M470.8 376.0h0M471.4 375.0h0M472.0 376.7h0M472.9 376.3h0M478.5 380.0h0M479.7 379.1h0M480.6 380.5h0M486.5 383.1h0M487.1 382.5h0M492.4 383.2h0M496.3 386.2h0M496.8 386.0h0M497.8 385.3h0M499.6 386.3h0M501.5 388.1h0M502.4 388.4h0M503.6 388.1h0M504.2 387.8h0M505.2 388.3h0M507.1 385.6h0M507.6 384.6h0M508.3 382.5h0M508.6 383.3h0M508.9 382.5h0M509.1 379.7h0M509.7 377.8h0M509.6 376.8h0M510.2 375.4h0M510.4 374.3h0M510.6 371.8h0M510.7 372.3h0M510.9 370.1h0M511.0 370.6h0M511.4 365.5h0M511.7 365.2h0M511.7 364.7h0M511.9 364.3h0M511.9 361.7h0M511.8 361.9h0M512.0 361.4h0M512.1 358.3h0M512.4 357.2h0M512.6 355.5h0M512.6 355.3h0M512.6 355.3h0M512.6 354.6h0M512.9 349.9h0M513.1 350.6h0M513.0 348.4h0M513.0 347.7h0M513.4 347.9h0M513.6 344.7h0M513.4 343.9h0M513.7 342.9h0M513.7 343.0h0M513.5 341.0h0M513.9 338.2h0M513.8 338.3h0M513.8 337.3h0M514.3 336.5h0M514.3 332.5h0M514.3 331.5h0M514.3 331.1h0M514.5 330.3h0M514.6 328.0h0M514.8 326.4h0M514.8 326.3h0M515.0 322.0h0M514.8 321.6h0M514.9 320.7h0" stroke="#1a3a2a" stroke-width="1.15" stroke-linecap="round" fill="none"/>
<path d="M311.2 320.8h0M313.2 320.9h0M313.8 321.1h0M314.4 321.0h0M315.6 321.1h0M321.4 323.5h0M322.3 323.5h0M323.0 323.3h0M323.7 323.6h0M324.5 323.3h0M327.7 325.1h0M333.1 328.1h0M333.5 326.8h0M334.6 327.5h0M335.2 328.3h0M336.2 328.1h0M341.7 331.1h0M345.0 331.6h0M346.0 331.3h0M346.7 332.6h0M347.6 332.9h0M348.6 332.5h0M353.4 334.2h0M354.3 336.0h0M354.7 334.8h0M355.8 336.5h0M358.0 336.0h0M358.8 336.6h0M359.7 336.5h0M366.0 338.8h0M366.8 340.6h0M367.8 340.4h0M370.9 339.8h0M375.3 341.1h0M376.2 341.5h0M377.2 341.6h0M377.7 343.2h0M378.6 342.9h0M382.5 344.9h0M383.5 344.7h0M384.4 346.7h0M388.4 345.5h0M389.0 346.7h0M389.7 347.2h0M390.7 345.8h0M394.6 348.0h0M395.1 347.6h0M396.2 348.6h0M396.9 348.2h0M400.3 351.5h0M401.3 350.8h0M402.0 351.9h0M402.7 351.1h0M405.5 351.9h0M406.2 352.6h0M407.2 353.1h0M408.2 353.1h0M412.4 356.4h0M413.5 356.4h0M414.3 356.8h0M415.0 355.4h0M416.2 356.2h0M421.5 359.2h0M424.3 359.1h0M425.0 360.3h0M425.8 360.1h0M426.3 360.0h0M432.1 360.7h0M432.9 361.2h0M433.8 361.7h0M434.9 363.0h0M440.4 366.0h0M441.5 365.8h0M446.0 366.7h0M446.9 366.1h0M452.5 368.9h0M453.5 369.0h0M454.5 370.5h0M458.9 371.6h0M459.9 372.9h0M460.6 373.1h0M465.4 374.7h0M466.7 373.6h0M467.3 374.8h0M473.7 377.3h0M474.5 379.0h0M475.5 378.7h0M476.6 377.9h0M482.2 380.4h0M484.6 380.8h0M485.6 382.3h0M486.2 381.5h0M487.0 382.1h0M492.9 385.0h0M494.0 385.7h0M494.8 384.5h0M495.8 386.5h0M496.5 385.2h0M499.3 386.7h0M500.2 386.8h0M500.9 385.4h0M502.0 385.2h0M503.8 384.1h0M504.8 383.0h0M505.3 380.8h0M505.5 381.5h0M506.4 378.1h0M506.8 378.4h0M507.1 377.6h0M507.1 375.7h0M507.3 374.3h0M508.1 372.1h0M508.1 372.0h0M508.4 371.2h0M508.5 369.6h0M508.7 368.0h0M509.4 368.6h0M509.5 366.2h0M509.4 365.4h0M509.6 365.5h0M509.7 364.8h0M510.4 361.0h0M510.6 359.1h0M510.8 359.2h0M510.8 359.0h0M511.0 355.9h0M511.1 355.8h0M511.2 353.6h0M511.6 354.5h0M511.4 351.7h0M512.1 349.5h0M511.8 349.8h0M512.1 348.2h0M512.4 347.1h0M512.3 346.6h0M512.7 343.1h0M512.8 343.3h0M512.7 342.9h0M513.1 341.1h0M512.9 341.0h0M513.4 339.0h0M513.5 336.7h0M513.4 335.5h0M513.6 335.7h0M513.6 335.5h0M513.9 333.7h0M513.8 331.7h0M513.9 331.4h0M514.2 330.1h0M514.2 330.7h0M514.4 329.6h0M514.2 327.4h0M514.6 327.3h0M514.4 325.0h0M514.8 320.7h0M514.7 321.6h0" stroke="#1c1c1c" stroke-width="2.3" stroke-linecap="round" fill="none"/>
<path d="M311.2 320.8h0M313.2 320.9h0M313.8 321.1h0M314.4 321.0h0M315.6 321.1h0M321.4 323.5h0M322.3 323.5h0M323.0 323.3h0M323.7 323.6h0M324.5 323.3h0M327.7 325.1h0M333.1 328.1h0M333.5 326.8h0M334.6 327.5h0M335.2 328.3h0M336.2 328.1h0M341.7 331.1h0M345.0 331.6h0M346.0 331.3h0M346.7 332.6h0M347.6 332.9h0M348.6 332.5h0M353.4 334.2h0M354.3 336.0h0M354.7 334.8h0M355.8 336.5h0M358.0 336.0h0M358.8 336.6h0M359.7 336.5h0M366.0 338.8h0M366.8 340.6h0M367.8 340.4h0M370.9 339.8h0M375.3 341.1h0M376.2 341.5h0M377.2 341.6h0M377.7 343.2h0M378.6 342.9h0M382.5 344.9h0M383.5 344.7h0M384.4 346.7h0M388.4 345.5h0M389.0 346.7h0M389.7 347.2h0M390.7 345.8h0M394.6 348.0h0M395.1 347.6h0M396.2 348.6h0M396.9 348.2h0M400.3 351.5h0M401.3 350.8h0M402.0 351.9h0M402.7 351.1h0M405.5 351.9h0M406.2 352.6h0M407.2 353.1h0M408.2 353.1h0M412.4 356.4h0M413.5 356.4h0M414.3 356.8h0M415.0 355.4h0M416.2 356.2h0M421.5 359.2h0M424.3 359.1h0M425.0 360.3h0M425.8 360.1h0M426.3 360.0h0M432.1 360.7h0M432.9 361.2h0M433.8 361.7h0M434.9 363.0h0M440.4 366.0h0M441.5 365.8h0M446.0 366.7h0M446.9 366.1h0M452.5 368.9h0M453.5 369.0h0M454.5 370.5h0M458.9 371.6h0M459.9 372.9h0M460.6 373.1h0M465.4 374.7h0M466.7 373.6h0M467.3 374.8h0M473.7 377.3h0M474.5 379.0h0M475.5 378.7h0M476.6 377.9h0M482.2 380.4h0M484.6 380.8h0M485.6 382.3h0M486.2 381.5h0M487.0 382.1h0M492.9 385.0h0M494.0 385.7h0M494.8 384.5h0M495.8 386.5h0M496.5 385.2h0M499.3 386.7h0M500.2 386.8h0M500.9 385.4h0M502.0 385.2h0M503.8 384.1h0M504.8 383.0h0M505.3 380.8h0M505.5 381.5h0M506.4 378.1h0M506.8 378.4h0M507.1 377.6h0M507.1 375.7h0M507.3 374.3h0M508.1 372.1h0M508.1 372.0h0M508.4 371.2h0M508.5 369.6h0M508.7 368.0h0M509.4 368.6h0M509.5 366.2h0M509.4 365.4h0M509.6 365.5h0M509.7 364.8h0M510.4 361.0h0M510.6 359.1h0M510.8 359.2h0M510.8 359.0h0M511.0 355.9h0M511.1 355.8h0M511.2 353.6h0M511.6 354.5h0M511.4 351.7h0M512.1 349.5h0M511.8 349.8h0M512.1 348.2h0M512.4 347.1h0M512.3 346.6h0M512.7 343.1h0M512.8 343.3h0M512.7 342.9h0M513.1 341.1h0M512.9 341.0h0M513.4 339.0h0M513.5 336.7h0M513.4 335.5h0M513.6 335.7h0M513.6 335.5h0M513.9 333.7h0M513.8 331.7h0M513.9 331.4h0M514.2 330.1h0M514.2 330.7h0M514.4 329.6h0M514.2 327.4h0M514.6 327.3h0M514.4 325.0h0M514.8 320.7h0M514.7 321.6h0" stroke="#3a2a3a" stroke-width="1.15" stroke-linecap="round" fill="none"/>
<path d="M311.1 320.1h0M312.2 319.3h0M312.8 319.2h0M313.5 318.5h0M319.8 316.5h0M320.4 314.4h0M321.4 314.8h0M325.7 315.5h0M328.3 316.7h0M333.8 318.6h0M334.5 318.6h0M335.4 318.1h0M336.1 319.0h0M337.3 320.3h0M343.3 321.1h0M344.4 322.8h0M345.1 321.3h0M346.0 323.4h0M346.6 321.8h0M352.0 324.1h0M353.0 325.0h0M353.8 324.7h0M354.8 324.3h0M360.0 327.1h0M360.7 326.8h0M361.1 327.6h0M361.9 328.2h0M362.9 327.5h0M369.1 330.7h0M369.8 330.6h0M372.9 331.7h0M373.4 332.3h0M374.5 332.8h0M375.4 333.5h0M379.8 333.4h0M380.7 333.0h0M386.8 335.1h0M387.3 335.6h0M388.0 336.5h0M389.0 336.9h0M393.0 338.1h0M393.8 337.6h0M394.8 338.3h0M395.7 338.7h0M396.7 340.2h0M400.2 342.9h0M401.1 341.4h0M405.7 343.6h0M406.5 343.2h0M407.3 342.7h0M408.2 342.6h0M409.1 344.3h0M413.9 344.7h0M414.5 345.7h0M415.4 346.7h0M422.0 349.0h0M422.8 347.9h0M423.8 349.7h0M424.6 349.2h0M427.3 350.9h0M428.5 350.7h0M429.1 351.4h0M429.7 351.5h0M430.8 352.4h0M437.2 353.6h0M437.8 354.3h0M442.9 355.9h0M443.8 356.4h0M444.8 356.7h0M447.2 355.8h0M447.8 356.6h0M450.2 358.9h0M451.0 358.0h0M451.9 358.7h0M452.6 358.1h0M457.2 360.1h0M458.2 360.6h0M459.2 361.0h0M459.7 361.3h0M464.1 363.2h0M470.5 364.7h0M471.4 366.1h0M472.6 365.2h0M474.3 367.1h0M475.2 367.9h0M475.9 367.4h0M479.9 367.8h0M480.5 368.2h0M481.3 370.0h0M482.3 370.3h0M483.1 369.7h0M485.3 371.3h0M486.1 372.0h0M486.8 371.8h0M491.8 373.5h0M492.9 374.2h0M493.6 374.9h0M498.4 374.0h0M499.2 375.5h0M500.2 374.8h0M501.7 373.4h0M502.4 372.8h0M502.9 372.2h0M504.0 368.9h0M504.3 369.2h0M504.9 368.0h0M505.3 367.3h0M505.5 367.0h0M506.3 366.5h0M506.7 363.5h0M507.3 361.4h0M507.8 360.5h0M507.9 359.9h0M508.7 358.8h0M508.8 357.3h0M509.2 356.1h0M509.3 355.1h0M509.4 354.5h0M509.7 352.0h0M510.2 350.6h0M510.5 350.4h0M510.7 348.1h0M511.2 347.2h0M511.3 345.3h0M511.7 342.7h0M511.9 341.5h0M512.1 340.1h0M512.4 338.7h0M512.4 338.7h0M512.4 338.0h0M512.9 333.8h0M513.2 333.6h0M513.8 331.5h0M513.6 330.1h0M513.7 328.4h0M514.0 326.2h0M514.1 326.4h0M514.5 323.3h0M514.6 323.1h0M514.7 322.5h0M514.9 321.6h0" stroke="#1c1c1c" stroke-width="2.3" stroke-linecap="round" fill="none"/>
<path d="M311.1 320.1h0M312.2 319.3h0M312.8 319.2h0M313.5 318.5h0M319.8 316.5h0M320.4 314.4h0M321.4 314.8h0M325.7 315.5h0M328.3 316.7h0M333.8 318.6h0M334.5 318.6h0M335.4 318.1h0M336.1 319.0h0M337.3 320.3h0M343.3 321.1h0M344.4 322.8h0M345.1 321.3h0M346.0 323.4h0M346.6 321.8h0M352.0 324.1h0M353.0 325.0h0M353.8 324.7h0M354.8 324.3h0M360.0 327.1h0M360.7 326.8h0M361.1 327.6h0M361.9 328.2h0M362.9 327.5h0M369.1 330.7h0M369.8 330.6h0M372.9 331.7h0M373.4 332.3h0M374.5 332.8h0M375.4 333.5h0M379.8 333.4h0M380.7 333.0h0M386.8 335.1h0M387.3 335.6h0M388.0 336.5h0M389.0 336.9h0M393.0 338.1h0M393.8 337.6h0M394.8 338.3h0M395.7 338.7h0M396.7 340.2h0M400.2 342.9h0M401.1 341.4h0M405.7 343.6h0M406.5 343.2h0M407.3 342.7h0M408.2 342.6h0M409.1 344.3h0M413.9 344.7h0M414.5 345.7h0M415.4 346.7h0M422.0 349.0h0M422.8 347.9h0M423.8 349.7h0M424.6 349.2h0M427.3 350.9h0M428.5 350.7h0M429.1 351.4h0M429.7 351.5h0M430.8 352.4h0M437.2 353.6h0M437.8 354.3h0M442.9 355.9h0M443.8 356.4h0M444.8 356.7h0M447.2 355.8h0M447.8 356.6h0M450.2 358.9h0M451.0 358.0h0M451.9 358.7h0M452.6 358.1h0M457.2 360.1h0M458.2 360.6h0M459.2 361.0h0M459.7 361.3h0M464.1 363.2h0M470.5 364.7h0M471.4 366.1h0M472.6 365.2h0M474.3 367.1h0M475.2 367.9h0M475.9 367.4h0M479.9 367.8h0M480.5 368.2h0M481.3 370.0h0M482.3 370.3h0M483.1 369.7h0M485.3 371.3h0M486.1 372.0h0M486.8 371.8h0M491.8 373.5h0M492.9 374.2h0M493.6 374.9h0M498.4 374.0h0M499.2 375.5h0M500.2 374.8h0M501.7 373.4h0M502.4 372.8h0M502.9 372.2h0M504.0 368.9h0M504.3 369.2h0M504.9 368.0h0M505.3 367.3h0M505.5 367.0h0M506.3 366.5h0M506.7 363.5h0M507.3 361.4h0M507.8 360.5h0M507.9 359.9h0M508.7 358.8h0M508.8 357.3h0M509.2 356.1h0M509.3 355.1h0M509.4 354.5h0M509.7 352.0h0M510.2 350.6h0M510.5 350.4h0M510.7 348.1h0M511.2 347.2h0M511.3 345.3h0M511.7 342.7h0M511.9 341.5h0M512.1 340.1h0M512.4 338.7h0M512.4 338.7h0M512.4 338.0h0M512.9 333.8h0M513.2 333.6h0M513.8 331.5h0M513.6 330.1h0M513.7 328.4h0M514.0 326.2h0M514.1 326.4h0M514.5 323.3h0M514.6 323.1h0M514.7 322.5h0M514.9 321.6h0" stroke="#d0c040" stroke-width="1.15" stroke-linecap="round" fill="none"/>
<path d="M311.2 318.9h0M312.2 317.9h0M312.9 318.4h0M314.0 317.7h0M316.8 317.0h0M318.0 315.7h0M318.7 316.2h0M323.6 315.5h0M327.3 317.1h0M332.2 317.9h0M333.2 318.2h0M333.9 317.6h0M334.9 319.5h0M338.7 321.3h0M339.5 321.6h0M340.3 321.3h0M341.2 322.1h0M342.1 321.6h0M347.6 324.4h0M348.4 324.0h0M349.0 323.5h0M350.4 324.9h0M354.8 326.7h0M360.5 328.6h0M361.5 328.1h0M362.3 328.5h0M363.2 329.7h0M368.7 330.9h0M369.3 332.1h0M370.3 330.8h0M371.3 332.7h0M376.6 334.5h0M377.7 334.0h0M378.7 334.7h0M379.5 334.5h0M385.0 336.4h0M385.7 336.2h0M390.9 340.1h0M391.4 339.6h0M392.6 340.5h0M395.9 340.3h0M398.7 342.1h0M399.5 341.7h0M400.1 342.1h0M401.1 342.5h0M402.2 343.0h0M406.4 345.6h0M407.1 344.7h0M409.8 346.8h0M410.4 346.8h0M411.6 347.2h0M412.5 346.9h0M417.2 347.7h0M418.2 348.2h0M418.8 349.0h0M423.2 351.0h0M424.0 350.5h0M425.0 351.3h0M425.6 352.0h0M426.8 352.4h0M429.6 352.4h0M430.5 351.8h0M431.4 352.4h0M432.4 352.5h0M434.2 353.6h0M435.2 354.2h0M439.9 356.6h0M440.6 356.3h0M441.6 355.9h0M443.1 356.7h0M444.0 357.3h0M445.1 358.0h0M448.2 358.1h0M452.2 359.9h0M452.9 360.3h0M453.8 361.5h0M459.0 362.7h0M463.5 363.2h0M464.2 364.1h0M465.3 364.7h0M466.1 365.2h0M467.0 364.3h0M470.9 366.4h0M471.6 365.8h0M472.5 367.0h0M473.4 367.0h0M479.7 368.9h0M480.6 369.6h0M481.5 370.4h0M482.4 370.3h0M483.3 371.1h0M487.0 371.0h0M489.0 372.4h0M489.9 373.0h0M490.7 372.4h0M491.7 372.6h0M496.9 375.5h0M497.7 376.0h0M499.8 372.2h0M500.7 371.6h0M501.3 370.6h0M502.6 371.1h0M502.9 370.2h0M503.4 369.1h0M504.4 368.0h0M504.7 366.6h0M505.2 365.6h0M506.0 362.7h0M506.3 362.0h0M506.9 362.0h0M507.0 360.3h0M507.1 359.7h0M507.7 357.1h0M508.2 355.9h0M508.4 356.2h0M508.5 354.7h0M509.2 353.4h0M509.4 351.9h0M509.7 351.9h0M509.7 350.2h0M509.9 350.0h0M510.1 346.5h0M510.9 346.1h0M510.7 344.8h0M511.3 344.0h0M511.1 342.2h0M511.4 341.7h0M511.5 341.6h0M511.8 340.5h0M511.9 340.1h0M512.3 338.0h0M512.9 335.5h0M513.1 331.0h0M513.4 329.7h0M513.5 330.7h0M513.5 329.8h0M514.1 328.0h0M514.1 326.3h0M514.5 324.1h0M514.4 323.5h0M514.9 321.8h0M514.9 321.9h0" stroke="#1c1c1c" stroke-width="2.3" stroke-linecap="round" fill="none"/>
<path d="M311.2 318.9h0M312.2 317.9h0M312.9 318.4h0M314.0 317.7h0M316.8 317.0h0M318.0 315.7h0M318.7 316.2h0M323.6 315.5h0M327.3 317.1h0M332.2 317.9h0M333.2 318.2h0M333.9 317.6h0M334.9 319.5h0M338.7 321.3h0M339.5 321.6h0M340.3 321.3h0M341.2 322.1h0M342.1 321.6h0M347.6 324.4h0M348.4 324.0h0M349.0 323.5h0M350.4 324.9h0M354.8 326.7h0M360.5 328.6h0M361.5 328.1h0M362.3 328.5h0M363.2 329.7h0M368.7 330.9h0M369.3 332.1h0M370.3 330.8h0M371.3 332.7h0M376.6 334.5h0M377.7 334.0h0M378.7 334.7h0M379.5 334.5h0M385.0 336.4h0M385.7 336.2h0M390.9 340.1h0M391.4 339.6h0M392.6 340.5h0M395.9 340.3h0M398.7 342.1h0M399.5 341.7h0M400.1 342.1h0M401.1 342.5h0M402.2 343.0h0M406.4 345.6h0M407.1 344.7h0M409.8 346.8h0M410.4 346.8h0M411.6 347.2h0M412.5 346.9h0M417.2 347.7h0M418.2 348.2h0M418.8 349.0h0M423.2 351.0h0M424.0 350.5h0M425.0 351.3h0M425.6 352.0h0M426.8 352.4h0M429.6 352.4h0M430.5 351.8h0M431.4 352.4h0M432.4 352.5h0M434.2 353.6h0M435.2 354.2h0M439.9 356.6h0M440.6 356.3h0M441.6 355.9h0M443.1 356.7h0M444.0 357.3h0M445.1 358.0h0M448.2 358.1h0M452.2 359.9h0M452.9 360.3h0M453.8 361.5h0M459.0 362.7h0M463.5 363.2h0M464.2 364.1h0M465.3 364.7h0M466.1 365.2h0M467.0 364.3h0M470.9 366.4h0M471.6 365.8h0M472.5 367.0h0M473.4 367.0h0M479.7 368.9h0M480.6 369.6h0M481.5 370.4h0M482.4 370.3h0M483.3 371.1h0M487.0 371.0h0M489.0 372.4h0M489.9 373.0h0M490.7 372.4h0M491.7 372.6h0M496.9 375.5h0M497.7 376.0h0M499.8 372.2h0M500.7 371.6h0M501.3 370.6h0M502.6 371.1h0M502.9 370.2h0M503.4 369.1h0M504.4 368.0h0M504.7 366.6h0M505.2 365.6h0M506.0 362.7h0M506.3 362.0h0M506.9 362.0h0M507.0 360.3h0M507.1 359.7h0M507.7 357.1h0M508.2 355.9h0M508.4 356.2h0M508.5 354.7h0M509.2 353.4h0M509.4 351.9h0M509.7 351.9h0M509.7 350.2h0M509.9 350.0h0M510.1 346.5h0M510.9 346.1h0M510.7 344.8h0M511.3 344.0h0M511.1 342.2h0M511.4 341.7h0M511.5 341.6h0M511.8 340.5h0M511.9 340.1h0M512.3 338.0h0M512.9 335.5h0M513.1 331.0h0M513.4 329.7h0M513.5 330.7h0M513.5 329.8h0M514.1 328.0h0M514.1 326.3h0M514.5 324.1h0M514.4 323.5h0M514.9 321.8h0M514.9 321.9h0" stroke="#60b0c8" stroke-width="1.15" stroke-linecap="round" fill="none"/>
<path d="M310.2 318.5h0M310.7 317.5h0M311.1 316.3h0M311.5 315.8h0M311.8 315.2h0M312.0 314.5h0M312.3 313.2h0M313.3 311.6h0M313.5 310.7h0M313.8 309.9h0M314.2 308.9h0M314.6 307.9h0M315.3 306.8h0M315.4 305.7h0M316.4 305.2h0M316.6 303.3h0M317.1 302.5h0M317.4 302.8h0M318.2 300.9h0M318.4 300.8h0M319.1 299.3h0M319.7 298.7h0M319.8 297.8h0M320.9 296.5h0M321.3 294.8h0M322.2 294.5h0M322.4 293.9h0M323.1 292.8h0M324.0 291.6h0M324.9 290.4h0M325.4 289.2h0M325.8 289.0h0M327.3 287.2h0M328.4 285.7h0M329.2 284.9h0M329.8 283.7h0M330.4 283.3h0M331.0 282.8h0M332.4 281.4h0M332.9 281.2h0M333.9 279.6h0M334.6 279.2h0M340.2 276.0h0M341.1 275.4h0M341.9 275.5h0M347.0 274.2h0M347.9 274.5h0M349.2 274.5h0M350.1 274.3h0M353.9 274.9h0M354.4 275.1h0M355.1 274.6h0M355.9 275.5h0M357.9 275.5h0M358.8 276.2h0M359.4 276.2h0M362.9 276.7h0M363.8 276.4h0M364.9 276.9h0M365.8 277.1h0M369.4 278.2h0M370.6 279.0h0M371.5 279.4h0M372.2 279.2h0M375.3 280.2h0M376.0 280.6h0M377.1 280.4h0M377.6 280.2h0M378.7 280.8h0M385.0 283.0h0M387.4 284.0h0M388.2 284.6h0M389.0 285.0h0M389.8 284.1h0M396.6 287.2h0M397.3 287.6h0M398.1 287.5h0M399.0 287.6h0M399.6 288.9h0M404.7 290.3h0M405.5 290.0h0M406.0 290.6h0M406.9 290.6h0M413.6 292.9h0M414.4 293.8h0M420.2 295.7h0M421.1 296.8h0M422.1 297.0h0M422.8 297.1h0M423.9 296.8h0M430.0 300.2h0M430.9 300.3h0M431.8 300.9h0M437.9 302.8h0M443.0 304.6h0M443.6 304.6h0M449.8 307.4h0M450.5 307.7h0M451.4 308.0h0M452.1 307.4h0M458.2 310.4h0M459.2 310.8h0M466.1 311.9h0M467.1 312.1h0M467.8 313.3h0M468.6 312.8h0M471.9 314.6h0M472.8 314.9h0M473.6 314.5h0M474.4 314.8h0M475.1 314.7h0M481.1 316.8h0M486.2 318.0h0M489.7 318.9h0M490.4 319.6h0M491.4 319.8h0M492.3 320.4h0M494.2 321.2h0M495.2 321.0h0M496.1 321.2h0M501.1 322.4h0M501.9 323.5h0M503.8 323.6h0M504.6 324.2h0M505.4 323.4h0M506.0 323.4h0M507.0 323.8h0M509.5 322.5h0M510.5 322.5h0M513.0 321.0h0" stroke="#1c1c1c" stroke-width="2.3" stroke-linecap="round" fill="none"/>
<path d="M310.2 318.5h0M310.7 317.5h0M311.1 316.3h0M311.5 315.8h0M311.8 315.2h0M312.0 314.5h0M312.3 313.2h0M313.3 311.6h0M313.5 310.7h0M313.8 309.9h0M314.2 308.9h0M314.6 307.9h0M315.3 306.8h0M315.4 305.7h0M316.4 305.2h0M316.6 303.3h0M317.1 302.5h0M317.4 302.8h0M318.2 300.9h0M318.4 300.8h0M319.1 299.3h0M319.7 298.7h0M319.8 297.8h0M320.9 296.5h0M321.3 294.8h0M322.2 294.5h0M322.4 293.9h0M323.1 292.8h0M324.0 291.6h0M324.9 290.4h0M325.4 289.2h0M325.8 289.0h0M327.3 287.2h0M328.4 285.7h0M329.2 284.9h0M329.8 283.7h0M330.4 283.3h0M331.0 282.8h0M332.4 281.4h0M332.9 281.2h0M333.9 279.6h0M334.6 279.2h0M340.2 276.0h0M341.1 275.4h0M341.9 275.5h0M347.0 274.2h0M347.9 274.5h0M349.2 274.5h0M350.1 274.3h0M353.9 274.9h0M354.4 275.1h0M355.1 274.6h0M355.9 275.5h0M357.9 275.5h0M358.8 276.2h0M359.4 276.2h0M362.9 276.7h0M363.8 276.4h0M364.9 276.9h0M365.8 277.1h0M369.4 278.2h0M370.6 279.0h0M371.5 279.4h0M372.2 279.2h0M375.3 280.2h0M376.0 280.6h0M377.1 280.4h0M377.6 280.2h0M378.7 280.8h0M385.0 283.0h0M387.4 284.0h0M388.2 284.6h0M389.0 285.0h0M389.8 284.1h0M396.6 287.2h0M397.3 287.6h0M398.1 287.5h0M399.0 287.6h0M399.6 288.9h0M404.7 290.3h0M405.5 290.0h0M406.0 290.6h0M406.9 290.6h0M413.6 292.9h0M414.4 293.8h0M420.2 295.7h0M421.1 296.8h0M422.1 297.0h0M422.8 297.1h0M423.9 296.8h0M430.0 300.2h0M430.9 300.3h0M431.8 300.9h0M437.9 302.8h0M443.0 304.6h0M443.6 304.6h0M449.8 307.4h0M450.5 307.7h0M451.4 308.0h0M452.1 307.4h0M458.2 310.4h0M459.2 310.8h0M466.1 311.9h0M467.1 312.1h0M467.8 313.3h0M468.6 312.8h0M471.9 314.6h0M472.8 314.9h0M473.6 314.5h0M474.4 314.8h0M475.1 314.7h0M481.1 316.8h0M486.2 318.0h0M489.7 318.9h0M490.4 319.6h0M491.4 319.8h0M492.3 320.4h0M494.2 321.2h0M495.2 321.0h0M496.1 321.2h0M501.1 322.4h0M501.9 323.5h0M503.8 323.6h0M504.6 324.2h0M505.4 323.4h0M506.0 323.4h0M507.0 323.8h0M509.5 322.5h0M510.5 322.5h0M513.0 321.0h0" stroke="#6a3a1a" stroke-width="1.15" stroke-linecap="round" fill="none"/>
<path d="M310.3 318.4h0M310.5 317.3h0M310.7 316.7h0M310.9 315.1h0M311.5 313.7h0M311.5 313.5h0M311.9 312.9h0M312.1 311.8h0M312.3 311.2h0M312.8 309.1h0M313.0 309.3h0M313.4 307.5h0M313.5 306.7h0M314.0 305.9h0M314.5 305.1h0M314.7 303.5h0M315.5 302.1h0M315.8 300.5h0M316.2 299.2h0M316.4 299.0h0M316.7 297.8h0M317.5 296.7h0M317.8 295.5h0M318.1 295.0h0M319.3 292.6h0M320.1 290.4h0M320.6 290.0h0M321.1 289.5h0M321.6 288.7h0M322.5 286.1h0M323.0 285.9h0M323.8 284.7h0M324.1 284.3h0M324.4 284.3h0M325.1 282.8h0M325.8 282.1h0M326.7 281.4h0M327.1 280.4h0M328.0 279.5h0M328.6 279.5h0M330.0 278.1h0M330.3 278.6h0M331.0 277.3h0M332.2 277.1h0M334.0 276.7h0M335.0 276.2h0M339.0 275.4h0M339.9 275.6h0M341.5 275.6h0M342.6 274.5h0M343.4 275.4h0M349.8 276.1h0M350.5 276.5h0M357.4 277.2h0M358.5 277.8h0M362.4 278.3h0M365.6 278.8h0M366.6 278.3h0M372.4 279.7h0M373.3 279.3h0M374.2 279.9h0M377.7 280.1h0M384.3 283.1h0M387.0 283.4h0M387.9 284.2h0M388.7 284.6h0M389.4 285.1h0M390.3 285.3h0M395.5 287.3h0M396.4 286.8h0M402.8 290.1h0M403.8 290.1h0M404.6 290.9h0M405.5 290.8h0M406.2 291.3h0M408.2 291.9h0M409.0 292.7h0M409.8 293.0h0M410.8 293.0h0M415.9 294.3h0M417.0 295.6h0M417.7 295.9h0M422.2 297.1h0M423.0 297.9h0M424.1 297.4h0M429.9 300.5h0M430.8 300.4h0M435.7 302.7h0M442.0 305.5h0M442.7 305.5h0M443.8 305.8h0M444.6 306.3h0M446.3 306.2h0M451.4 308.1h0M455.0 310.3h0M455.9 310.7h0M461.9 311.5h0M462.5 312.8h0M463.7 312.0h0M466.9 313.6h0M469.6 314.8h0M476.0 316.1h0M476.8 316.9h0M477.7 316.9h0M478.5 317.6h0M479.5 316.8h0M486.5 319.1h0M487.5 319.4h0M493.9 321.9h0M494.7 321.7h0M495.5 322.5h0M496.3 321.9h0M499.0 323.7h0M503.6 325.0h0M504.5 325.0h0M505.2 324.4h0M506.3 325.0h0M511.8 322.2h0M512.7 321.8h0M513.3 321.3h0" stroke="#1c1c1c" stroke-width="2.3" stroke-linecap="round" fill="none"/>
<path d="M310.3 318.4h0M310.5 317.3h0M310.7 316.7h0M310.9 315.1h0M311.5 313.7h0M311.5 313.5h0M311.9 312.9h0M312.1 311.8h0M312.3 311.2h0M312.8 309.1h0M313.0 309.3h0M313.4 307.5h0M313.5 306.7h0M314.0 305.9h0M314.5 305.1h0M314.7 303.5h0M315.5 302.1h0M315.8 300.5h0M316.2 299.2h0M316.4 299.0h0M316.7 297.8h0M317.5 296.7h0M317.8 295.5h0M318.1 295.0h0M319.3 292.6h0M320.1 290.4h0M320.6 290.0h0M321.1 289.5h0M321.6 288.7h0M322.5 286.1h0M323.0 285.9h0M323.8 284.7h0M324.1 284.3h0M324.4 284.3h0M325.1 282.8h0M325.8 282.1h0M326.7 281.4h0M327.1 280.4h0M328.0 279.5h0M328.6 279.5h0M330.0 278.1h0M330.3 278.6h0M331.0 277.3h0M332.2 277.1h0M334.0 276.7h0M335.0 276.2h0M339.0 275.4h0M339.9 275.6h0M341.5 275.6h0M342.6 274.5h0M343.4 275.4h0M349.8 276.1h0M350.5 276.5h0M357.4 277.2h0M358.5 277.8h0M362.4 278.3h0M365.6 278.8h0M366.6 278.3h0M372.4 279.7h0M373.3 279.3h0M374.2 279.9h0M377.7 280.1h0M384.3 283.1h0M387.0 283.4h0M387.9 284.2h0M388.7 284.6h0M389.4 285.1h0M390.3 285.3h0M395.5 287.3h0M396.4 286.8h0M402.8 290.1h0M403.8 290.1h0M404.6 290.9h0M405.5 290.8h0M406.2 291.3h0M408.2 291.9h0M409.0 292.7h0M409.8 293.0h0M410.8 293.0h0M415.9 294.3h0M417.0 295.6h0M417.7 295.9h0M422.2 297.1h0M423.0 297.9h0M424.1 297.4h0M429.9 300.5h0M430.8 300.4h0M435.7 302.7h0M442.0 305.5h0M442.7 305.5h0M443.8 305.8h0M444.6 306.3h0M446.3 306.2h0M451.4 308.1h0M455.0 310.3h0M455.9 310.7h0M461.9 311.5h0M462.5 312.8h0M463.7 312.0h0M466.9 313.6h0M469.6 314.8h0M476.0 316.1h0M476.8 316.9h0M477.7 316.9h0M478.5 317.6h0M479.5 316.8h0M486.5 319.1h0M487.5 319.4h0M493.9 321.9h0M494.7 321.7h0M495.5 322.5h0M496.3 321.9h0M499.0 323.7h0M503.6 325.0h0M504.5 325.0h0M505.2 324.4h0M506.3 325.0h0M511.8 322.2h0M512.7 321.8h0M513.3 321.3h0" stroke="#1a5a3a" stroke-width="1.15" stroke-linecap="round" fill="none"/>
<path d="M310.1 318.0h0M310.4 317.3h0M310.7 316.3h0M310.7 315.3h0M311.0 314.7h0M311.4 312.5h0M311.3 311.5h0M311.6 310.5h0M312.0 309.7h0M312.2 308.6h0M312.6 307.7h0M312.8 306.6h0M313.1 305.6h0M313.5 302.7h0M313.8 301.9h0M314.1 301.0h0M314.1 301.1h0M314.5 299.3h0M314.9 299.1h0M315.2 297.0h0M315.7 295.5h0M316.0 293.7h0M316.6 292.6h0M316.9 291.5h0M317.2 290.4h0M318.1 289.4h0M318.2 289.1h0M319.2 286.9h0M320.0 284.1h0M320.4 283.7h0M321.1 282.8h0M322.1 280.6h0M322.5 280.7h0M323.2 280.0h0M323.5 279.2h0M324.4 277.6h0M325.6 276.1h0M326.4 275.2h0M327.1 275.1h0M327.5 275.0h0M328.4 274.5h0M329.5 274.0h0M330.4 273.4h0M332.2 273.1h0M333.0 272.1h0M334.0 272.3h0M335.3 272.3h0M336.6 272.1h0M337.9 271.6h0M343.8 272.1h0M344.7 272.1h0M346.5 273.2h0M347.2 272.7h0M348.3 272.8h0M349.0 273.5h0M353.7 273.8h0M354.8 273.8h0M357.3 275.0h0M358.0 275.0h0M358.7 274.9h0M363.3 275.5h0M364.2 275.6h0M366.3 277.0h0M367.1 276.6h0M367.9 276.7h0M368.9 276.4h0M369.4 277.5h0M374.5 278.1h0M375.8 278.5h0M376.4 278.9h0M380.4 279.1h0M380.8 279.5h0M381.8 279.0h0M382.5 279.6h0M386.9 281.1h0M388.3 281.9h0M390.1 283.1h0M390.9 283.4h0M391.6 282.7h0M392.1 283.2h0M393.8 284.4h0M400.2 287.1h0M401.1 287.1h0M402.0 287.5h0M402.6 287.6h0M403.8 288.2h0M407.9 289.5h0M408.5 290.0h0M409.5 290.1h0M410.3 289.8h0M411.2 290.8h0M414.2 291.6h0M415.3 292.1h0M418.9 293.6h0M423.8 295.6h0M425.0 296.1h0M426.0 296.6h0M426.8 296.1h0M427.6 297.4h0M434.8 299.7h0M435.3 299.6h0M436.0 300.3h0M438.8 300.9h0M439.5 301.8h0M440.6 301.5h0M445.8 303.3h0M448.8 304.6h0M449.7 305.3h0M453.9 307.0h0M455.0 306.5h0M456.1 306.7h0M456.9 307.5h0M457.7 307.5h0M462.8 308.9h0M463.3 309.9h0M464.3 310.2h0M465.2 310.8h0M468.9 311.6h0M470.0 311.6h0M470.9 311.6h0M471.7 312.0h0M472.9 312.7h0M478.1 314.1h0M479.1 315.2h0M479.6 314.4h0M480.8 315.8h0M481.7 315.1h0M483.0 316.3h0M488.8 317.4h0M490.1 317.9h0M491.0 318.9h0M491.4 318.2h0M495.0 320.0h0M495.9 320.2h0M498.7 321.1h0M504.9 322.6h0M505.7 323.4h0M506.4 323.0h0M507.4 322.2h0M513.3 320.9h0M514.5 320.5h0" stroke="#1c1c1c" stroke-width="2.3" stroke-linecap="round" fill="none"/>
<path d="M310.1 318.0h0M310.4 317.3h0M310.7 316.3h0M310.7 315.3h0M311.0 314.7h0M311.4 312.5h0M311.3 311.5h0M311.6 310.5h0M312.0 309.7h0M312.2 308.6h0M312.6 307.7h0M312.8 306.6h0M313.1 305.6h0M313.5 302.7h0M313.8 301.9h0M314.1 301.0h0M314.1 301.1h0M314.5 299.3h0M314.9 299.1h0M315.2 297.0h0M315.7 295.5h0M316.0 293.7h0M316.6 292.6h0M316.9 291.5h0M317.2 290.4h0M318.1 289.4h0M318.2 289.1h0M319.2 286.9h0M320.0 284.1h0M320.4 283.7h0M321.1 282.8h0M322.1 280.6h0M322.5 280.7h0M323.2 280.0h0M323.5 279.2h0M324.4 277.6h0M325.6 276.1h0M326.4 275.2h0M327.1 275.1h0M327.5 275.0h0M328.4 274.5h0M329.5 274.0h0M330.4 273.4h0M332.2 273.1h0M333.0 272.1h0M334.0 272.3h0M335.3 272.3h0M336.6 272.1h0M337.9 271.6h0M343.8 272.1h0M344.7 272.1h0M346.5 273.2h0M347.2 272.7h0M348.3 272.8h0M349.0 273.5h0M353.7 273.8h0M354.8 273.8h0M357.3 275.0h0M358.0 275.0h0M358.7 274.9h0M363.3 275.5h0M364.2 275.6h0M366.3 277.0h0M367.1 276.6h0M367.9 276.7h0M368.9 276.4h0M369.4 277.5h0M374.5 278.1h0M375.8 278.5h0M376.4 278.9h0M380.4 279.1h0M380.8 279.5h0M381.8 279.0h0M382.5 279.6h0M386.9 281.1h0M388.3 281.9h0M390.1 283.1h0M390.9 283.4h0M391.6 282.7h0M392.1 283.2h0M393.8 284.4h0M400.2 287.1h0M401.1 287.1h0M402.0 287.5h0M402.6 287.6h0M403.8 288.2h0M407.9 289.5h0M408.5 290.0h0M409.5 290.1h0M410.3 289.8h0M411.2 290.8h0M414.2 291.6h0M415.3 292.1h0M418.9 293.6h0M423.8 295.6h0M425.0 296.1h0M426.0 296.6h0M426.8 296.1h0M427.6 297.4h0M434.8 299.7h0M435.3 299.6h0M436.0 300.3h0M438.8 300.9h0M439.5 301.8h0M440.6 301.5h0M445.8 303.3h0M448.8 304.6h0M449.7 305.3h0M453.9 307.0h0M455.0 306.5h0M456.1 306.7h0M456.9 307.5h0M457.7 307.5h0M462.8 308.9h0M463.3 309.9h0M464.3 310.2h0M465.2 310.8h0M468.9 311.6h0M470.0 311.6h0M470.9 311.6h0M471.7 312.0h0M472.9 312.7h0M478.1 314.1h0M479.1 315.2h0M479.6 314.4h0M480.8 315.8h0M481.7 315.1h0M483.0 316.3h0M488.8 317.4h0M490.1 317.9h0M491.0 318.9h0M491.4 318.2h0M495.0 320.0h0M495.9 320.2h0M498.7 321.1h0M504.9 322.6h0M505.7 323.4h0M506.4 323.0h0M507.4 322.2h0M513.3 320.9h0M514.5 320.5h0" stroke="#222222" stroke-width="1.15" stroke-linecap="round" fill="none"/>
<path d="M310.2 317.0h0M310.2 315.8h0M310.3 315.6h0M310.7 314.6h0M310.8 312.3h0M311.0 312.8h0M311.1 311.0h0M311.3 309.1h0M311.4 308.7h0M311.7 307.1h0M311.7 306.0h0M312.1 304.8h0M312.4 303.7h0M312.7 302.1h0M312.7 301.9h0M313.2 300.7h0M313.2 299.9h0M313.6 297.5h0M313.8 296.4h0M313.9 296.5h0M314.3 295.1h0M314.7 293.7h0M314.9 292.2h0M314.9 291.7h0M315.4 291.6h0M315.6 290.3h0M315.9 288.8h0M316.2 286.8h0M316.5 286.6h0M316.8 285.8h0M317.3 284.8h0M317.5 283.5h0M318.2 282.5h0M318.7 281.1h0M319.0 280.6h0M319.3 279.1h0M319.7 278.4h0M320.4 277.2h0M320.9 276.4h0M321.6 275.6h0M322.4 273.9h0M323.2 273.3h0M323.9 272.8h0M324.3 272.8h0M325.5 271.5h0M326.3 272.0h0M326.9 271.4h0M327.9 270.5h0M328.7 270.0h0M330.3 269.9h0M330.9 270.5h0M332.4 270.6h0M334.6 269.6h0M335.6 270.3h0M336.4 270.3h0M337.2 270.0h0M338.1 270.6h0M341.5 270.6h0M342.4 270.8h0M343.3 271.2h0M344.0 270.9h0M344.6 270.9h0M347.0 271.8h0M347.8 271.6h0M348.8 271.5h0M349.7 271.9h0M351.7 272.3h0M352.6 272.6h0M353.5 273.5h0M354.6 272.7h0M361.7 274.2h0M365.8 275.5h0M366.7 275.5h0M367.5 275.6h0M369.6 276.3h0M370.7 276.7h0M371.5 276.9h0M372.4 276.1h0M372.9 276.6h0M376.4 277.7h0M377.3 277.2h0M377.8 277.1h0M379.9 277.7h0M380.6 278.6h0M381.5 278.6h0M382.6 278.6h0M384.6 279.4h0M385.7 280.4h0M386.8 280.1h0M393.1 283.2h0M394.9 283.7h0M395.6 284.2h0M396.5 284.2h0M397.3 284.2h0M403.7 287.1h0M404.9 287.3h0M405.5 286.8h0M406.7 287.6h0M407.6 287.9h0M410.2 288.7h0M412.3 290.1h0M413.2 289.7h0M413.8 290.6h0M414.6 291.0h0M415.3 290.4h0M420.6 292.1h0M424.5 293.7h0M425.6 293.9h0M426.3 294.9h0M430.7 296.5h0M431.6 296.2h0M432.7 297.3h0M433.5 296.8h0M434.5 297.8h0M440.7 299.3h0M441.6 299.8h0M442.3 299.9h0M442.9 300.1h0M448.2 302.8h0M449.0 303.4h0M454.3 304.5h0M455.1 305.3h0M456.1 305.2h0M456.9 305.4h0M457.6 306.3h0M464.5 307.7h0M470.2 310.1h0M471.0 310.2h0M476.8 312.1h0M481.7 314.6h0M482.9 314.2h0M487.7 316.6h0M488.3 316.8h0M489.4 317.2h0M489.8 316.3h0M494.3 318.1h0M495.0 319.2h0M495.9 318.8h0M496.7 319.2h0M497.7 319.5h0M500.0 320.7h0M506.7 322.0h0M513.1 320.6h0M514.1 320.9h0M515.0 319.9h0" stroke="#1c1c1c" stroke-width="2.3" stroke-linecap="round" fill="none"/>
<path d="M310.2 317.0h0M310.2 315.8h0M310.3 315.6h0M310.7 314.6h0M310.8 312.3h0M311.0 312.8h0M311.1 311.0h0M311.3 309.1h0M311.4 308.7h0M311.7 307.1h0M311.7 306.0h0M312.1 304.8h0M312.4 303.7h0M312.7 302.1h0M312.7 301.9h0M313.2 300.7h0M313.2 299.9h0M313.6 297.5h0M313.8 296.4h0M313.9 296.5h0M314.3 295.1h0M314.7 293.7h0M314.9 292.2h0M314.9 291.7h0M315.4 291.6h0M315.6 290.3h0M315.9 288.8h0M316.2 286.8h0M316.5 286.6h0M316.8 285.8h0M317.3 284.8h0M317.5 283.5h0M318.2 282.5h0M318.7 281.1h0M319.0 280.6h0M319.3 279.1h0M319.7 278.4h0M320.4 277.2h0M320.9 276.4h0M321.6 275.6h0M322.4 273.9h0M323.2 273.3h0M323.9 272.8h0M324.3 272.8h0M325.5 271.5h0M326.3 272.0h0M326.9 271.4h0M327.9 270.5h0M328.7 270.0h0M330.3 269.9h0M330.9 270.5h0M332.4 270.6h0M334.6 269.6h0M335.6 270.3h0M336.4 270.3h0M337.2 270.0h0M338.1 270.6h0M341.5 270.6h0M342.4 270.8h0M343.3 271.2h0M344.0 270.9h0M344.6 270.9h0M347.0 271.8h0M347.8 271.6h0M348.8 271.5h0M349.7 271.9h0M351.7 272.3h0M352.6 272.6h0M353.5 273.5h0M354.6 272.7h0M361.7 274.2h0M365.8 275.5h0M366.7 275.5h0M367.5 275.6h0M369.6 276.3h0M370.7 276.7h0M371.5 276.9h0M372.4 276.1h0M372.9 276.6h0M376.4 277.7h0M377.3 277.2h0M377.8 277.1h0M379.9 277.7h0M380.6 278.6h0M381.5 278.6h0M382.6 278.6h0M384.6 279.4h0M385.7 280.4h0M386.8 280.1h0M393.1 283.2h0M394.9 283.7h0M395.6 284.2h0M396.5 284.2h0M397.3 284.2h0M403.7 287.1h0M404.9 287.3h0M405.5 286.8h0M406.7 287.6h0M407.6 287.9h0M410.2 288.7h0M412.3 290.1h0M413.2 289.7h0M413.8 290.6h0M414.6 291.0h0M415.3 290.4h0M420.6 292.1h0M424.5 293.7h0M425.6 293.9h0M426.3 294.9h0M430.7 296.5h0M431.6 296.2h0M432.7 297.3h0M433.5 296.8h0M434.5 297.8h0M440.7 299.3h0M441.6 299.8h0M442.3 299.9h0M442.9 300.1h0M448.2 302.8h0M449.0 303.4h0M454.3 304.5h0M455.1 305.3h0M456.1 305.2h0M456.9 305.4h0M457.6 306.3h0M464.5 307.7h0M470.2 310.1h0M471.0 310.2h0M476.8 312.1h0M481.7 314.6h0M482.9 314.2h0M487.7 316.6h0M488.3 316.8h0M489.4 317.2h0M489.8 316.3h0M494.3 318.1h0M495.0 319.2h0M495.9 318.8h0M496.7 319.2h0M497.7 319.5h0M500.0 320.7h0M506.7 322.0h0M513.1 320.6h0M514.1 320.9h0M515.0 319.9h0" stroke="#ffffff" stroke-width="1.15" stroke-linecap="round" fill="none"/>
<path d="M310.3 316.0h0M310.3 314.0h0M310.8 313.3h0M310.9 311.9h0M311.0 311.2h0M311.1 310.0h0M311.1 308.9h0M311.6 307.0h0M311.8 306.1h0M311.9 305.1h0M311.9 304.9h0M312.3 302.6h0M312.3 302.3h0M312.5 301.6h0M312.9 299.8h0M312.8 299.7h0M313.3 297.3h0M313.6 296.5h0M314.0 294.6h0M314.1 293.1h0M314.1 292.5h0M314.3 291.7h0M314.5 291.0h0M314.8 290.6h0M314.9 289.7h0M315.4 288.0h0M315.7 287.3h0M315.9 286.1h0M316.2 285.3h0M316.6 283.8h0M316.8 283.2h0M317.1 282.1h0M317.6 280.8h0M318.0 280.1h0M318.4 280.2h0M318.7 278.7h0M319.5 277.2h0M320.0 275.8h0M320.6 274.9h0M321.5 274.4h0M322.1 273.0h0M322.7 272.2h0M324.6 270.8h0M325.4 271.1h0M326.6 270.9h0M327.1 270.2h0M329.8 270.5h0M330.6 270.3h0M331.4 269.8h0M332.1 269.7h0M333.2 269.7h0M334.9 270.1h0M336.2 269.6h0M340.6 271.3h0M345.9 271.3h0M346.4 272.1h0M347.6 272.0h0M352.7 272.5h0M353.8 273.0h0M354.3 273.5h0M355.5 273.6h0M356.4 273.0h0M360.6 274.2h0M361.4 273.9h0M362.6 274.3h0M363.5 273.9h0M366.5 275.2h0M367.1 275.4h0M373.2 276.5h0M375.0 275.7h0M375.9 276.3h0M376.8 276.4h0M378.0 277.3h0M380.9 277.1h0M381.9 277.3h0M382.6 277.5h0M383.6 277.7h0M389.3 280.2h0M390.5 280.9h0M391.1 281.6h0M393.2 282.4h0M397.3 283.3h0M400.3 284.0h0M401.1 284.1h0M406.4 286.6h0M410.1 288.0h0M410.9 288.0h0M411.3 288.1h0M412.3 288.7h0M418.7 290.5h0M419.4 291.6h0M420.6 291.2h0M422.1 292.5h0M422.9 292.7h0M423.8 292.6h0M424.6 293.1h0M427.8 294.1h0M428.2 294.5h0M429.3 294.5h0M431.9 295.5h0M432.9 295.4h0M433.8 296.2h0M434.4 296.0h0M435.4 296.6h0M439.6 298.0h0M440.5 298.3h0M441.4 299.0h0M442.6 299.2h0M443.5 300.3h0M448.3 301.7h0M449.6 302.1h0M451.5 302.3h0M452.2 303.2h0M453.2 303.7h0M454.3 304.1h0M454.9 304.5h0M460.7 305.4h0M461.7 306.9h0M462.6 306.1h0M463.4 307.4h0M466.8 308.0h0M467.4 307.7h0M468.4 309.0h0M471.5 309.9h0M472.0 310.4h0M478.3 311.9h0M479.1 312.5h0M484.4 313.9h0M486.1 314.0h0M486.9 314.4h0M487.6 315.6h0M490.4 316.5h0M491.2 316.6h0M497.4 318.0h0M498.0 318.4h0M504.8 320.9h0M505.8 320.8h0M506.9 320.6h0M514.0 320.9h0M514.9 320.6h0" stroke="#1c1c1c" stroke-width="2.3" stroke-linecap="round" fill="none"/>
<path d="M310.3 316.0h0M310.3 314.0h0M310.8 313.3h0M310.9 311.9h0M311.0 311.2h0M311.1 310.0h0M311.1 308.9h0M311.6 307.0h0M311.8 306.1h0M311.9 305.1h0M311.9 304.9h0M312.3 302.6h0M312.3 302.3h0M312.5 301.6h0M312.9 299.8h0M312.8 299.7h0M313.3 297.3h0M313.6 296.5h0M314.0 294.6h0M314.1 293.1h0M314.1 292.5h0M314.3 291.7h0M314.5 291.0h0M314.8 290.6h0M314.9 289.7h0M315.4 288.0h0M315.7 287.3h0M315.9 286.1h0M316.2 285.3h0M316.6 283.8h0M316.8 283.2h0M317.1 282.1h0M317.6 280.8h0M318.0 280.1h0M318.4 280.2h0M318.7 278.7h0M319.5 277.2h0M320.0 275.8h0M320.6 274.9h0M321.5 274.4h0M322.1 273.0h0M322.7 272.2h0M324.6 270.8h0M325.4 271.1h0M326.6 270.9h0M327.1 270.2h0M329.8 270.5h0M330.6 270.3h0M331.4 269.8h0M332.1 269.7h0M333.2 269.7h0M334.9 270.1h0M336.2 269.6h0M340.6 271.3h0M345.9 271.3h0M346.4 272.1h0M347.6 272.0h0M352.7 272.5h0M353.8 273.0h0M354.3 273.5h0M355.5 273.6h0M356.4 273.0h0M360.6 274.2h0M361.4 273.9h0M362.6 274.3h0M363.5 273.9h0M366.5 275.2h0M367.1 275.4h0M373.2 276.5h0M375.0 275.7h0M375.9 276.3h0M376.8 276.4h0M378.0 277.3h0M380.9 277.1h0M381.9 277.3h0M382.6 277.5h0M383.6 277.7h0M389.3 280.2h0M390.5 280.9h0M391.1 281.6h0M393.2 282.4h0M397.3 283.3h0M400.3 284.0h0M401.1 284.1h0M406.4 286.6h0M410.1 288.0h0M410.9 288.0h0M411.3 288.1h0M412.3 288.7h0M418.7 290.5h0M419.4 291.6h0M420.6 291.2h0M422.1 292.5h0M422.9 292.7h0M423.8 292.6h0M424.6 293.1h0M427.8 294.1h0M428.2 294.5h0M429.3 294.5h0M431.9 295.5h0M432.9 295.4h0M433.8 296.2h0M434.4 296.0h0M435.4 296.6h0M439.6 298.0h0M440.5 298.3h0M441.4 299.0h0M442.6 299.2h0M443.5 300.3h0M448.3 301.7h0M449.6 302.1h0M451.5 302.3h0M452.2 303.2h0M453.2 303.7h0M454.3 304.1h0M454.9 304.5h0M460.7 305.4h0M461.7 306.9h0M462.6 306.1h0M463.4 307.4h0M466.8 308.0h0M467.4 307.7h0M468.4 309.0h0M471.5 309.9h0M472.0 310.4h0M478.3 311.9h0M479.1 312.5h0M484.4 313.9h0M486.1 314.0h0M486.9 314.4h0M487.6 315.6h0M490.4 316.5h0M491.2 316.6h0M497.4 318.0h0M498.0 318.4h0M504.8 320.9h0M505.8 320.8h0M506.9 320.6h0M514.0 320.9h0M514.9 320.6h0" stroke="#2a8a4a" stroke-width="1.15" stroke-linecap="round" fill="none"/>
<path d="M310.4 316.2h0M310.5 314.9h0M310.5 313.1h0M310.7 312.1h0M311.0 310.4h0M311.1 309.0h0M311.6 306.7h0M311.5 306.5h0M311.9 303.6h0M312.1 302.7h0M312.3 302.2h0M312.4 300.6h0M312.7 299.9h0M313.0 298.9h0M313.1 298.1h0M313.3 297.7h0M313.5 293.9h0M314.1 293.8h0M314.0 292.4h0M314.2 292.2h0M314.3 291.0h0M314.8 289.8h0M314.8 289.0h0M315.0 287.7h0M315.5 287.0h0M315.8 286.0h0M316.1 284.6h0M316.7 282.3h0M317.0 282.0h0M317.2 280.4h0M317.6 279.7h0M317.7 279.2h0M318.8 277.1h0M318.9 275.7h0M320.1 274.2h0M320.6 273.7h0M321.1 272.8h0M322.0 271.3h0M323.4 270.8h0M324.2 269.4h0M325.9 268.6h0M326.7 268.2h0M328.0 268.2h0M328.8 267.7h0M330.7 267.6h0M331.3 268.5h0M332.3 268.3h0M333.1 267.9h0M334.1 268.0h0M338.3 268.9h0M339.2 268.7h0M340.2 269.0h0M340.8 269.5h0M342.0 269.5h0M347.4 270.3h0M348.2 270.1h0M349.0 270.8h0M350.2 270.8h0M354.9 271.6h0M355.4 272.1h0M358.0 272.0h0M364.3 272.9h0M365.2 273.9h0M370.1 274.6h0M376.9 276.0h0M380.1 276.6h0M381.0 276.4h0M381.8 276.8h0M382.5 277.1h0M389.3 279.5h0M393.0 280.4h0M393.8 280.9h0M396.6 282.4h0M397.4 282.6h0M401.3 283.3h0M402.3 283.5h0M402.8 283.4h0M403.6 284.5h0M409.0 285.8h0M409.6 286.4h0M415.8 288.5h0M416.7 288.7h0M417.4 288.8h0M418.1 288.9h0M418.9 289.4h0M424.7 291.0h0M425.6 291.2h0M426.8 292.0h0M427.6 292.1h0M429.6 293.0h0M430.5 294.0h0M434.2 294.5h0M434.6 295.1h0M435.8 295.4h0M436.7 296.2h0M441.7 297.6h0M442.1 298.0h0M443.1 298.3h0M443.6 297.9h0M444.8 298.2h0M450.4 300.8h0M451.9 301.2h0M453.1 300.9h0M453.7 302.0h0M454.8 302.0h0M455.7 301.9h0M461.6 304.2h0M462.4 304.1h0M463.0 305.1h0M464.0 304.9h0M467.1 306.1h0M467.6 306.7h0M468.5 307.0h0M469.4 307.6h0M476.4 310.0h0M477.5 310.2h0M478.5 311.0h0M479.2 310.3h0M480.1 311.3h0M482.8 312.4h0M483.8 312.0h0M487.6 313.5h0M488.5 314.1h0M494.8 316.6h0M498.7 317.2h0M499.6 317.8h0M500.5 317.8h0M501.6 319.1h0M502.3 318.6h0M509.0 320.4h0M510.1 320.3h0M511.1 320.5h0" stroke="#1c1c1c" stroke-width="2.3" stroke-linecap="round" fill="none"/>
<path d="M310.4 316.2h0M310.5 314.9h0M310.5 313.1h0M310.7 312.1h0M311.0 310.4h0M311.1 309.0h0M311.6 306.7h0M311.5 306.5h0M311.9 303.6h0M312.1 302.7h0M312.3 302.2h0M312.4 300.6h0M312.7 299.9h0M313.0 298.9h0M313.1 298.1h0M313.3 297.7h0M313.5 293.9h0M314.1 293.8h0M314.0 292.4h0M314.2 292.2h0M314.3 291.0h0M314.8 289.8h0M314.8 289.0h0M315.0 287.7h0M315.5 287.0h0M315.8 286.0h0M316.1 284.6h0M316.7 282.3h0M317.0 282.0h0M317.2 280.4h0M317.6 279.7h0M317.7 279.2h0M318.8 277.1h0M318.9 275.7h0M320.1 274.2h0M320.6 273.7h0M321.1 272.8h0M322.0 271.3h0M323.4 270.8h0M324.2 269.4h0M325.9 268.6h0M326.7 268.2h0M328.0 268.2h0M328.8 267.7h0M330.7 267.6h0M331.3 268.5h0M332.3 268.3h0M333.1 267.9h0M334.1 268.0h0M338.3 268.9h0M339.2 268.7h0M340.2 269.0h0M340.8 269.5h0M342.0 269.5h0M347.4 270.3h0M348.2 270.1h0M349.0 270.8h0M350.2 270.8h0M354.9 271.6h0M355.4 272.1h0M358.0 272.0h0M364.3 272.9h0M365.2 273.9h0M370.1 274.6h0M376.9 276.0h0M380.1 276.6h0M381.0 276.4h0M381.8 276.8h0M382.5 277.1h0M389.3 279.5h0M393.0 280.4h0M393.8 280.9h0M396.6 282.4h0M397.4 282.6h0M401.3 283.3h0M402.3 283.5h0M402.8 283.4h0M403.6 284.5h0M409.0 285.8h0M409.6 286.4h0M415.8 288.5h0M416.7 288.7h0M417.4 288.8h0M418.1 288.9h0M418.9 289.4h0M424.7 291.0h0M425.6 291.2h0M426.8 292.0h0M427.6 292.1h0M429.6 293.0h0M430.5 294.0h0M434.2 294.5h0M434.6 295.1h0M435.8 295.4h0M436.7 296.2h0M441.7 297.6h0M442.1 298.0h0M443.1 298.3h0M443.6 297.9h0M444.8 298.2h0M450.4 300.8h0M451.9 301.2h0M453.1 300.9h0M453.7 302.0h0M454.8 302.0h0M455.7 301.9h0M461.6 304.2h0M462.4 304.1h0M463.0 305.1h0M464.0 304.9h0M467.1 306.1h0M467.6 306.7h0M468.5 307.0h0M469.4 307.6h0M476.4 310.0h0M477.5 310.2h0M478.5 311.0h0M479.2 310.3h0M480.1 311.3h0M482.8 312.4h0M483.8 312.0h0M487.6 313.5h0M488.5 314.1h0M494.8 316.6h0M498.7 317.2h0M499.6 317.8h0M500.5 317.8h0M501.6 319.1h0M502.3 318.6h0M509.0 320.4h0M510.1 320.3h0M511.1 320.5h0" stroke="#80b060" stroke-width="1.15" stroke-linecap="round" fill="none"/>
<path d="M310.1 316.6h0M310.3 315.7h0M310.6 314.0h0M310.8 312.9h0M311.0 311.9h0M311.2 311.8h0M311.2 310.0h0M311.6 308.9h0M311.5 308.6h0M311.9 306.4h0M312.1 305.1h0M312.2 304.2h0M312.6 304.4h0M312.5 302.8h0M312.8 301.6h0M313.2 300.9h0M313.2 299.8h0M313.4 299.0h0M313.7 297.2h0M314.2 295.9h0M314.4 294.4h0M314.4 294.3h0M314.8 292.9h0M315.2 292.4h0M315.5 290.1h0M316.0 288.6h0M316.0 288.3h0M316.4 287.0h0M316.9 285.6h0M317.2 284.3h0M317.9 282.5h0M318.1 281.8h0M318.4 281.3h0M319.5 279.5h0M319.9 278.2h0M320.1 278.2h0M320.7 276.7h0M320.8 276.1h0M321.4 274.9h0M322.0 274.8h0M322.6 274.2h0M323.9 271.8h0M324.7 271.9h0M326.0 270.8h0M326.8 270.3h0M327.8 269.0h0M328.4 269.5h0M329.4 268.7h0M330.2 268.5h0M332.1 268.1h0M332.9 268.5h0M334.1 268.1h0M334.7 267.6h0M335.7 267.9h0M339.7 267.6h0M340.6 268.6h0M341.3 268.4h0M348.4 270.0h0M349.1 269.3h0M350.0 269.5h0M351.0 270.2h0M354.1 270.1h0M354.7 270.1h0M358.2 271.5h0M358.9 271.9h0M359.8 271.9h0M364.7 272.5h0M365.6 272.2h0M367.8 273.4h0M368.3 272.5h0M369.3 272.9h0M371.6 274.1h0M372.6 273.6h0M373.4 273.5h0M374.4 274.1h0M379.7 274.7h0M380.6 274.9h0M381.5 275.4h0M382.3 276.1h0M383.4 275.9h0M389.5 277.6h0M390.2 277.9h0M391.1 279.3h0M392.1 279.6h0M398.2 281.4h0M401.0 282.1h0M401.9 282.3h0M408.2 284.4h0M409.2 285.0h0M409.9 285.5h0M416.2 286.7h0M417.2 287.2h0M420.1 288.9h0M420.9 288.7h0M421.9 288.5h0M423.6 289.1h0M424.6 289.3h0M425.4 290.3h0M429.5 291.7h0M430.0 291.2h0M430.9 291.5h0M432.0 292.1h0M433.3 292.7h0M434.3 293.1h0M435.3 293.7h0M441.6 295.2h0M442.2 295.7h0M443.4 296.4h0M449.0 297.7h0M450.1 298.1h0M450.8 298.9h0M452.0 299.0h0M454.1 300.1h0M455.3 300.3h0M460.8 302.0h0M461.6 302.0h0M466.0 304.6h0M467.0 305.0h0M467.6 304.4h0M472.1 306.0h0M473.2 307.0h0M473.9 307.2h0M474.6 307.9h0M477.3 309.1h0M478.6 309.1h0M479.3 309.9h0M483.4 310.2h0M488.1 312.8h0M489.0 313.3h0M489.6 313.3h0M490.6 312.9h0M491.2 314.2h0M494.1 315.4h0M495.1 315.8h0M495.8 315.2h0M497.0 315.8h0M497.6 316.1h0M503.3 318.6h0M507.0 319.2h0M507.7 319.9h0M509.8 319.2h0M512.9 319.8h0M513.9 320.4h0M514.9 319.7h0" stroke="#1c1c1c" stroke-width="2.3" stroke-linecap="round" fill="none"/>
<path d="M310.1 316.6h0M310.3 315.7h0M310.6 314.0h0M310.8 312.9h0M311.0 311.9h0M311.2 311.8h0M311.2 310.0h0M311.6 308.9h0M311.5 308.6h0M311.9 306.4h0M312.1 305.1h0M312.2 304.2h0M312.6 304.4h0M312.5 302.8h0M312.8 301.6h0M313.2 300.9h0M313.2 299.8h0M313.4 299.0h0M313.7 297.2h0M314.2 295.9h0M314.4 294.4h0M314.4 294.3h0M314.8 292.9h0M315.2 292.4h0M315.5 290.1h0M316.0 288.6h0M316.0 288.3h0M316.4 287.0h0M316.9 285.6h0M317.2 284.3h0M317.9 282.5h0M318.1 281.8h0M318.4 281.3h0M319.5 279.5h0M319.9 278.2h0M320.1 278.2h0M320.7 276.7h0M320.8 276.1h0M321.4 274.9h0M322.0 274.8h0M322.6 274.2h0M323.9 271.8h0M324.7 271.9h0M326.0 270.8h0M326.8 270.3h0M327.8 269.0h0M328.4 269.5h0M329.4 268.7h0M330.2 268.5h0M332.1 268.1h0M332.9 268.5h0M334.1 268.1h0M334.7 267.6h0M335.7 267.9h0M339.7 267.6h0M340.6 268.6h0M341.3 268.4h0M348.4 270.0h0M349.1 269.3h0M350.0 269.5h0M351.0 270.2h0M354.1 270.1h0M354.7 270.1h0M358.2 271.5h0M358.9 271.9h0M359.8 271.9h0M364.7 272.5h0M365.6 272.2h0M367.8 273.4h0M368.3 272.5h0M369.3 272.9h0M371.6 274.1h0M372.6 273.6h0M373.4 273.5h0M374.4 274.1h0M379.7 274.7h0M380.6 274.9h0M381.5 275.4h0M382.3 276.1h0M383.4 275.9h0M389.5 277.6h0M390.2 277.9h0M391.1 279.3h0M392.1 279.6h0M398.2 281.4h0M401.0 282.1h0M401.9 282.3h0M408.2 284.4h0M409.2 285.0h0M409.9 285.5h0M416.2 286.7h0M417.2 287.2h0M420.1 288.9h0M420.9 288.7h0M421.9 288.5h0M423.6 289.1h0M424.6 289.3h0M425.4 290.3h0M429.5 291.7h0M430.0 291.2h0M430.9 291.5h0M432.0 292.1h0M433.3 292.7h0M434.3 293.1h0M435.3 293.7h0M441.6 295.2h0M442.2 295.7h0M443.4 296.4h0M449.0 297.7h0M450.1 298.1h0M450.8 298.9h0M452.0 299.0h0M454.1 300.1h0M455.3 300.3h0M460.8 302.0h0M461.6 302.0h0M466.0 304.6h0M467.0 305.0h0M467.6 304.4h0M472.1 306.0h0M473.2 307.0h0M473.9 307.2h0M474.6 307.9h0M477.3 309.1h0M478.6 309.1h0M479.3 309.9h0M483.4 310.2h0M488.1 312.8h0M489.0 313.3h0M489.6 313.3h0M490.6 312.9h0M491.2 314.2h0M494.1 315.4h0M495.1 315.8h0M495.8 315.2h0M497.0 315.8h0M497.6 316.1h0M503.3 318.6h0M507.0 319.2h0M507.7 319.9h0M509.8 319.2h0M512.9 319.8h0M513.9 320.4h0M514.9 319.7h0" stroke="#c8c040" stroke-width="1.15" stroke-linecap="round" fill="none"/>
<path d="M310.3 315.9h0M310.4 314.9h0M310.4 313.8h0M310.5 312.5h0M311.0 310.9h0M310.7 310.3h0M311.1 309.6h0M311.3 308.7h0M311.3 307.6h0M311.6 305.4h0M311.9 303.1h0M312.1 302.7h0M312.2 301.4h0M312.4 300.6h0M312.6 299.2h0M312.7 298.5h0M312.9 297.3h0M313.2 295.4h0M313.4 294.5h0M313.3 294.4h0M313.7 292.4h0M313.7 290.9h0M314.1 290.0h0M314.1 289.8h0M314.3 288.4h0M315.2 286.3h0M315.3 285.3h0M315.8 283.5h0M316.1 281.6h0M316.1 280.6h0M316.5 281.0h0M316.6 279.1h0M317.1 276.7h0M317.4 276.3h0M317.7 275.9h0M318.4 273.3h0M318.7 273.2h0M319.1 271.8h0M320.0 270.5h0M320.6 269.5h0M320.7 269.0h0M321.2 267.8h0M322.7 265.6h0M323.7 263.9h0M324.6 264.2h0M325.3 263.1h0M326.2 262.9h0M326.7 262.8h0M328.5 261.2h0M329.9 261.4h0M330.7 260.8h0M332.6 261.4h0M333.4 260.9h0M334.2 261.0h0M336.8 261.0h0M338.1 260.8h0M338.9 260.8h0M339.5 261.3h0M345.6 263.0h0M347.4 263.4h0M348.5 263.6h0M349.3 263.7h0M350.1 263.5h0M351.2 264.0h0M353.1 264.3h0M354.0 265.2h0M355.1 265.2h0M355.9 265.8h0M356.6 265.5h0M360.5 266.7h0M361.6 267.0h0M362.8 267.2h0M367.7 268.4h0M368.4 268.8h0M369.5 269.0h0M370.5 269.4h0M375.5 270.3h0M376.4 271.3h0M377.9 271.4h0M378.9 272.0h0M379.6 271.7h0M381.2 272.9h0M382.1 273.3h0M383.0 273.0h0M383.9 273.2h0M389.2 275.1h0M389.9 275.2h0M390.8 276.1h0M392.0 276.3h0M392.5 276.1h0M398.4 278.9h0M399.0 278.9h0M400.1 278.9h0M400.8 279.6h0M404.4 281.6h0M405.9 281.4h0M407.1 282.5h0M407.9 282.2h0M408.5 283.2h0M412.7 284.0h0M419.6 286.4h0M420.7 286.6h0M421.7 287.8h0M426.8 290.0h0M427.6 290.1h0M429.0 290.8h0M430.0 291.2h0M431.0 290.9h0M432.0 291.1h0M433.0 291.6h0M434.7 292.4h0M435.6 292.2h0M436.5 292.7h0M437.1 293.7h0M439.5 294.7h0M440.7 295.0h0M446.9 296.4h0M449.5 297.4h0M453.7 299.1h0M455.0 300.1h0M455.7 300.3h0M456.6 300.1h0M458.6 301.5h0M459.2 301.4h0M460.1 302.2h0M462.4 302.1h0M463.3 302.8h0M463.9 302.7h0M468.7 305.0h0M469.7 305.6h0M470.5 306.1h0M471.2 305.4h0M475.5 307.4h0M476.2 307.3h0M476.8 308.4h0M477.5 307.9h0M478.7 309.1h0M483.9 310.4h0M484.6 310.5h0M485.3 310.8h0M487.4 311.0h0M492.9 313.7h0M497.1 314.8h0M498.0 314.8h0M498.6 316.1h0M499.5 315.4h0M503.7 317.7h0M504.4 317.7h0M511.3 319.5h0M512.5 319.5h0M513.3 320.0h0M514.1 319.8h0" stroke="#1c1c1c" stroke-width="2.3" stroke-linecap="round" fill="none"/>
<path d="M310.3 315.9h0M310.4 314.9h0M310.4 313.8h0M310.5 312.5h0M311.0 310.9h0M310.7 310.3h0M311.1 309.6h0M311.3 308.7h0M311.3 307.6h0M311.6 305.4h0M311.9 303.1h0M312.1 302.7h0M312.2 301.4h0M312.4 300.6h0M312.6 299.2h0M312.7 298.5h0M312.9 297.3h0M313.2 295.4h0M313.4 294.5h0M313.3 294.4h0M313.7 292.4h0M313.7 290.9h0M314.1 290.0h0M314.1 289.8h0M314.3 288.4h0M315.2 286.3h0M315.3 285.3h0M315.8 283.5h0M316.1 281.6h0M316.1 280.6h0M316.5 281.0h0M316.6 279.1h0M317.1 276.7h0M317.4 276.3h0M317.7 275.9h0M318.4 273.3h0M318.7 273.2h0M319.1 271.8h0M320.0 270.5h0M320.6 269.5h0M320.7 269.0h0M321.2 267.8h0M322.7 265.6h0M323.7 263.9h0M324.6 264.2h0M325.3 263.1h0M326.2 262.9h0M326.7 262.8h0M328.5 261.2h0M329.9 261.4h0M330.7 260.8h0M332.6 261.4h0M333.4 260.9h0M334.2 261.0h0M336.8 261.0h0M338.1 260.8h0M338.9 260.8h0M339.5 261.3h0M345.6 263.0h0M347.4 263.4h0M348.5 263.6h0M349.3 263.7h0M350.1 263.5h0M351.2 264.0h0M353.1 264.3h0M354.0 265.2h0M355.1 265.2h0M355.9 265.8h0M356.6 265.5h0M360.5 266.7h0M361.6 267.0h0M362.8 267.2h0M367.7 268.4h0M368.4 268.8h0M369.5 269.0h0M370.5 269.4h0M375.5 270.3h0M376.4 271.3h0M377.9 271.4h0M378.9 272.0h0M379.6 271.7h0M381.2 272.9h0M382.1 273.3h0M383.0 273.0h0M383.9 273.2h0M389.2 275.1h0M389.9 275.2h0M390.8 276.1h0M392.0 276.3h0M392.5 276.1h0M398.4 278.9h0M399.0 278.9h0M400.1 278.9h0M400.8 279.6h0M404.4 281.6h0M405.9 281.4h0M407.1 282.5h0M407.9 282.2h0M408.5 283.2h0M412.7 284.0h0M419.6 286.4h0M420.7 286.6h0M421.7 287.8h0M426.8 290.0h0M427.6 290.1h0M429.0 290.8h0M430.0 291.2h0M431.0 290.9h0M432.0 291.1h0M433.0 291.6h0M434.7 292.4h0M435.6 292.2h0M436.5 292.7h0M437.1 293.7h0M439.5 294.7h0M440.7 295.0h0M446.9 296.4h0M449.5 297.4h0M453.7 299.1h0M455.0 300.1h0M455.7 300.3h0M456.6 300.1h0M458.6 301.5h0M459.2 301.4h0M460.1 302.2h0M462.4 302.1h0M463.3 302.8h0M463.9 302.7h0M468.7 305.0h0M469.7 305.6h0M470.5 306.1h0M471.2 305.4h0M475.5 307.4h0M476.2 307.3h0M476.8 308.4h0M477.5 307.9h0M478.7 309.1h0M483.9 310.4h0M484.6 310.5h0M485.3 310.8h0M487.4 311.0h0M492.9 313.7h0M497.1 314.8h0M498.0 314.8h0M498.6 316.1h0M499.5 315.4h0M503.7 317.7h0M504.4 317.7h0M511.3 319.5h0M512.5 319.5h0M513.3 320.0h0M514.1 319.8h0" stroke="#6a90c0" stroke-width="1.15" stroke-linecap="round" fill="none"/>
<path d="M310.1 313.3h0M310.5 311.9h0M310.4 311.6h0M310.3 311.0h0M310.3 310.1h0M310.9 308.1h0M310.7 306.5h0M311.1 305.0h0M311.1 305.3h0M311.1 303.9h0M311.2 301.8h0M311.5 300.9h0M311.5 298.7h0M311.8 297.6h0M311.6 297.4h0M311.9 295.8h0M312.0 294.2h0M312.4 292.4h0M312.4 291.6h0M312.4 290.9h0M312.6 289.8h0M312.6 288.6h0M312.7 288.3h0M313.0 287.0h0M313.4 285.4h0M313.7 283.4h0M313.6 282.5h0M313.8 281.6h0M314.2 281.4h0M314.4 279.7h0M314.5 278.7h0M314.6 277.7h0M314.9 276.0h0M315.0 275.7h0M315.5 275.4h0M315.7 274.4h0M315.9 273.4h0M316.4 271.3h0M316.7 270.5h0M317.2 269.2h0M318.2 267.5h0M319.4 265.9h0M320.0 265.0h0M320.9 265.7h0M322.0 264.5h0M323.3 264.1h0M324.5 263.8h0M325.4 264.3h0M326.6 263.5h0M327.7 264.1h0M328.8 264.5h0M330.6 264.5h0M331.3 264.7h0M333.8 264.6h0M335.1 265.4h0M336.2 265.3h0M337.1 264.9h0M340.6 265.8h0M341.6 266.3h0M344.0 267.2h0M344.9 267.4h0M347.4 267.6h0M348.3 268.1h0M349.3 267.5h0M352.0 268.2h0M353.0 268.9h0M354.0 269.2h0M356.1 268.6h0M356.9 269.4h0M360.2 270.2h0M363.6 270.6h0M364.6 270.4h0M365.4 271.7h0M366.4 271.6h0M367.4 271.3h0M370.8 271.9h0M372.0 272.2h0M372.6 272.7h0M373.7 272.2h0M374.8 272.5h0M381.4 274.7h0M382.5 275.0h0M383.4 275.1h0M384.3 275.1h0M388.1 276.7h0M388.8 277.6h0M389.6 277.8h0M390.5 277.8h0M391.3 277.7h0M396.1 279.7h0M396.9 280.0h0M397.7 280.6h0M400.6 281.0h0M401.4 281.5h0M402.1 282.2h0M403.0 282.0h0M409.8 284.9h0M410.6 285.5h0M411.4 285.8h0M417.6 287.6h0M418.6 288.3h0M419.3 288.1h0M420.0 287.9h0M422.4 289.8h0M424.6 289.5h0M425.5 291.0h0M426.2 291.1h0M427.3 291.3h0M427.7 291.3h0M432.4 292.7h0M433.6 292.9h0M434.1 293.8h0M437.5 295.3h0M438.1 294.7h0M439.1 295.3h0M444.4 297.3h0M445.5 298.0h0M446.1 297.9h0M447.0 297.8h0M451.3 299.6h0M452.0 299.4h0M453.0 300.3h0M454.6 301.4h0M455.2 301.0h0M456.0 301.2h0M456.8 301.7h0M457.6 301.8h0M463.8 304.8h0M464.5 304.8h0M465.3 304.4h0M466.2 305.2h0M466.5 304.9h0M472.5 307.0h0M473.2 308.0h0M474.4 308.4h0M476.0 308.6h0M476.9 309.5h0M477.6 310.0h0M483.6 312.2h0M484.4 311.8h0M485.0 312.0h0M491.2 314.3h0M492.2 314.8h0M493.2 315.1h0M494.1 315.4h0M494.8 316.6h0M500.2 318.5h0M501.0 318.5h0M507.3 320.0h0M510.2 319.6h0M510.8 319.8h0M512.0 320.1h0" stroke="#1c1c1c" stroke-width="2.3" stroke-linecap="round" fill="none"/>
<path d="M310.1 313.3h0M310.5 311.9h0M310.4 311.6h0M310.3 311.0h0M310.3 310.1h0M310.9 308.1h0M310.7 306.5h0M311.1 305.0h0M311.1 305.3h0M311.1 303.9h0M311.2 301.8h0M311.5 300.9h0M311.5 298.7h0M311.8 297.6h0M311.6 297.4h0M311.9 295.8h0M312.0 294.2h0M312.4 292.4h0M312.4 291.6h0M312.4 290.9h0M312.6 289.8h0M312.6 288.6h0M312.7 288.3h0M313.0 287.0h0M313.4 285.4h0M313.7 283.4h0M313.6 282.5h0M313.8 281.6h0M314.2 281.4h0M314.4 279.7h0M314.5 278.7h0M314.6 277.7h0M314.9 276.0h0M315.0 275.7h0M315.5 275.4h0M315.7 274.4h0M315.9 273.4h0M316.4 271.3h0M316.7 270.5h0M317.2 269.2h0M318.2 267.5h0M319.4 265.9h0M320.0 265.0h0M320.9 265.7h0M322.0 264.5h0M323.3 264.1h0M324.5 263.8h0M325.4 264.3h0M326.6 263.5h0M327.7 264.1h0M328.8 264.5h0M330.6 264.5h0M331.3 264.7h0M333.8 264.6h0M335.1 265.4h0M336.2 265.3h0M337.1 264.9h0M340.6 265.8h0M341.6 266.3h0M344.0 267.2h0M344.9 267.4h0M347.4 267.6h0M348.3 268.1h0M349.3 267.5h0M352.0 268.2h0M353.0 268.9h0M354.0 269.2h0M356.1 268.6h0M356.9 269.4h0M360.2 270.2h0M363.6 270.6h0M364.6 270.4h0M365.4 271.7h0M366.4 271.6h0M367.4 271.3h0M370.8 271.9h0M372.0 272.2h0M372.6 272.7h0M373.7 272.2h0M374.8 272.5h0M381.4 274.7h0M382.5 275.0h0M383.4 275.1h0M384.3 275.1h0M388.1 276.7h0M388.8 277.6h0M389.6 277.8h0M390.5 277.8h0M391.3 277.7h0M396.1 279.7h0M396.9 280.0h0M397.7 280.6h0M400.6 281.0h0M401.4 281.5h0M402.1 282.2h0M403.0 282.0h0M409.8 284.9h0M410.6 285.5h0M411.4 285.8h0M417.6 287.6h0M418.6 288.3h0M419.3 288.1h0M420.0 287.9h0M422.4 289.8h0M424.6 289.5h0M425.5 291.0h0M426.2 291.1h0M427.3 291.3h0M427.7 291.3h0M432.4 292.7h0M433.6 292.9h0M434.1 293.8h0M437.5 295.3h0M438.1 294.7h0M439.1 295.3h0M444.4 297.3h0M445.5 298.0h0M446.1 297.9h0M447.0 297.8h0M451.3 299.6h0M452.0 299.4h0M453.0 300.3h0M454.6 301.4h0M455.2 301.0h0M456.0 301.2h0M456.8 301.7h0M457.6 301.8h0M463.8 304.8h0M464.5 304.8h0M465.3 304.4h0M466.2 305.2h0M466.5 304.9h0M472.5 307.0h0M473.2 308.0h0M474.4 308.4h0M476.0 308.6h0M476.9 309.5h0M477.6 310.0h0M483.6 312.2h0M484.4 311.8h0M485.0 312.0h0M491.2 314.3h0M492.2 314.8h0M493.2 315.1h0M494.1 315.4h0M494.8 316.6h0M500.2 318.5h0M501.0 318.5h0M507.3 320.0h0M510.2 319.6h0M510.8 319.8h0M512.0 320.1h0" stroke="#8a2a4a" stroke-width="1.15" stroke-linecap="round" fill="none"/>
<path d="M310.4 314.0h0M310.2 311.9h0M310.7 310.8h0M310.8 309.7h0M310.7 308.6h0M310.8 307.3h0M310.9 305.6h0M311.0 304.5h0M311.0 304.5h0M311.2 302.5h0M311.4 300.4h0M311.8 298.9h0M311.8 298.9h0M311.8 297.1h0M312.2 296.0h0M312.2 295.6h0M312.1 293.9h0M312.2 293.3h0M312.6 292.3h0M312.7 290.9h0M312.9 290.7h0M313.1 289.6h0M312.8 288.8h0M313.2 286.8h0M313.3 286.2h0M313.6 285.7h0M313.8 284.3h0M314.0 282.9h0M314.4 281.6h0M314.5 279.6h0M314.8 278.5h0M315.1 278.1h0M315.3 276.1h0M315.3 275.6h0M316.1 274.3h0M316.2 272.5h0M316.4 272.0h0M317.3 270.3h0M317.6 270.0h0M318.4 268.0h0M318.8 266.6h0M319.4 266.8h0M320.3 266.0h0M321.9 264.0h0M323.3 263.2h0M323.8 263.2h0M324.6 263.2h0M326.1 263.5h0M326.8 263.1h0M327.6 263.4h0M328.4 263.4h0M329.3 263.5h0M330.5 262.5h0M331.1 263.6h0M332.1 262.9h0M333.4 263.2h0M335.0 263.6h0M336.9 264.1h0M338.0 263.7h0M338.8 264.8h0M341.0 265.3h0M341.7 264.5h0M342.4 265.5h0M343.3 264.8h0M348.9 266.4h0M351.0 266.5h0M352.0 267.6h0M358.6 268.4h0M359.4 268.2h0M361.6 269.5h0M362.9 269.0h0M366.8 269.9h0M367.8 270.0h0M369.5 270.7h0M370.4 270.5h0M371.1 271.5h0M378.0 273.0h0M378.9 272.7h0M379.6 273.5h0M383.6 274.2h0M384.6 274.5h0M388.2 276.3h0M389.1 276.1h0M391.2 277.0h0M392.0 277.6h0M392.8 277.3h0M397.2 279.0h0M398.6 279.8h0M399.5 280.2h0M401.1 280.8h0M402.1 280.7h0M402.9 281.5h0M403.9 281.6h0M407.5 283.3h0M408.1 283.5h0M412.9 285.7h0M413.7 285.8h0M414.6 285.7h0M419.7 288.2h0M420.6 288.6h0M421.5 288.3h0M425.2 289.7h0M426.0 290.1h0M426.6 290.9h0M427.6 290.3h0M430.2 292.0h0M436.2 293.8h0M436.8 293.8h0M437.5 294.5h0M443.4 297.2h0M444.0 296.7h0M444.9 296.8h0M445.8 297.1h0M448.3 298.1h0M449.3 299.3h0M455.6 300.9h0M456.7 301.9h0M463.4 303.7h0M466.7 305.7h0M467.6 305.9h0M472.4 307.7h0M473.0 308.0h0M474.1 308.4h0M476.9 309.0h0M481.3 310.3h0M482.1 310.3h0M483.0 311.0h0M484.2 312.0h0M486.5 312.9h0M487.2 313.2h0M488.3 312.7h0M489.0 312.9h0M489.9 313.2h0M493.7 315.5h0M494.3 314.9h0M498.6 316.1h0M500.5 317.1h0M501.2 317.8h0M502.3 318.4h0M507.0 319.8h0M507.8 319.0h0" stroke="#1c1c1c" stroke-width="2.3" stroke-linecap="round" fill="none"/>
<path d="M310.4 314.0h0M310.2 311.9h0M310.7 310.8h0M310.8 309.7h0M310.7 308.6h0M310.8 307.3h0M310.9 305.6h0M311.0 304.5h0M311.0 304.5h0M311.2 302.5h0M311.4 300.4h0M311.8 298.9h0M311.8 298.9h0M311.8 297.1h0M312.2 296.0h0M312.2 295.6h0M312.1 293.9h0M312.2 293.3h0M312.6 292.3h0M312.7 290.9h0M312.9 290.7h0M313.1 289.6h0M312.8 288.8h0M313.2 286.8h0M313.3 286.2h0M313.6 285.7h0M313.8 284.3h0M314.0 282.9h0M314.4 281.6h0M314.5 279.6h0M314.8 278.5h0M315.1 278.1h0M315.3 276.1h0M315.3 275.6h0M316.1 274.3h0M316.2 272.5h0M316.4 272.0h0M317.3 270.3h0M317.6 270.0h0M318.4 268.0h0M318.8 266.6h0M319.4 266.8h0M320.3 266.0h0M321.9 264.0h0M323.3 263.2h0M323.8 263.2h0M324.6 263.2h0M326.1 263.5h0M326.8 263.1h0M327.6 263.4h0M328.4 263.4h0M329.3 263.5h0M330.5 262.5h0M331.1 263.6h0M332.1 262.9h0M333.4 263.2h0M335.0 263.6h0M336.9 264.1h0M338.0 263.7h0M338.8 264.8h0M341.0 265.3h0M341.7 264.5h0M342.4 265.5h0M343.3 264.8h0M348.9 266.4h0M351.0 266.5h0M352.0 267.6h0M358.6 268.4h0M359.4 268.2h0M361.6 269.5h0M362.9 269.0h0M366.8 269.9h0M367.8 270.0h0M369.5 270.7h0M370.4 270.5h0M371.1 271.5h0M378.0 273.0h0M378.9 272.7h0M379.6 273.5h0M383.6 274.2h0M384.6 274.5h0M388.2 276.3h0M389.1 276.1h0M391.2 277.0h0M392.0 277.6h0M392.8 277.3h0M397.2 279.0h0M398.6 279.8h0M399.5 280.2h0M401.1 280.8h0M402.1 280.7h0M402.9 281.5h0M403.9 281.6h0M407.5 283.3h0M408.1 283.5h0M412.9 285.7h0M413.7 285.8h0M414.6 285.7h0M419.7 288.2h0M420.6 288.6h0M421.5 288.3h0M425.2 289.7h0M426.0 290.1h0M426.6 290.9h0M427.6 290.3h0M430.2 292.0h0M436.2 293.8h0M436.8 293.8h0M437.5 294.5h0M443.4 297.2h0M444.0 296.7h0M444.9 296.8h0M445.8 297.1h0M448.3 298.1h0M449.3 299.3h0M455.6 300.9h0M456.7 301.9h0M463.4 303.7h0M466.7 305.7h0M467.6 305.9h0M472.4 307.7h0M473.0 308.0h0M474.1 308.4h0M476.9 309.0h0M481.3 310.3h0M482.1 310.3h0M483.0 311.0h0M484.2 312.0h0M486.5 312.9h0M487.2 313.2h0M488.3 312.7h0M489.0 312.9h0M489.9 313.2h0M493.7 315.5h0M494.3 314.9h0M498.6 316.1h0M500.5 317.1h0M501.2 317.8h0M502.3 318.4h0M507.0 319.8h0M507.8 319.0h0" stroke="#b22234" stroke-width="1.15" stroke-linecap="round" fill="none"/>
<path d="M310.3 312.3h0M310.3 310.3h0M310.3 309.5h0M310.4 306.5h0M310.5 305.2h0M310.8 304.8h0M310.8 304.8h0M310.9 302.9h0M311.0 301.5h0M310.8 302.0h0M311.1 301.1h0M310.9 299.3h0M311.2 297.7h0M311.1 296.5h0M311.4 295.5h0M311.3 295.6h0M311.4 294.4h0M311.5 292.2h0M311.6 291.3h0M312.0 289.4h0M312.0 289.3h0M312.0 288.1h0M312.3 287.6h0M312.1 286.6h0M312.6 284.1h0M312.7 283.1h0M312.8 282.4h0M312.9 280.8h0M313.3 279.8h0M313.1 278.5h0M313.3 278.4h0M313.6 276.0h0M313.9 274.3h0M314.3 271.5h0M314.9 270.3h0M315.1 269.2h0M315.1 268.3h0M315.4 267.2h0M315.8 267.0h0M316.3 265.7h0M316.9 264.3h0M317.2 263.4h0M318.5 262.8h0M319.3 261.2h0M320.1 261.4h0M320.7 260.8h0M321.6 261.3h0M323.0 261.1h0M323.7 260.9h0M324.5 261.5h0M325.3 261.2h0M326.9 261.2h0M327.9 261.4h0M328.7 261.5h0M329.3 262.2h0M330.1 261.9h0M331.4 262.3h0M332.7 261.8h0M333.3 262.5h0M334.3 262.6h0M335.1 262.6h0M341.0 263.8h0M342.0 263.7h0M342.6 264.4h0M345.9 265.0h0M351.2 266.0h0M351.9 266.2h0M355.6 266.7h0M356.5 266.7h0M357.6 267.6h0M358.6 267.8h0M359.4 267.9h0M363.7 268.4h0M364.5 268.3h0M365.2 268.8h0M369.5 269.5h0M370.4 269.4h0M374.2 271.0h0M375.1 271.4h0M381.9 272.8h0M385.6 274.0h0M387.8 274.5h0M388.5 275.3h0M389.6 275.3h0M390.3 275.8h0M392.5 277.0h0M393.2 276.5h0M397.8 278.8h0M398.9 278.4h0M399.9 279.3h0M402.8 280.8h0M403.7 281.3h0M404.3 281.6h0M410.8 283.7h0M411.6 283.8h0M412.7 284.6h0M413.2 284.2h0M414.2 284.3h0M415.8 285.7h0M416.8 286.1h0M420.2 286.8h0M421.1 287.6h0M422.0 287.9h0M422.8 288.4h0M423.3 288.4h0M428.3 290.6h0M429.4 289.8h0M435.0 292.9h0M435.7 293.3h0M436.5 293.1h0M437.4 293.2h0M438.0 293.3h0M444.1 296.1h0M449.7 297.5h0M450.5 298.0h0M451.3 298.2h0M452.4 299.4h0M458.8 300.8h0M459.4 301.5h0M460.5 301.8h0M461.1 302.4h0M461.8 302.4h0M464.5 302.9h0M465.3 304.1h0M466.0 303.4h0M469.5 305.0h0M470.2 305.5h0M471.0 306.2h0M471.9 306.5h0M474.5 307.0h0M475.5 307.3h0M475.9 307.6h0M476.9 308.5h0M483.4 310.1h0M488.9 312.7h0M489.7 312.3h0M490.4 313.1h0M491.6 313.1h0M495.6 314.8h0M496.6 315.1h0M497.5 315.2h0M498.4 315.9h0M501.6 316.6h0M502.2 317.2h0M503.4 317.8h0M504.0 317.3h0M506.3 317.9h0M507.1 317.9h0M507.8 319.2h0M511.8 319.7h0M512.9 319.9h0M513.6 319.6h0M514.6 320.5h0" stroke="#1c1c1c" stroke-width="2.3" stroke-linecap="round" fill="none"/>
<path d="M310.3 312.3h0M310.3 310.3h0M310.3 309.5h0M310.4 306.5h0M310.5 305.2h0M310.8 304.8h0M310.8 304.8h0M310.9 302.9h0M311.0 301.5h0M310.8 302.0h0M311.1 301.1h0M310.9 299.3h0M311.2 297.7h0M311.1 296.5h0M311.4 295.5h0M311.3 295.6h0M311.4 294.4h0M311.5 292.2h0M311.6 291.3h0M312.0 289.4h0M312.0 289.3h0M312.0 288.1h0M312.3 287.6h0M312.1 286.6h0M312.6 284.1h0M312.7 283.1h0M312.8 282.4h0M312.9 280.8h0M313.3 279.8h0M313.1 278.5h0M313.3 278.4h0M313.6 276.0h0M313.9 274.3h0M314.3 271.5h0M314.9 270.3h0M315.1 269.2h0M315.1 268.3h0M315.4 267.2h0M315.8 267.0h0M316.3 265.7h0M316.9 264.3h0M317.2 263.4h0M318.5 262.8h0M319.3 261.2h0M320.1 261.4h0M320.7 260.8h0M321.6 261.3h0M323.0 261.1h0M323.7 260.9h0M324.5 261.5h0M325.3 261.2h0M326.9 261.2h0M327.9 261.4h0M328.7 261.5h0M329.3 262.2h0M330.1 261.9h0M331.4 262.3h0M332.7 261.8h0M333.3 262.5h0M334.3 262.6h0M335.1 262.6h0M341.0 263.8h0M342.0 263.7h0M342.6 264.4h0M345.9 265.0h0M351.2 266.0h0M351.9 266.2h0M355.6 266.7h0M356.5 266.7h0M357.6 267.6h0M358.6 267.8h0M359.4 267.9h0M363.7 268.4h0M364.5 268.3h0M365.2 268.8h0M369.5 269.5h0M370.4 269.4h0M374.2 271.0h0M375.1 271.4h0M381.9 272.8h0M385.6 274.0h0M387.8 274.5h0M388.5 275.3h0M389.6 275.3h0M390.3 275.8h0M392.5 277.0h0M393.2 276.5h0M397.8 278.8h0M398.9 278.4h0M399.9 279.3h0M402.8 280.8h0M403.7 281.3h0M404.3 281.6h0M410.8 283.7h0M411.6 283.8h0M412.7 284.6h0M413.2 284.2h0M414.2 284.3h0M415.8 285.7h0M416.8 286.1h0M420.2 286.8h0M421.1 287.6h0M422.0 287.9h0M422.8 288.4h0M423.3 288.4h0M428.3 290.6h0M429.4 289.8h0M435.0 292.9h0M435.7 293.3h0M436.5 293.1h0M437.4 293.2h0M438.0 293.3h0M444.1 296.1h0M449.7 297.5h0M450.5 298.0h0M451.3 298.2h0M452.4 299.4h0M458.8 300.8h0M459.4 301.5h0M460.5 301.8h0M461.1 302.4h0M461.8 302.4h0M464.5 302.9h0M465.3 304.1h0M466.0 303.4h0M469.5 305.0h0M470.2 305.5h0M471.0 306.2h0M471.9 306.5h0M474.5 307.0h0M475.5 307.3h0M475.9 307.6h0M476.9 308.5h0M483.4 310.1h0M488.9 312.7h0M489.7 312.3h0M490.4 313.1h0M491.6 313.1h0M495.6 314.8h0M496.6 315.1h0M497.5 315.2h0M498.4 315.9h0M501.6 316.6h0M502.2 317.2h0M503.4 317.8h0M504.0 317.3h0M506.3 317.9h0M507.1 317.9h0M507.8 319.2h0M511.8 319.7h0M512.9 319.9h0M513.6 319.6h0M514.6 320.5h0" stroke="#c04070" stroke-width="1.15" stroke-linecap="round" fill="none"/>
<path d="M311.6 297.1h0M311.9 294.2h0M312.6 287.6h0M313.3 282.9h0M313.8 278.9h0M314.5 275.1h0M315.2 269.0h0M316.1 266.1h0M317.4 260.5h0M319.1 256.7h0M320.9 252.5h0M323.1 250.3h0M327.3 248.8h0M331.0 249.7h0M334.4 249.3h0M350.6 254.2h0M362.8 257.4h0M372.5 261.2h0M383.8 265.6h0M397.4 271.3h0M410.2 277.4h0M418.1 281.4h0" stroke="#1c1c1c" stroke-width="2.3" stroke-linecap="round" fill="none"/>
<path d="M311.6 297.1h0M311.9 294.2h0M312.6 287.6h0M313.3 282.9h0M313.8 278.9h0M314.5 275.1h0M315.2 269.0h0M316.1 266.1h0M317.4 260.5h0M319.1 256.7h0M320.9 252.5h0M323.1 250.3h0M327.3 248.8h0M331.0 249.7h0M334.4 249.3h0M350.6 254.2h0M362.8 257.4h0M372.5 261.2h0M383.8 265.6h0M397.4 271.3h0M410.2 277.4h0M418.1 281.4h0" stroke="#2a3a8a" stroke-width="1.15" stroke-linecap="round" fill="none"/>
<rect x="310" y="428.7" width="12" height="2.4" fill="#4aa882" opacity="0.55"/>
<rect x="310" y="437.4" width="16" height="2.4" fill="#48b048" opacity="0.6"/>
<rect x="310" y="444.3" width="7" height="2.4" fill="#e060a8" opacity="0.5"/>
<rect x="310" y="448.9" width="34" height="2.4" fill="#c8a888" opacity="0.45"/>
<rect x="310" y="456.0" width="12" height="2.4" fill="#a84068" opacity="0.5"/>
<path d="M311.9 415.9v2.6M321.8 415.9v2.6M326.1 415.9v2.6M335.5 415.9v2.6M339.0 415.9v2.6M344.3 415.9v2.6M345.2 415.9v2.6M346.0 415.9v2.6M347.0 415.9v2.6M352.1 415.9v2.6M360.0 415.9v2.6M361.2 415.9v2.6M363.7 415.9v2.6M370.8 415.9v2.6M375.2 415.9v2.6M377.5 415.9v2.6M387.8 415.9v2.6M393.5 415.9v2.6M394.3 415.9v2.6M398.0 415.9v2.6M401.2 415.9v2.6M404.9 415.9v2.6M408.4 415.9v2.6M414.6 415.9v2.6M420.7 415.9v2.6M421.7 415.9v2.6M430.7 415.9v2.6M433.7 415.9v2.6M439.9 415.9v2.6M441.4 415.9v2.6M443.8 415.9v2.6M446.6 415.9v2.6M468.3 415.9v2.6M480.4 415.9v2.6M486.1 415.9v2.6M488.3 415.9v2.6M491.1 415.9v2.6M492.8 415.9v2.6M500.1 415.9v2.6M504.9 415.9v2.6M511.4 415.9v2.6M514.3 415.9v2.6M515.1 415.9v2.6" stroke="#d8d8d8" stroke-width="0.4" stroke-opacity="0.4" fill="none"/>
<path d="M310.8 418.7v2.6M313.3 418.7v2.6M315.3 418.7v2.6M317.5 418.7v2.6M326.1 418.7v2.6M326.8 418.7v2.6M329.0 418.7v2.6M332.8 418.7v2.6M334.8 418.7v2.6M339.8 418.7v2.6M346.0 418.7v2.6M348.4 418.7v2.6M353.9 418.7v2.6M356.0 418.7v2.6M358.9 418.7v2.6M366.6 418.7v2.6M367.6 418.7v2.6M371.6 418.7v2.6M375.1 418.7v2.6M382.0 418.7v2.6M383.7 418.7v2.6M389.0 418.7v2.6M393.0 418.7v2.6M402.7 418.7v2.6M412.8 418.7v2.6M421.1 418.7v2.6M425.3 418.7v2.6M427.5 418.7v2.6M436.1 418.7v2.6M439.2 418.7v2.6M441.6 418.7v2.6M444.2 418.7v2.6M455.4 418.7v2.6M456.7 418.7v2.6M467.0 418.7v2.6M473.2 418.7v2.6M481.0 418.7v2.6M486.7 418.7v2.6M496.7 418.7v2.6M497.5 418.7v2.6M501.8 418.7v2.6M508.8 418.7v2.6M511.2 418.7v2.6" stroke="#dddddd" stroke-width="0.4" stroke-opacity="0.3" fill="none"/>
<path d="M310.4 428.6v2.6M312.1 428.6v2.6M313.0 428.6v2.6M315.8 428.6v2.6M319.9 428.6v2.6M320.8 428.6v2.6M326.1 428.6v2.6M328.1 428.6v2.6M333.3 428.6v2.6M335.7 428.6v2.6M339.3 428.6v2.6M340.8 428.6v2.6M342.5 428.6v2.6M344.2 428.6v2.6M350.9 428.6v2.6M352.2 428.6v2.6M356.1 428.6v2.6M359.5 428.6v2.6M366.8 428.6v2.6M372.1 428.6v2.6M374.8 428.6v2.6M375.5 428.6v2.6M384.1 428.6v2.6M390.0 428.6v2.6M393.5 428.6v2.6M395.2 428.6v2.6M395.9 428.6v2.6M398.9 428.6v2.6M406.7 428.6v2.6M407.9 428.6v2.6M408.9 428.6v2.6M410.5 428.6v2.6M416.9 428.6v2.6M422.8 428.6v2.6M431.6 428.6v2.6M435.4 428.6v2.6M438.6 428.6v2.6M441.6 428.6v2.6M444.5 428.6v2.6M447.0 428.6v2.6M453.7 428.6v2.6M454.8 428.6v2.6M460.6 428.6v2.6M463.2 428.6v2.6M468.5 428.6v2.6M475.7 428.6v2.6M477.1 428.6v2.6M478.0 428.6v2.6M484.2 428.6v2.6M484.9 428.6v2.6M488.3 428.6v2.6M489.5 428.6v2.6M491.9 428.6v2.6M496.0 428.6v2.6M503.1 428.6v2.6M508.3 428.6v2.6M510.7 428.6v2.6" stroke="#4aa882" stroke-width="0.4" stroke-opacity="0.7" fill="none"/>
<path d="M311.9 431.3v2.6M319.0 431.3v2.6M323.4 431.3v2.6M324.0 431.3v2.6M332.6 431.3v2.6M336.0 431.3v2.6M339.6 431.3v2.6M345.9 431.3v2.6M359.3 431.3v2.6M362.3 431.3v2.6M366.0 431.3v2.6M370.0 431.3v2.6M372.5 431.3v2.6M373.5 431.3v2.6M381.7 431.3v2.6M383.2 431.3v2.6M384.2 431.3v2.6M384.9 431.3v2.6M391.3 431.3v2.6M394.7 431.3v2.6M400.4 431.3v2.6M404.8 431.3v2.6M410.4 431.3v2.6M418.3 431.3v2.6M418.8 431.3v2.6M420.8 431.3v2.6M422.7 431.3v2.6M425.4 431.3v2.6M426.3 431.3v2.6M437.2 431.3v2.6M439.5 431.3v2.6M444.5 431.3v2.6M445.5 431.3v2.6M450.1 431.3v2.6M455.5 431.3v2.6M456.3 431.3v2.6M457.3 431.3v2.6M460.4 431.3v2.6M467.4 431.3v2.6M468.7 431.3v2.6M472.5 431.3v2.6M473.2 431.3v2.6M477.3 431.3v2.6M491.7 431.3v2.6M493.2 431.3v2.6M497.1 431.3v2.6M500.4 431.3v2.6M501.4 431.3v2.6M502.6 431.3v2.6M507.9 431.3v2.6M510.8 431.3v2.6M515.6 431.3v2.6" stroke="#f0b040" stroke-width="0.4" stroke-opacity="0.6" fill="none"/>
<path d="M311.0 432.5v2.6M312.7 432.5v2.6M321.3 432.5v2.6M336.4 432.5v2.6M351.2 432.5v2.6M353.9 432.5v2.6M355.1 432.5v2.6M377.2 432.5v2.6M397.9 432.5v2.6M401.4 432.5v2.6M409.9 432.5v2.6M416.7 432.5v2.6M435.2 432.5v2.6M442.6 432.5v2.6M443.4 432.5v2.6M447.3 432.5v2.6M447.9 432.5v2.6M459.3 432.5v2.6M468.2 432.5v2.6M469.5 432.5v2.6M473.6 432.5v2.6M483.5 432.5v2.6M486.6 432.5v2.6M491.8 432.5v2.6M492.5 432.5v2.6M497.6 432.5v2.6M498.3 432.5v2.6M515.1 432.5v2.6" stroke="#e05060" stroke-width="0.4" stroke-opacity="0.5" fill="none"/>
<path d="M311.4 434.3v2.6M328.5 434.3v2.6M330.0 434.3v2.6M351.9 434.3v2.6M356.9 434.3v2.6M359.8 434.3v2.6M372.5 434.3v2.6M381.7 434.3v2.6M388.1 434.3v2.6M390.0 434.3v2.6M390.9 434.3v2.6M400.0 434.3v2.6M403.8 434.3v2.6M408.2 434.3v2.6M410.8 434.3v2.6M415.8 434.3v2.6M417.6 434.3v2.6M424.7 434.3v2.6M429.5 434.3v2.6M437.5 434.3v2.6M440.5 434.3v2.6M445.7 434.3v2.6M447.9 434.3v2.6M448.6 434.3v2.6M450.6 434.3v2.6M453.6 434.3v2.6M455.2 434.3v2.6M458.6 434.3v2.6M461.8 434.3v2.6M462.6 434.3v2.6M463.2 434.3v2.6M466.6 434.3v2.6M471.5 434.3v2.6M472.5 434.3v2.6M474.1 434.3v2.6M476.5 434.3v2.6M480.1 434.3v2.6M481.1 434.3v2.6M492.8 434.3v2.6M494.6 434.3v2.6M502.1 434.3v2.6M508.1 434.3v2.6" stroke="#8898b8" stroke-width="0.4" stroke-opacity="0.5" fill="none"/>
<path d="M311.8 437.3v2.6M313.5 437.3v2.6M315.6 437.3v2.6M316.5 437.3v2.6M321.3 437.3v2.6M322.0 437.3v2.6M324.1 437.3v2.6M325.9 437.3v2.6M330.0 437.3v2.6M331.8 437.3v2.6M334.0 437.3v2.6M337.0 437.3v2.6M338.2 437.3v2.6M350.7 437.3v2.6M355.0 437.3v2.6M356.1 437.3v2.6M359.2 437.3v2.6M360.3 437.3v2.6M361.4 437.3v2.6M368.0 437.3v2.6M373.1 437.3v2.6M374.3 437.3v2.6M375.5 437.3v2.6M384.5 437.3v2.6M387.3 437.3v2.6M389.4 437.3v2.6M392.4 437.3v2.6M393.5 437.3v2.6M396.2 437.3v2.6M405.2 437.3v2.6M406.8 437.3v2.6M408.3 437.3v2.6M411.5 437.3v2.6M415.2 437.3v2.6M419.1 437.3v2.6M422.2 437.3v2.6M424.7 437.3v2.6M430.4 437.3v2.6M436.3 437.3v2.6M437.4 437.3v2.6M438.5 437.3v2.6M439.7 437.3v2.6M448.8 437.3v2.6M450.4 437.3v2.6M456.8 437.3v2.6M458.3 437.3v2.6M459.7 437.3v2.6M461.5 437.3v2.6M462.3 437.3v2.6M467.5 437.3v2.6M471.2 437.3v2.6M472.7 437.3v2.6M475.0 437.3v2.6M478.7 437.3v2.6M486.7 437.3v2.6M490.5 437.3v2.6M493.7 437.3v2.6M494.9 437.3v2.6M498.5 437.3v2.6M505.1 437.3v2.6M511.9 437.3v2.6M513.8 437.3v2.6M514.9 437.3v2.6M516.4 437.3v2.6" stroke="#48b048" stroke-width="0.4" stroke-opacity="0.75" fill="none"/>
<path d="M312.1 441.1v2.6M321.8 441.1v2.6M325.6 441.1v2.6M327.0 441.1v2.6M330.0 441.1v2.6M334.1 441.1v2.6M337.0 441.1v2.6M345.9 441.1v2.6M347.3 441.1v2.6M349.4 441.1v2.6M356.6 441.1v2.6M358.5 441.1v2.6M360.9 441.1v2.6M365.6 441.1v2.6M367.2 441.1v2.6M372.4 441.1v2.6M376.0 441.1v2.6M383.6 441.1v2.6M387.8 441.1v2.6M389.3 441.1v2.6M399.6 441.1v2.6M402.6 441.1v2.6M403.2 441.1v2.6M405.3 441.1v2.6M413.1 441.1v2.6M414.2 441.1v2.6M414.9 441.1v2.6M418.2 441.1v2.6M422.8 441.1v2.6M427.5 441.1v2.6M428.4 441.1v2.6M433.3 441.1v2.6M443.2 441.1v2.6M445.2 441.1v2.6M456.2 441.1v2.6M457.6 441.1v2.6M459.7 441.1v2.6M462.0 441.1v2.6M468.3 441.1v2.6M472.3 441.1v2.6M473.6 441.1v2.6M482.3 441.1v2.6M483.0 441.1v2.6M490.4 441.1v2.6M493.9 441.1v2.6M500.0 441.1v2.6M503.3 441.1v2.6M513.1 441.1v2.6" stroke="#e8d878" stroke-width="0.4" stroke-opacity="0.55" fill="none"/>
<path d="M310.3 444.2v2.6M316.7 444.2v2.6M320.3 444.2v2.6M321.0 444.2v2.6M322.8 444.2v2.6M323.8 444.2v2.6M324.7 444.2v2.6M326.1 444.2v2.6M326.9 444.2v2.6M328.6 444.2v2.6M331.0 444.2v2.6M333.6 444.2v2.6M338.1 444.2v2.6M341.3 444.2v2.6M350.6 444.2v2.6M351.5 444.2v2.6M354.3 444.2v2.6M368.8 444.2v2.6M370.5 444.2v2.6M371.4 444.2v2.6M374.8 444.2v2.6M378.7 444.2v2.6M382.1 444.2v2.6M383.4 444.2v2.6M392.4 444.2v2.6M397.1 444.2v2.6M401.5 444.2v2.6M402.7 444.2v2.6M409.3 444.2v2.6M415.1 444.2v2.6M424.2 444.2v2.6M426.3 444.2v2.6M427.4 444.2v2.6M434.8 444.2v2.6M440.0 444.2v2.6M441.7 444.2v2.6M446.7 444.2v2.6M448.8 444.2v2.6M450.3 444.2v2.6M460.5 444.2v2.6M464.9 444.2v2.6M470.5 444.2v2.6M471.9 444.2v2.6M472.6 444.2v2.6M480.2 444.2v2.6M484.7 444.2v2.6M497.2 444.2v2.6M499.5 444.2v2.6M513.0 444.2v2.6M514.5 444.2v2.6" stroke="#e060a8" stroke-width="0.4" stroke-opacity="0.65" fill="none"/>
<path d="M312.3 448.8v2.6M315.4 448.8v2.6M316.3 448.8v2.6M318.6 448.8v2.6M321.4 448.8v2.6M322.3 448.8v2.6M326.0 448.8v2.6M331.6 448.8v2.6M333.0 448.8v2.6M334.0 448.8v2.6M334.6 448.8v2.6M337.2 448.8v2.6M338.3 448.8v2.6M342.4 448.8v2.6M344.1 448.8v2.6M347.6 448.8v2.6M349.7 448.8v2.6M352.5 448.8v2.6M353.9 448.8v2.6M354.9 448.8v2.6M356.0 448.8v2.6M358.1 448.8v2.6M359.3 448.8v2.6M364.4 448.8v2.6M373.5 448.8v2.6M377.4 448.8v2.6M380.8 448.8v2.6M381.6 448.8v2.6M384.3 448.8v2.6M385.2 448.8v2.6M386.2 448.8v2.6M388.2 448.8v2.6M394.1 448.8v2.6M397.1 448.8v2.6M397.8 448.8v2.6M400.2 448.8v2.6M403.9 448.8v2.6M407.1 448.8v2.6M414.9 448.8v2.6M426.7 448.8v2.6M435.2 448.8v2.6M436.1 448.8v2.6M447.1 448.8v2.6M453.2 448.8v2.6M462.2 448.8v2.6M462.9 448.8v2.6M467.7 448.8v2.6M469.4 448.8v2.6M477.3 448.8v2.6M478.4 448.8v2.6M481.3 448.8v2.6M484.5 448.8v2.6M487.2 448.8v2.6M500.0 448.8v2.6M501.4 448.8v2.6M504.3 448.8v2.6M511.3 448.8v2.6M516.2 448.8v2.6" stroke="#c0a080" stroke-width="0.4" stroke-opacity="0.6" fill="none"/>
<path d="M312.5 452.8v2.6M313.7 452.8v2.6M321.0 452.8v2.6M329.8 452.8v2.6M332.1 452.8v2.6M334.2 452.8v2.6M335.3 452.8v2.6M342.1 452.8v2.6M349.8 452.8v2.6M354.8 452.8v2.6M365.4 452.8v2.6M367.6 452.8v2.6M368.6 452.8v2.6M374.4 452.8v2.6M377.9 452.8v2.6M380.1 452.8v2.6M386.1 452.8v2.6M389.4 452.8v2.6M392.9 452.8v2.6M398.2 452.8v2.6M399.5 452.8v2.6M404.8 452.8v2.6M405.6 452.8v2.6M406.6 452.8v2.6M408.5 452.8v2.6M412.9 452.8v2.6M415.7 452.8v2.6M420.6 452.8v2.6M421.7 452.8v2.6M428.3 452.8v2.6M432.8 452.8v2.6M436.6 452.8v2.6M438.7 452.8v2.6M440.7 452.8v2.6M458.2 452.8v2.6M459.2 452.8v2.6M480.2 452.8v2.6M482.4 452.8v2.6M484.3 452.8v2.6M490.9 452.8v2.6M493.6 452.8v2.6M494.7 452.8v2.6M497.4 452.8v2.6M499.6 452.8v2.6M502.0 452.8v2.6M504.5 452.8v2.6M508.2 452.8v2.6M508.9 452.8v2.6M509.7 452.8v2.6" stroke="#90b0d8" stroke-width="0.4" stroke-opacity="0.5" fill="none"/>
<path d="M312.8 455.9v2.6M314.8 455.9v2.6M316.4 455.9v2.6M317.9 455.9v2.6M318.6 455.9v2.6M320.4 455.9v2.6M325.9 455.9v2.6M334.9 455.9v2.6M336.2 455.9v2.6M338.7 455.9v2.6M339.7 455.9v2.6M342.9 455.9v2.6M345.0 455.9v2.6M347.3 455.9v2.6M351.2 455.9v2.6M356.5 455.9v2.6M357.2 455.9v2.6M363.2 455.9v2.6M372.2 455.9v2.6M377.2 455.9v2.6M382.0 455.9v2.6M383.3 455.9v2.6M392.6 455.9v2.6M396.2 455.9v2.6M399.7 455.9v2.6M401.1 455.9v2.6M405.1 455.9v2.6M406.7 455.9v2.6M415.5 455.9v2.6M423.8 455.9v2.6M428.0 455.9v2.6M433.1 455.9v2.6M441.6 455.9v2.6M446.0 455.9v2.6M447.3 455.9v2.6M452.5 455.9v2.6M454.0 455.9v2.6M461.0 455.9v2.6M462.9 455.9v2.6M475.5 455.9v2.6M482.8 455.9v2.6M488.8 455.9v2.6M498.7 455.9v2.6M500.4 455.9v2.6M509.4 455.9v2.6" stroke="#a84068" stroke-width="0.4" stroke-opacity="0.6" fill="none"/>
<rect x="509" y="428.6" width="7.5" height="2.6" fill="#3cb371" opacity="0.8"/>
<rect x="509" y="431.6" width="7.5" height="2.2" fill="#e8c030" opacity="0.8"/>
<rect x="510" y="456.0" width="6.5" height="2.4" fill="#50c0d0" opacity="0.8"/>
<line x1="309.5" y1="460.4" x2="517" y2="460.4" stroke="#444" stroke-width="0.8"/>
<text x="375.2" y="465.1" class="rk">High risk&lt;---------------------&gt;Low risk</text>
<circle cx="526.2" cy="13.2" r="1.0" fill="#2a8a8a" stroke="#333" stroke-width="0.35"/>
<text x="532.4" y="14.7" class="lg">KEGG_AMINOACYL_TRNA_BIOSYNTHESIS</text>
<circle cx="526.2" cy="21.15" r="1.0" fill="#5a1a2a" stroke="#333" stroke-width="0.35"/>
<text x="532.4" y="22.65" class="lg">KEGG_AXON_GUIDANCE</text>
<circle cx="526.2" cy="29.1" r="1.0" fill="#4a7a9a" stroke="#333" stroke-width="0.35"/>
<text x="532.4" y="30.6" class="lg">KEGG_BUTANOATE_METABOLISM</text>
<circle cx="526.2" cy="37.05" r="1.0" fill="#111111" stroke="#333" stroke-width="0.35"/>
<text x="532.4" y="38.55" class="lg">KEGG_CITRATE_CYCLE_TCA_CYCLE</text>
<circle cx="526.2" cy="45" r="1.0" fill="#6a4a2a" stroke="#333" stroke-width="0.35"/>
<text x="532.4" y="46.5" class="lg">KEGG_DILATED_CARDIOMYOPATHY</text>
<circle cx="526.2" cy="52.95" r="1.0" fill="#3a3a6a" stroke="#333" stroke-width="0.35"/>
<text x="532.4" y="54.45" class="lg">KEGG_ECM_RECEPTOR_INTERACTION</text>
<circle cx="526.2" cy="60.9" r="1.0" fill="#a02040" stroke="#333" stroke-width="0.35"/>
<text x="532.4" y="62.4" class="lg">KEGG_FOCAL_ADHESION</text>
<circle cx="526.2" cy="68.85" r="1.0" fill="#9a9a30" stroke="#333" stroke-width="0.35"/>
<text x="532.4" y="70.35" class="lg">KEGG_GLYCOSAMINOGLYCAN_BIOSYNTHESIS_CHONDROITIN_SULFATE</text>
<circle cx="526.2" cy="76.8" r="1.0" fill="#303040" stroke="#333" stroke-width="0.35"/>
<text x="532.4" y="78.3" class="lg">KEGG_GLYCOSYLPHOSPHATIDYLINOSITOL_GPI_ANCHOR_BIOSYNTHESIS</text>
<circle cx="526.2" cy="84.75" r="1.0" fill="#6a9a6a" stroke="#333" stroke-width="0.35"/>
<text x="532.4" y="86.25" class="lg">KEGG_HYPERTROPHIC_CARDIOMYOPATHY_HCM</text>
<circle cx="526.2" cy="92.7" r="1.0" fill="#202050" stroke="#333" stroke-width="0.35"/>
<text x="532.4" y="94.2" class="lg">KEGG_PEROXISOME</text>
<circle cx="526.2" cy="100.65" r="1.0" fill="#b02030" stroke="#333" stroke-width="0.35"/>
<text x="532.4" y="102.15" class="lg">KEGG_PROPANOATE_METABOLISM</text>
<circle cx="526.2" cy="108.6" r="1.0" fill="#b0b030" stroke="#333" stroke-width="0.35"/>
<text x="532.4" y="110.1" class="lg">KEGG_PROTEIN_EXPORT</text>
<circle cx="526.2" cy="116.55" r="1.0" fill="#206040" stroke="#333" stroke-width="0.35"/>
<text x="532.4" y="118.05" class="lg">KEGG_PYRUVATE_METABOLISM</text>
<circle cx="526.2" cy="124.5" r="1.0" fill="#208050" stroke="#333" stroke-width="0.35"/>
<text x="532.4" y="126" class="lg">KEGG_REGULATION_OF_ACTIN_CYTOSKELETON</text>
<circle cx="526.2" cy="132.45" r="0.85" fill="#e0e0e0" stroke="#888" stroke-width="0.55"/>
<text x="532.4" y="133.95" class="lg">KEGG_SYSTEMIC_LUPUS_ERYTHEMATOSUS</text>
<circle cx="526.2" cy="140.4" r="0.85" fill="#e0e0e0" stroke="#888" stroke-width="0.55"/>
<text x="532.4" y="141.9" class="lg">KEGG_TERPENOID_BACKBONE_BIOSYNTHESIS</text>
<circle cx="526.2" cy="148.35" r="0.85" fill="#e0e0e0" stroke="#888" stroke-width="0.55"/>
<text x="532.4" y="149.85" class="lg">KEGG_VALINE_LEUCINE_AND_ISOLEUCINE_DEGRADATION</text>
<circle cx="526.2" cy="156.3" r="0.85" fill="#e0e0e0" stroke="#888" stroke-width="0.55"/>
<text x="532.4" y="157.8" class="lg">KEGG_VASCULAR_SMOOTH_MUSCLE_CONTRACTION</text>
<circle cx="526.2" cy="164.25" r="0.85" fill="#e0e0e0" stroke="#888" stroke-width="0.55"/>
<text x="532.4" y="165.75" class="lg">KEGG_WNT_SIGNALING_PATHWAY</text>
<circle cx="528.8" cy="247.6" r="1.0" fill="#40a0a0" stroke="#333" stroke-width="0.35"/>
<text x="535.1" y="249.1" class="lg">KEGG_ALZHEIMERS_DISEASE</text>
<circle cx="528.8" cy="255.54" r="1.0" fill="#5a1a2a" stroke="#333" stroke-width="0.35"/>
<text x="535.1" y="257.04" class="lg">KEGG_AXON_GUIDANCE</text>
<circle cx="528.8" cy="263.48" r="1.0" fill="#6090b0" stroke="#333" stroke-width="0.35"/>
<text x="535.1" y="264.98" class="lg">KEGG_BASAL_CELL_CARCINOMA</text>
<circle cx="528.8" cy="271.42" r="1.0" fill="#111111" stroke="#333" stroke-width="0.35"/>
<text x="535.1" y="272.92" class="lg">KEGG_BUTANOATE_METABOLISM</text>
<circle cx="528.8" cy="279.36" r="1.0" fill="#a08050" stroke="#333" stroke-width="0.35"/>
<text x="535.1" y="280.86" class="lg">KEGG_CALCIUM_SIGNALING_PATHWAY</text>
<circle cx="528.8" cy="287.3" r="1.0" fill="#7060a0" stroke="#333" stroke-width="0.35"/>
<text x="535.1" y="288.8" class="lg">KEGG_CITRATE_CYCLE_TCA_CYCLE</text>
<circle cx="528.8" cy="295.24" r="1.0" fill="#c04070" stroke="#333" stroke-width="0.35"/>
<text x="535.1" y="296.74" class="lg">KEGG_COMPLEMENT_AND_COAGULATION_CASCADES</text>
<circle cx="528.8" cy="303.18" r="1.0" fill="#c8c060" stroke="#333" stroke-width="0.35"/>
<text x="535.1" y="304.68" class="lg">KEGG_DILATED_CARDIOMYOPATHY</text>
<circle cx="528.8" cy="311.12" r="1.0" fill="#503040" stroke="#333" stroke-width="0.35"/>
<text x="535.1" y="312.62" class="lg">KEGG_FATTY_ACID_METABOLISM</text>
<circle cx="528.8" cy="319.06" r="1.0" fill="#80b060" stroke="#333" stroke-width="0.35"/>
<text x="535.1" y="320.56" class="lg">KEGG_FOCAL_ADHESION</text>
<circle cx="528.8" cy="327" r="1.0" fill="#202060" stroke="#333" stroke-width="0.35"/>
<text x="535.1" y="328.5" class="lg">KEGG_GLYCOSAMINOGLYCAN_BIOSYNTHESIS_CHONDROITIN_SULFATE</text>
<circle cx="528.8" cy="334.94" r="1.0" fill="#c02030" stroke="#333" stroke-width="0.35"/>
<text x="535.1" y="336.44" class="lg">KEGG_HEDGEHOG_SIGNALING_PATHWAY</text>
<circle cx="528.8" cy="342.88" r="1.0" fill="#c0a030" stroke="#333" stroke-width="0.35"/>
<text x="535.1" y="344.38" class="lg">KEGG_HUNTINGTONS_DISEASE</text>
<circle cx="528.8" cy="350.82" r="1.0" fill="#206040" stroke="#333" stroke-width="0.35"/>
<text x="535.1" y="352.32" class="lg">KEGG_MELANOGENESIS</text>
<circle cx="528.8" cy="358.76" r="1.0" fill="#20a050" stroke="#333" stroke-width="0.35"/>
<text x="535.1" y="360.26" class="lg">KEGG_OXIDATIVE_PHOSPHORYLATION</text>
<circle cx="528.8" cy="366.7" r="0.85" fill="#e0e0e0" stroke="#888" stroke-width="0.55"/>
<text x="535.1" y="368.2" class="lg">KEGG_PARKINSONS_DISEASE</text>
<circle cx="528.8" cy="374.64" r="0.85" fill="#e0e0e0" stroke="#888" stroke-width="0.55"/>
<text x="535.1" y="376.14" class="lg">KEGG_PEROXISOME</text>
<circle cx="528.8" cy="382.58" r="0.85" fill="#e0e0e0" stroke="#888" stroke-width="0.55"/>
<text x="535.1" y="384.08" class="lg">KEGG_PROPANOATE_METABOLISM</text>
<circle cx="528.8" cy="390.52" r="0.85" fill="#e0e0e0" stroke="#888" stroke-width="0.55"/>
<text x="535.1" y="392.02" class="lg">KEGG_VALINE_LEUCINE_AND_ISOLEUCINE_DEGRADATION</text>
<circle cx="528.8" cy="398.46" r="0.85" fill="#e0e0e0" stroke="#888" stroke-width="0.55"/>
<text x="535.1" y="399.96" class="lg">KEGG_VASCULAR_SMOOTH_MUSCLE_CONTRACTION</text>
</svg></body></html>
